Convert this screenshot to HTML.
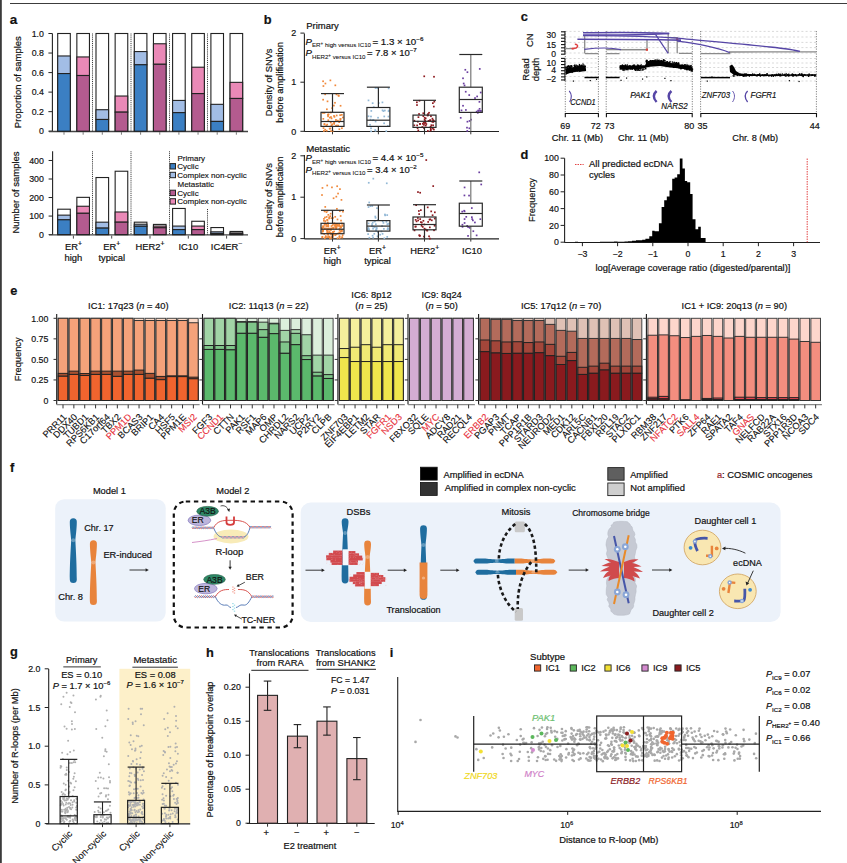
<!DOCTYPE html>
<html><head><meta charset="utf-8"><style>
html,body{margin:0;padding:0;background:#fff;width:847px;height:863px;overflow:hidden}
svg{display:block}
svg{fill:#111}
text{font-family:"Liberation Sans",sans-serif}
</style></head><body>
<svg width="847" height="863" viewBox="0 0 847 863">
<rect x="0" y="0" width="847" height="863" fill="#fff"/>
<rect x="0" y="0" width="1.8" height="863" fill="#3a3a3a"/>
<line x1="10" y1="3.5" x2="847" y2="3.5" stroke="#3c3c3c" stroke-width="1.2"/>
<text stroke="#111" stroke-width="0.2" x="9.8" y="24.1" font-size="13.5" font-weight="bold">a</text>
<line x1="52.4" y1="33.5" x2="52.4" y2="131.7" stroke="#222" stroke-width="1.1" />
<line x1="48.4" y1="131.2" x2="52.4" y2="131.2" stroke="#222" stroke-width="1" />
<text stroke="#111" stroke-width="0.179" x="43.9" y="134.3" font-size="8.8" text-anchor="end">0</text>
<line x1="48.4" y1="111.66" x2="52.4" y2="111.66" stroke="#222" stroke-width="1" />
<text stroke="#111" stroke-width="0.179" x="43.9" y="114.76" font-size="8.8" text-anchor="end">0.2</text>
<line x1="48.4" y1="92.12" x2="52.4" y2="92.12" stroke="#222" stroke-width="1" />
<text stroke="#111" stroke-width="0.179" x="43.9" y="95.22" font-size="8.8" text-anchor="end">0.4</text>
<line x1="48.4" y1="72.58" x2="52.4" y2="72.58" stroke="#222" stroke-width="1" />
<text stroke="#111" stroke-width="0.179" x="43.9" y="75.68" font-size="8.8" text-anchor="end">0.6</text>
<line x1="48.4" y1="53.04" x2="52.4" y2="53.04" stroke="#222" stroke-width="1" />
<text stroke="#111" stroke-width="0.179" x="43.9" y="56.14" font-size="8.8" text-anchor="end">0.8</text>
<line x1="48.4" y1="33.5" x2="52.4" y2="33.5" stroke="#222" stroke-width="1" />
<text stroke="#111" stroke-width="0.179" x="43.9" y="36.6" font-size="8.8" text-anchor="end">1.0</text>
<line x1="49" y1="131.5" x2="248" y2="131.5" stroke="#444" stroke-width="1.4" />
<text stroke="#111" stroke-width="0.2" x="21.3" y="82.2" font-size="9.46" text-anchor="middle" transform="rotate(-90 21.3 82.2)">Proportion of samples</text>
<rect x="57.7" y="33.5" width="12.6" height="97.7" fill="#fff" stroke="#222" stroke-width="1.1" />
<rect x="57.7" y="55.97" width="12.6" height="17.59" fill="#a2bde5" stroke="#222" stroke-width="1.1" />
<rect x="57.7" y="73.56" width="12.6" height="57.64" fill="#3b7fc3" stroke="#222" stroke-width="1.1" />
<line x1="64" y1="132.2" x2="64" y2="134.7" stroke="#555" stroke-width="0.8" />
<rect x="76.85" y="33.5" width="12.6" height="97.7" fill="#fff" stroke="#222" stroke-width="1.1" />
<rect x="76.85" y="56.95" width="12.6" height="18.56" fill="#ea89b7" stroke="#222" stroke-width="1.1" />
<rect x="76.85" y="75.51" width="12.6" height="55.69" fill="#b45b8f" stroke="#222" stroke-width="1.1" />
<line x1="83.15" y1="132.2" x2="83.15" y2="134.7" stroke="#555" stroke-width="0.8" />
<rect x="96" y="33.5" width="12.6" height="97.7" fill="#fff" stroke="#222" stroke-width="1.1" />
<rect x="96" y="109.71" width="12.6" height="9.77" fill="#a2bde5" stroke="#222" stroke-width="1.1" />
<rect x="96" y="119.48" width="12.6" height="11.72" fill="#3b7fc3" stroke="#222" stroke-width="1.1" />
<line x1="102.3" y1="132.2" x2="102.3" y2="134.7" stroke="#555" stroke-width="0.8" />
<rect x="115.15" y="33.5" width="12.6" height="97.7" fill="#fff" stroke="#222" stroke-width="1.1" />
<rect x="115.15" y="96.03" width="12.6" height="16.12" fill="#ea89b7" stroke="#222" stroke-width="1.1" />
<rect x="115.15" y="112.15" width="12.6" height="19.05" fill="#b45b8f" stroke="#222" stroke-width="1.1" />
<line x1="121.45" y1="132.2" x2="121.45" y2="134.7" stroke="#555" stroke-width="0.8" />
<rect x="134.3" y="33.5" width="12.6" height="97.7" fill="#fff" stroke="#222" stroke-width="1.1" />
<rect x="134.3" y="51.57" width="12.6" height="13.19" fill="#a2bde5" stroke="#222" stroke-width="1.1" />
<rect x="134.3" y="64.76" width="12.6" height="66.44" fill="#3b7fc3" stroke="#222" stroke-width="1.1" />
<line x1="140.6" y1="132.2" x2="140.6" y2="134.7" stroke="#555" stroke-width="0.8" />
<rect x="153.45" y="33.5" width="12.6" height="97.7" fill="#fff" stroke="#222" stroke-width="1.1" />
<rect x="153.45" y="43.76" width="12.6" height="20.52" fill="#ea89b7" stroke="#222" stroke-width="1.1" />
<rect x="153.45" y="64.28" width="12.6" height="66.92" fill="#b45b8f" stroke="#222" stroke-width="1.1" />
<line x1="159.75" y1="132.2" x2="159.75" y2="134.7" stroke="#555" stroke-width="0.8" />
<rect x="172.6" y="33.5" width="12.6" height="97.7" fill="#fff" stroke="#222" stroke-width="1.1" />
<rect x="172.6" y="100.42" width="12.6" height="12.21" fill="#a2bde5" stroke="#222" stroke-width="1.1" />
<rect x="172.6" y="112.64" width="12.6" height="18.56" fill="#3b7fc3" stroke="#222" stroke-width="1.1" />
<line x1="178.9" y1="132.2" x2="178.9" y2="134.7" stroke="#555" stroke-width="0.8" />
<rect x="191.75" y="33.5" width="12.6" height="97.7" fill="#fff" stroke="#222" stroke-width="1.1" />
<rect x="191.75" y="67.21" width="12.6" height="26.38" fill="#ea89b7" stroke="#222" stroke-width="1.1" />
<rect x="191.75" y="93.59" width="12.6" height="37.61" fill="#b45b8f" stroke="#222" stroke-width="1.1" />
<line x1="198.05" y1="132.2" x2="198.05" y2="134.7" stroke="#555" stroke-width="0.8" />
<rect x="210.9" y="33.5" width="12.6" height="97.7" fill="#fff" stroke="#222" stroke-width="1.1" />
<rect x="210.9" y="104.33" width="12.6" height="17.1" fill="#a2bde5" stroke="#222" stroke-width="1.1" />
<rect x="210.9" y="121.43" width="12.6" height="9.77" fill="#3b7fc3" stroke="#222" stroke-width="1.1" />
<line x1="217.2" y1="132.2" x2="217.2" y2="134.7" stroke="#555" stroke-width="0.8" />
<rect x="230.05" y="33.5" width="12.6" height="97.7" fill="#fff" stroke="#222" stroke-width="1.1" />
<rect x="230.05" y="82.35" width="12.6" height="16.12" fill="#ea89b7" stroke="#222" stroke-width="1.1" />
<rect x="230.05" y="98.47" width="12.6" height="32.73" fill="#b45b8f" stroke="#222" stroke-width="1.1" />
<line x1="236.35" y1="132.2" x2="236.35" y2="134.7" stroke="#555" stroke-width="0.8" />
<line x1="92.5" y1="33.5" x2="92.5" y2="131.2" stroke="#222" stroke-width="0.9" stroke-dasharray="1 0.9" />
<line x1="131" y1="33.5" x2="131" y2="131.2" stroke="#222" stroke-width="0.9" stroke-dasharray="1 0.9" />
<line x1="169.5" y1="33.5" x2="169.5" y2="131.2" stroke="#222" stroke-width="0.9" stroke-dasharray="1 0.9" />
<line x1="207.5" y1="33.5" x2="207.5" y2="131.2" stroke="#222" stroke-width="0.9" stroke-dasharray="1 0.9" />
<line x1="52.6" y1="151.3" x2="52.6" y2="235.1" stroke="#222" stroke-width="1.1" />
<line x1="48.6" y1="234.6" x2="52.6" y2="234.6" stroke="#222" stroke-width="1" />
<text stroke="#111" stroke-width="0.179" x="43.9" y="237.7" font-size="8.8" text-anchor="end">0</text>
<line x1="48.6" y1="216.07" x2="52.6" y2="216.07" stroke="#222" stroke-width="1" />
<text stroke="#111" stroke-width="0.179" x="43.9" y="219.17" font-size="8.8" text-anchor="end">100</text>
<line x1="48.6" y1="197.54" x2="52.6" y2="197.54" stroke="#222" stroke-width="1" />
<text stroke="#111" stroke-width="0.179" x="43.9" y="200.64" font-size="8.8" text-anchor="end">200</text>
<line x1="48.6" y1="179.01" x2="52.6" y2="179.01" stroke="#222" stroke-width="1" />
<text stroke="#111" stroke-width="0.179" x="43.9" y="182.11" font-size="8.8" text-anchor="end">300</text>
<line x1="48.6" y1="160.48" x2="52.6" y2="160.48" stroke="#222" stroke-width="1" />
<text stroke="#111" stroke-width="0.179" x="43.9" y="163.58" font-size="8.8" text-anchor="end">400</text>
<line x1="49" y1="234.9" x2="248" y2="234.9" stroke="#444" stroke-width="1.4" />
<text stroke="#111" stroke-width="0.2" x="18.8" y="192.5" font-size="9.46" text-anchor="middle" transform="rotate(-90 18.8 192.5)">Number of samples</text>
<rect x="57.7" y="209.21" width="12.6" height="25.39" fill="#fff" stroke="#222" stroke-width="1.1" />
<rect x="57.7" y="215.14" width="12.6" height="4.63" fill="#a2bde5" stroke="#222" stroke-width="1.1" />
<rect x="57.7" y="219.78" width="12.6" height="14.82" fill="#3b7fc3" stroke="#222" stroke-width="1.1" />
<rect x="76.85" y="197.35" width="12.6" height="37.25" fill="#fff" stroke="#222" stroke-width="1.1" />
<rect x="76.85" y="206.25" width="12.6" height="7.04" fill="#ea89b7" stroke="#222" stroke-width="1.1" />
<rect x="76.85" y="213.29" width="12.6" height="21.31" fill="#b45b8f" stroke="#222" stroke-width="1.1" />
<rect x="96" y="177.53" width="12.6" height="57.07" fill="#fff" stroke="#222" stroke-width="1.1" />
<rect x="96" y="222.18" width="12.6" height="5.93" fill="#a2bde5" stroke="#222" stroke-width="1.1" />
<rect x="96" y="228.11" width="12.6" height="6.49" fill="#3b7fc3" stroke="#222" stroke-width="1.1" />
<rect x="115.15" y="171.23" width="12.6" height="63.37" fill="#fff" stroke="#222" stroke-width="1.1" />
<rect x="115.15" y="211.99" width="12.6" height="10.19" fill="#ea89b7" stroke="#222" stroke-width="1.1" />
<rect x="115.15" y="222.18" width="12.6" height="12.42" fill="#b45b8f" stroke="#222" stroke-width="1.1" />
<rect x="134.3" y="222.18" width="12.6" height="12.42" fill="#fff" stroke="#222" stroke-width="1.1" />
<rect x="134.3" y="224.22" width="12.6" height="2.04" fill="#a2bde5" stroke="#222" stroke-width="1.1" />
<rect x="134.3" y="226.26" width="12.6" height="8.34" fill="#3b7fc3" stroke="#222" stroke-width="1.1" />
<rect x="153.45" y="224.41" width="12.6" height="10.19" fill="#fff" stroke="#222" stroke-width="1.1" />
<rect x="153.45" y="226.08" width="12.6" height="1.67" fill="#ea89b7" stroke="#222" stroke-width="1.1" />
<rect x="153.45" y="227.74" width="12.6" height="6.86" fill="#b45b8f" stroke="#222" stroke-width="1.1" />
<rect x="172.6" y="208.47" width="12.6" height="26.13" fill="#fff" stroke="#222" stroke-width="1.1" />
<rect x="172.6" y="226.08" width="12.6" height="3.52" fill="#a2bde5" stroke="#222" stroke-width="1.1" />
<rect x="172.6" y="229.6" width="12.6" height="5" fill="#3b7fc3" stroke="#222" stroke-width="1.1" />
<rect x="191.75" y="221.26" width="12.6" height="13.34" fill="#fff" stroke="#222" stroke-width="1.1" />
<rect x="191.75" y="226.08" width="12.6" height="3.52" fill="#ea89b7" stroke="#222" stroke-width="1.1" />
<rect x="191.75" y="229.6" width="12.6" height="5" fill="#b45b8f" stroke="#222" stroke-width="1.1" />
<rect x="210.9" y="227.56" width="12.6" height="7.04" fill="#fff" stroke="#222" stroke-width="1.1" />
<rect x="210.9" y="231.82" width="12.6" height="1.67" fill="#a2bde5" stroke="#222" stroke-width="1.1" />
<rect x="210.9" y="233.49" width="12.6" height="1.11" fill="#3b7fc3" stroke="#222" stroke-width="1.1" />
<rect x="230.05" y="231.45" width="12.6" height="3.15" fill="#fff" stroke="#222" stroke-width="1.1" />
<rect x="230.05" y="232.93" width="12.6" height="0.93" fill="#ea89b7" stroke="#222" stroke-width="1.1" />
<rect x="230.05" y="233.86" width="12.6" height="0.74" fill="#b45b8f" stroke="#222" stroke-width="1.1" />
<line x1="73.4" y1="235.6" x2="73.4" y2="238.6" stroke="#333" stroke-width="0.9" />
<line x1="111.7" y1="235.6" x2="111.7" y2="238.6" stroke="#333" stroke-width="0.9" />
<line x1="150" y1="235.6" x2="150" y2="238.6" stroke="#333" stroke-width="0.9" />
<line x1="188.3" y1="235.6" x2="188.3" y2="238.6" stroke="#333" stroke-width="0.9" />
<line x1="226.6" y1="235.6" x2="226.6" y2="238.6" stroke="#333" stroke-width="0.9" />
<line x1="92.5" y1="151.3" x2="92.5" y2="234.6" stroke="#222" stroke-width="0.9" stroke-dasharray="1 0.9" />
<line x1="131" y1="151.3" x2="131" y2="234.6" stroke="#222" stroke-width="0.9" stroke-dasharray="1 0.9" />
<line x1="169.5" y1="151.3" x2="169.5" y2="234.6" stroke="#222" stroke-width="0.9" stroke-dasharray="1 0.9" />
<line x1="207.5" y1="209" x2="207.5" y2="234.6" stroke="#222" stroke-width="0.9" stroke-dasharray="1 0.9" />
<text stroke="#111" stroke-width="0.2" x="73.4" y="250" font-size="9.4" text-anchor="middle">ER<tspan font-size="6.8" dy="-4">+</tspan></text>
<text stroke="#111" stroke-width="0.2" x="73.4" y="261" font-size="9.4" text-anchor="middle">high</text>
<text stroke="#111" stroke-width="0.2" x="111.7" y="250" font-size="9.4" text-anchor="middle">ER<tspan font-size="6.8" dy="-4">+</tspan></text>
<text stroke="#111" stroke-width="0.2" x="111.7" y="261" font-size="9.4" text-anchor="middle">typical</text>
<text stroke="#111" stroke-width="0.2" x="150" y="250" font-size="9.4" text-anchor="middle">HER2<tspan font-size="6.8" dy="-4">+</tspan></text>
<text stroke="#111" stroke-width="0.2" x="188.3" y="250" font-size="9.4" text-anchor="middle">IC10</text>
<text stroke="#111" stroke-width="0.2" x="226.6" y="250" font-size="9.4" text-anchor="middle">IC4ER<tspan font-size="6.8" dy="-4">−</tspan></text>
<text stroke="#111" stroke-width="0.148" x="177.5" y="160.6" font-size="8">Primary</text>
<rect x="170.1" y="163.6" width="5.4" height="5.4" fill="#3b7fc3" stroke="#222" stroke-width="1" />
<text stroke="#111" stroke-width="0.148" x="177.3" y="169" font-size="8">Cyclic</text>
<rect x="170.1" y="172.3" width="5.4" height="5.4" fill="#a2bde5" stroke="#222" stroke-width="1" />
<text stroke="#111" stroke-width="0.148" x="177.3" y="177.7" font-size="8">Complex non-cyclic</text>
<rect x="170.1" y="190.2" width="5.4" height="5.4" fill="#b45b8f" stroke="#222" stroke-width="1" />
<text stroke="#111" stroke-width="0.148" x="177.3" y="195.6" font-size="8">Cyclic</text>
<rect x="170.1" y="198.7" width="5.4" height="5.4" fill="#ea89b7" stroke="#222" stroke-width="1" />
<text stroke="#111" stroke-width="0.148" x="177.3" y="204.1" font-size="8">Complex non-cyclic</text>
<text stroke="#111" stroke-width="0.148" x="177.5" y="186.7" font-size="8">Metastatic</text>
<text stroke="#111" stroke-width="0.2" x="263.8" y="23.5" font-size="12.8" font-weight="bold">b</text>
<line x1="304.4" y1="33.4" x2="304.4" y2="131.8" stroke="#222" stroke-width="1.1" />
<line x1="300.4" y1="131.3" x2="304.4" y2="131.3" stroke="#222" stroke-width="1" />
<text stroke="#111" stroke-width="0.187" x="296.2" y="134.5" font-size="9" text-anchor="end">0</text>
<line x1="300.4" y1="82.2" x2="304.4" y2="82.2" stroke="#222" stroke-width="1" />
<text stroke="#111" stroke-width="0.187" x="296.2" y="85.4" font-size="9" text-anchor="end">1</text>
<line x1="300.4" y1="33.1" x2="304.4" y2="33.1" stroke="#222" stroke-width="1" />
<text stroke="#111" stroke-width="0.187" x="296.2" y="36.3" font-size="9" text-anchor="end">2</text>
<line x1="304.4" y1="131.5" x2="499" y2="131.5" stroke="#222" stroke-width="1.2" />
<line x1="332.5" y1="131.3" x2="332.5" y2="134.3" stroke="#333" stroke-width="1" />
<line x1="378.4" y1="131.3" x2="378.4" y2="134.3" stroke="#333" stroke-width="1" />
<line x1="424.5" y1="131.3" x2="424.5" y2="134.3" stroke="#333" stroke-width="1" />
<line x1="470.8" y1="131.3" x2="470.8" y2="134.3" stroke="#333" stroke-width="1" />
<text stroke="#111" stroke-width="0.2" x="306.2" y="29.1" font-size="9.5" textLength="32.6" lengthAdjust="spacingAndGlyphs">Primary</text>
<text stroke="#111" stroke-width="0.2" x="272.4" y="82.35" font-size="9.3" text-anchor="middle" transform="rotate(-90 272.4 82.35)">Density of SNVs</text>
<text stroke="#111" stroke-width="0.2" x="282.8" y="82.35" font-size="9.3" text-anchor="middle" transform="rotate(-90 282.8 82.35)">before amplification</text>
<rect x="324.32" y="128.86" width="1.7" height="1.7" fill="#f0883a" />
<rect x="322.67" y="127.25" width="1.7" height="1.7" fill="#f0883a" />
<rect x="328.83" y="127.82" width="1.7" height="1.7" fill="#f0883a" />
<rect x="331.81" y="130.17" width="1.7" height="1.7" fill="#f0883a" />
<rect x="330.26" y="130.27" width="1.7" height="1.7" fill="#f0883a" />
<rect x="323.05" y="130.11" width="1.7" height="1.7" fill="#f0883a" />
<rect x="338.51" y="128.37" width="1.7" height="1.7" fill="#f0883a" />
<rect x="325.84" y="129.84" width="1.7" height="1.7" fill="#f0883a" />
<rect x="341.05" y="127.37" width="1.7" height="1.7" fill="#f0883a" />
<rect x="329.48" y="127.62" width="1.7" height="1.7" fill="#f0883a" />
<rect x="322.13" y="112.12" width="1.7" height="1.7" fill="#f0883a" />
<rect x="327.23" y="113.74" width="1.7" height="1.7" fill="#f0883a" />
<rect x="323.62" y="123.56" width="1.7" height="1.7" fill="#f0883a" />
<rect x="338.29" y="121.3" width="1.7" height="1.7" fill="#f0883a" />
<rect x="333.36" y="123.06" width="1.7" height="1.7" fill="#f0883a" />
<rect x="328.97" y="116.76" width="1.7" height="1.7" fill="#f0883a" />
<rect x="322.47" y="118.01" width="1.7" height="1.7" fill="#f0883a" />
<rect x="325.48" y="124.72" width="1.7" height="1.7" fill="#f0883a" />
<rect x="330.13" y="116.19" width="1.7" height="1.7" fill="#f0883a" />
<rect x="333.45" y="121.22" width="1.7" height="1.7" fill="#f0883a" />
<rect x="327.45" y="119.31" width="1.7" height="1.7" fill="#f0883a" />
<rect x="335.83" y="114.62" width="1.7" height="1.7" fill="#f0883a" />
<rect x="333.21" y="122.18" width="1.7" height="1.7" fill="#f0883a" />
<rect x="339.53" y="118.32" width="1.7" height="1.7" fill="#f0883a" />
<rect x="327.2" y="115.51" width="1.7" height="1.7" fill="#f0883a" />
<rect x="323.63" y="112.06" width="1.7" height="1.7" fill="#f0883a" />
<rect x="337.05" y="119.79" width="1.7" height="1.7" fill="#f0883a" />
<rect x="331.42" y="123.45" width="1.7" height="1.7" fill="#f0883a" />
<rect x="335.18" y="125" width="1.7" height="1.7" fill="#f0883a" />
<rect x="333.18" y="115.03" width="1.7" height="1.7" fill="#f0883a" />
<rect x="327.74" y="113.5" width="1.7" height="1.7" fill="#f0883a" />
<rect x="333.63" y="115.98" width="1.7" height="1.7" fill="#f0883a" />
<rect x="330.73" y="117.57" width="1.7" height="1.7" fill="#f0883a" />
<rect x="340.99" y="113.99" width="1.7" height="1.7" fill="#f0883a" />
<rect x="335.1" y="119.02" width="1.7" height="1.7" fill="#f0883a" />
<rect x="335.88" y="124.71" width="1.7" height="1.7" fill="#f0883a" />
<rect x="342.01" y="116.64" width="1.7" height="1.7" fill="#f0883a" />
<rect x="327.13" y="114.24" width="1.7" height="1.7" fill="#f0883a" />
<rect x="335.19" y="120.24" width="1.7" height="1.7" fill="#f0883a" />
<rect x="330.85" y="125.23" width="1.7" height="1.7" fill="#f0883a" />
<rect x="323.61" y="123.23" width="1.7" height="1.7" fill="#f0883a" />
<rect x="337.28" y="124.73" width="1.7" height="1.7" fill="#f0883a" />
<rect x="326.35" y="123.76" width="1.7" height="1.7" fill="#f0883a" />
<rect x="339.45" y="120.17" width="1.7" height="1.7" fill="#f0883a" />
<rect x="330.58" y="124.43" width="1.7" height="1.7" fill="#f0883a" />
<rect x="339.7" y="117.99" width="1.7" height="1.7" fill="#f0883a" />
<rect x="339.29" y="114.28" width="1.7" height="1.7" fill="#f0883a" />
<rect x="329.87" y="121.71" width="1.7" height="1.7" fill="#f0883a" />
<rect x="339.72" y="104.92" width="1.7" height="1.7" fill="#f0883a" />
<rect x="324.32" y="93.45" width="1.7" height="1.7" fill="#f0883a" />
<rect x="326.02" y="108.42" width="1.7" height="1.7" fill="#f0883a" />
<rect x="331.33" y="107.32" width="1.7" height="1.7" fill="#f0883a" />
<rect x="326.67" y="100.51" width="1.7" height="1.7" fill="#f0883a" />
<rect x="329.95" y="111.71" width="1.7" height="1.7" fill="#f0883a" />
<rect x="333.04" y="104.72" width="1.7" height="1.7" fill="#f0883a" />
<rect x="335.65" y="93.54" width="1.7" height="1.7" fill="#f0883a" />
<rect x="334.12" y="101.92" width="1.7" height="1.7" fill="#f0883a" />
<rect x="322.28" y="98.84" width="1.7" height="1.7" fill="#f0883a" />
<rect x="337.53" y="94.57" width="1.7" height="1.7" fill="#f0883a" />
<rect x="337.91" y="95.05" width="1.7" height="1.7" fill="#f0883a" />
<rect x="329.53" y="79.52" width="1.7" height="1.7" fill="#f0883a" />
<rect x="334.47" y="84.48" width="1.7" height="1.7" fill="#f0883a" />
<rect x="322.56" y="85.19" width="1.7" height="1.7" fill="#f0883a" />
<rect x="324.56" y="82.67" width="1.7" height="1.7" fill="#f0883a" />
<rect x="322.25" y="80.42" width="1.7" height="1.7" fill="#f0883a" />
<rect x="370.23" y="130.45" width="1.7" height="1.7" fill="#92b8d6" />
<rect x="374.69" y="129.95" width="1.7" height="1.7" fill="#92b8d6" />
<rect x="385.41" y="130.32" width="1.7" height="1.7" fill="#92b8d6" />
<rect x="370.17" y="127.43" width="1.7" height="1.7" fill="#92b8d6" />
<rect x="374.35" y="129.21" width="1.7" height="1.7" fill="#92b8d6" />
<rect x="369.63" y="118.75" width="1.7" height="1.7" fill="#92b8d6" />
<rect x="387.91" y="109.7" width="1.7" height="1.7" fill="#92b8d6" />
<rect x="377.21" y="116.85" width="1.7" height="1.7" fill="#92b8d6" />
<rect x="369.2" y="123.94" width="1.7" height="1.7" fill="#92b8d6" />
<rect x="372.61" y="119.15" width="1.7" height="1.7" fill="#92b8d6" />
<rect x="370.44" y="110.08" width="1.7" height="1.7" fill="#92b8d6" />
<rect x="387.02" y="125.11" width="1.7" height="1.7" fill="#92b8d6" />
<rect x="370.13" y="115.68" width="1.7" height="1.7" fill="#92b8d6" />
<rect x="367.62" y="115.41" width="1.7" height="1.7" fill="#92b8d6" />
<rect x="387.6" y="115.69" width="1.7" height="1.7" fill="#92b8d6" />
<rect x="381.67" y="109.43" width="1.7" height="1.7" fill="#92b8d6" />
<rect x="374.75" y="120.67" width="1.7" height="1.7" fill="#92b8d6" />
<rect x="383.26" y="122.42" width="1.7" height="1.7" fill="#92b8d6" />
<rect x="383.41" y="115.6" width="1.7" height="1.7" fill="#92b8d6" />
<rect x="371.73" y="119.39" width="1.7" height="1.7" fill="#92b8d6" />
<rect x="387.73" y="110.4" width="1.7" height="1.7" fill="#92b8d6" />
<rect x="383.98" y="109.63" width="1.7" height="1.7" fill="#92b8d6" />
<rect x="382.59" y="110.27" width="1.7" height="1.7" fill="#92b8d6" />
<rect x="377.92" y="102.21" width="1.7" height="1.7" fill="#92b8d6" />
<rect x="367.66" y="99.55" width="1.7" height="1.7" fill="#92b8d6" />
<rect x="372.92" y="106.31" width="1.7" height="1.7" fill="#92b8d6" />
<rect x="381.59" y="101.54" width="1.7" height="1.7" fill="#92b8d6" />
<rect x="376.44" y="87.16" width="1.7" height="1.7" fill="#92b8d6" />
<rect x="387.8" y="87.56" width="1.7" height="1.7" fill="#92b8d6" />
<rect x="374.71" y="87.19" width="1.7" height="1.7" fill="#92b8d6" />
<rect x="371.81" y="102.34" width="1.7" height="1.7" fill="#92b8d6" />
<rect x="417.44" y="129.58" width="1.7" height="1.7" fill="#8e1a1f" />
<rect x="432.06" y="127.69" width="1.7" height="1.7" fill="#8e1a1f" />
<rect x="423.22" y="126.74" width="1.7" height="1.7" fill="#8e1a1f" />
<rect x="429.94" y="127.56" width="1.7" height="1.7" fill="#8e1a1f" />
<rect x="427.02" y="130.08" width="1.7" height="1.7" fill="#8e1a1f" />
<rect x="429.58" y="126.43" width="1.7" height="1.7" fill="#8e1a1f" />
<rect x="423.19" y="127.14" width="1.7" height="1.7" fill="#8e1a1f" />
<rect x="429.72" y="129.66" width="1.7" height="1.7" fill="#8e1a1f" />
<rect x="429.97" y="128.98" width="1.7" height="1.7" fill="#8e1a1f" />
<rect x="421.46" y="126.16" width="1.7" height="1.7" fill="#8e1a1f" />
<rect x="433.03" y="128.68" width="1.7" height="1.7" fill="#8e1a1f" />
<rect x="416.72" y="127.25" width="1.7" height="1.7" fill="#8e1a1f" />
<rect x="416.32" y="124.53" width="1.7" height="1.7" fill="#8e1a1f" />
<rect x="430.09" y="115.37" width="1.7" height="1.7" fill="#8e1a1f" />
<rect x="430.51" y="124.31" width="1.7" height="1.7" fill="#8e1a1f" />
<rect x="426.95" y="114.48" width="1.7" height="1.7" fill="#8e1a1f" />
<rect x="424.67" y="121.9" width="1.7" height="1.7" fill="#8e1a1f" />
<rect x="413.45" y="124.49" width="1.7" height="1.7" fill="#8e1a1f" />
<rect x="426.79" y="114.59" width="1.7" height="1.7" fill="#8e1a1f" />
<rect x="432.76" y="119.83" width="1.7" height="1.7" fill="#8e1a1f" />
<rect x="431.46" y="120.92" width="1.7" height="1.7" fill="#8e1a1f" />
<rect x="417.58" y="116.3" width="1.7" height="1.7" fill="#8e1a1f" />
<rect x="419.3" y="123.06" width="1.7" height="1.7" fill="#8e1a1f" />
<rect x="425.47" y="123.2" width="1.7" height="1.7" fill="#8e1a1f" />
<rect x="421.95" y="122.97" width="1.7" height="1.7" fill="#8e1a1f" />
<rect x="432.26" y="124.49" width="1.7" height="1.7" fill="#8e1a1f" />
<rect x="422.77" y="121.86" width="1.7" height="1.7" fill="#8e1a1f" />
<rect x="432.14" y="119.16" width="1.7" height="1.7" fill="#8e1a1f" />
<rect x="432.42" y="121.07" width="1.7" height="1.7" fill="#8e1a1f" />
<rect x="424.32" y="120.12" width="1.7" height="1.7" fill="#8e1a1f" />
<rect x="413.54" y="119.86" width="1.7" height="1.7" fill="#8e1a1f" />
<rect x="417" y="120.84" width="1.7" height="1.7" fill="#8e1a1f" />
<rect x="429.93" y="125.98" width="1.7" height="1.7" fill="#8e1a1f" />
<rect x="423.09" y="124" width="1.7" height="1.7" fill="#8e1a1f" />
<rect x="424.84" y="117.49" width="1.7" height="1.7" fill="#8e1a1f" />
<rect x="424.04" y="122.19" width="1.7" height="1.7" fill="#8e1a1f" />
<rect x="429.62" y="119.49" width="1.7" height="1.7" fill="#8e1a1f" />
<rect x="424.92" y="124.78" width="1.7" height="1.7" fill="#8e1a1f" />
<rect x="418.97" y="123.1" width="1.7" height="1.7" fill="#8e1a1f" />
<rect x="423.81" y="116.93" width="1.7" height="1.7" fill="#8e1a1f" />
<rect x="429.11" y="119.41" width="1.7" height="1.7" fill="#8e1a1f" />
<rect x="422.46" y="115.28" width="1.7" height="1.7" fill="#8e1a1f" />
<rect x="423.77" y="118.81" width="1.7" height="1.7" fill="#8e1a1f" />
<rect x="427.7" y="120" width="1.7" height="1.7" fill="#8e1a1f" />
<rect x="424.35" y="120.7" width="1.7" height="1.7" fill="#8e1a1f" />
<rect x="432.92" y="120.4" width="1.7" height="1.7" fill="#8e1a1f" />
<rect x="431.56" y="117.79" width="1.7" height="1.7" fill="#8e1a1f" />
<rect x="418.6" y="99.91" width="1.7" height="1.7" fill="#8e1a1f" />
<rect x="432.96" y="105.73" width="1.7" height="1.7" fill="#8e1a1f" />
<rect x="416.03" y="101.46" width="1.7" height="1.7" fill="#8e1a1f" />
<rect x="422.43" y="112.4" width="1.7" height="1.7" fill="#8e1a1f" />
<rect x="418.2" y="113.14" width="1.7" height="1.7" fill="#8e1a1f" />
<rect x="427.21" y="113.13" width="1.7" height="1.7" fill="#8e1a1f" />
<rect x="431.99" y="102.31" width="1.7" height="1.7" fill="#8e1a1f" />
<rect x="428.19" y="111.9" width="1.7" height="1.7" fill="#8e1a1f" />
<rect x="416.15" y="104.2" width="1.7" height="1.7" fill="#8e1a1f" />
<rect x="433.47" y="100.81" width="1.7" height="1.7" fill="#8e1a1f" />
<rect x="433.15" y="75.9" width="1.7" height="1.7" fill="#8e1a1f" />
<rect x="423.38" y="75.46" width="1.7" height="1.7" fill="#8e1a1f" />
<rect x="476.93" y="111.98" width="1.7" height="1.7" fill="#6b3fa0" />
<rect x="468.51" y="127.44" width="1.7" height="1.7" fill="#6b3fa0" />
<rect x="466.57" y="120.83" width="1.7" height="1.7" fill="#6b3fa0" />
<rect x="466.14" y="126.8" width="1.7" height="1.7" fill="#6b3fa0" />
<rect x="459.86" y="116.98" width="1.7" height="1.7" fill="#6b3fa0" />
<rect x="468.7" y="120.11" width="1.7" height="1.7" fill="#6b3fa0" />
<rect x="466.41" y="130.11" width="1.7" height="1.7" fill="#6b3fa0" />
<rect x="470.21" y="118.81" width="1.7" height="1.7" fill="#6b3fa0" />
<rect x="480.14" y="110.15" width="1.7" height="1.7" fill="#6b3fa0" />
<rect x="479.86" y="91.66" width="1.7" height="1.7" fill="#6b3fa0" />
<rect x="465.03" y="109.12" width="1.7" height="1.7" fill="#6b3fa0" />
<rect x="475.81" y="110.78" width="1.7" height="1.7" fill="#6b3fa0" />
<rect x="462.17" y="104.89" width="1.7" height="1.7" fill="#6b3fa0" />
<rect x="478.59" y="101.01" width="1.7" height="1.7" fill="#6b3fa0" />
<rect x="464.88" y="90.88" width="1.7" height="1.7" fill="#6b3fa0" />
<rect x="478.75" y="107.98" width="1.7" height="1.7" fill="#6b3fa0" />
<rect x="474.16" y="97.22" width="1.7" height="1.7" fill="#6b3fa0" />
<rect x="460.66" y="109.51" width="1.7" height="1.7" fill="#6b3fa0" />
<rect x="468.38" y="94.22" width="1.7" height="1.7" fill="#6b3fa0" />
<rect x="479.16" y="109.94" width="1.7" height="1.7" fill="#6b3fa0" />
<rect x="476.28" y="95.59" width="1.7" height="1.7" fill="#6b3fa0" />
<rect x="477.43" y="109.65" width="1.7" height="1.7" fill="#6b3fa0" />
<rect x="477.57" y="110.09" width="1.7" height="1.7" fill="#6b3fa0" />
<rect x="466.57" y="71.33" width="1.7" height="1.7" fill="#6b3fa0" />
<rect x="478.91" y="68.07" width="1.7" height="1.7" fill="#6b3fa0" />
<rect x="462.16" y="77.45" width="1.7" height="1.7" fill="#6b3fa0" />
<rect x="464.46" y="68.93" width="1.7" height="1.7" fill="#6b3fa0" />
<rect x="462.84" y="82.66" width="1.7" height="1.7" fill="#6b3fa0" />
<rect x="463.69" y="84.6" width="1.7" height="1.7" fill="#6b3fa0" />
<line x1="332.5" y1="93.6" x2="332.5" y2="112.3" stroke="#2a2a2a" stroke-width="1.2" />
<line x1="332.5" y1="126.4" x2="332.5" y2="131.3" stroke="#2a2a2a" stroke-width="1.2" />
<line x1="321" y1="93.6" x2="344" y2="93.6" stroke="#2a2a2a" stroke-width="1.2" />
<rect x="321" y="112.3" width="23" height="14.1" fill="none" stroke="#2a2a2a" stroke-width="1.2" />
<line x1="321" y1="121.5" x2="344" y2="121.5" stroke="#2a2a2a" stroke-width="1.2" />
<line x1="378.4" y1="87.2" x2="378.4" y2="107.5" stroke="#2a2a2a" stroke-width="1.2" />
<line x1="378.4" y1="126.4" x2="378.4" y2="131.3" stroke="#2a2a2a" stroke-width="1.2" />
<line x1="366.9" y1="87.2" x2="389.9" y2="87.2" stroke="#2a2a2a" stroke-width="1.2" />
<rect x="366.9" y="107.5" width="23" height="18.9" fill="none" stroke="#2a2a2a" stroke-width="1.2" />
<line x1="366.9" y1="120.2" x2="389.9" y2="120.2" stroke="#2a2a2a" stroke-width="1.2" />
<line x1="424.5" y1="100.3" x2="424.5" y2="115.1" stroke="#2a2a2a" stroke-width="1.2" />
<line x1="424.5" y1="127.4" x2="424.5" y2="131.3" stroke="#2a2a2a" stroke-width="1.2" />
<line x1="413" y1="100.3" x2="436" y2="100.3" stroke="#2a2a2a" stroke-width="1.2" />
<rect x="413" y="115.1" width="23" height="12.3" fill="none" stroke="#2a2a2a" stroke-width="1.2" />
<line x1="413" y1="121.3" x2="436" y2="121.3" stroke="#2a2a2a" stroke-width="1.2" />
<line x1="470.8" y1="54.5" x2="470.8" y2="87.2" stroke="#777" stroke-width="1.2" />
<line x1="470.8" y1="112.4" x2="470.8" y2="131.3" stroke="#777" stroke-width="1.2" />
<line x1="459.3" y1="54.5" x2="482.3" y2="54.5" stroke="#2a2a2a" stroke-width="1.2" />
<rect x="459.3" y="87.2" width="23" height="25.2" fill="none" stroke="#2a2a2a" stroke-width="1.2" />
<line x1="459.3" y1="99.5" x2="482.3" y2="99.5" stroke="#2a2a2a" stroke-width="1.2" />
<text stroke="#111" stroke-width="0.2" x="305.6" y="44.6" font-size="9.6" font-style="italic">P</text>
<text stroke="#111" stroke-width="0.083" x="312.0" y="47.4" font-size="6" textLength="59" lengthAdjust="spacingAndGlyphs">ER<tspan font-size="4.5" dy="-2.5">+</tspan><tspan dy="2.5"> high versus IC10</tspan></text>
<text stroke="#111" stroke-width="0.2" x="372.4" y="44.6" font-size="9.3" textLength="51" lengthAdjust="spacingAndGlyphs">= 1.3 × 10<tspan font-size="6" dy="-4">−6</tspan></text>
<text stroke="#111" stroke-width="0.2" x="305.6" y="56.3" font-size="9.6" font-style="italic">P</text>
<text stroke="#111" stroke-width="0.083" x="312.0" y="59.1" font-size="6" textLength="53.5" lengthAdjust="spacingAndGlyphs">HER2<tspan font-size="4.5" dy="-2.5">+</tspan><tspan dy="2.5"> versus IC10</tspan></text>
<text stroke="#111" stroke-width="0.2" x="367.0" y="56.3" font-size="9.3" textLength="49.7" lengthAdjust="spacingAndGlyphs">= 7.8 × 10<tspan font-size="6" dy="-4">−7</tspan></text>
<line x1="304.4" y1="155.1" x2="304.4" y2="239.1" stroke="#222" stroke-width="1.1" />
<line x1="300.4" y1="238.6" x2="304.4" y2="238.6" stroke="#222" stroke-width="1" />
<text stroke="#111" stroke-width="0.187" x="296.2" y="241.8" font-size="9" text-anchor="end">0</text>
<line x1="300.4" y1="197.2" x2="304.4" y2="197.2" stroke="#222" stroke-width="1" />
<text stroke="#111" stroke-width="0.187" x="296.2" y="200.4" font-size="9" text-anchor="end">1</text>
<line x1="300.4" y1="155.8" x2="304.4" y2="155.8" stroke="#222" stroke-width="1" />
<text stroke="#111" stroke-width="0.187" x="296.2" y="159" font-size="9" text-anchor="end">2</text>
<line x1="304.4" y1="238.8" x2="499" y2="238.8" stroke="#222" stroke-width="1.2" />
<line x1="332.5" y1="238.6" x2="332.5" y2="241.6" stroke="#333" stroke-width="1" />
<line x1="378.4" y1="238.6" x2="378.4" y2="241.6" stroke="#333" stroke-width="1" />
<line x1="424.5" y1="238.6" x2="424.5" y2="241.6" stroke="#333" stroke-width="1" />
<line x1="470.8" y1="238.6" x2="470.8" y2="241.6" stroke="#333" stroke-width="1" />
<text stroke="#111" stroke-width="0.2" x="306.2" y="151.7" font-size="9.5" textLength="44" lengthAdjust="spacingAndGlyphs">Metastatic</text>
<text stroke="#111" stroke-width="0.2" x="272.4" y="196.85" font-size="9.3" text-anchor="middle" transform="rotate(-90 272.4 196.85)">Density of SNVs</text>
<text stroke="#111" stroke-width="0.2" x="282.8" y="196.85" font-size="9.3" text-anchor="middle" transform="rotate(-90 282.8 196.85)">before amplification</text>
<rect x="327.56" y="236.2" width="1.7" height="1.7" fill="#f0883a" />
<rect x="327.24" y="233.98" width="1.7" height="1.7" fill="#f0883a" />
<rect x="324.89" y="235.27" width="1.7" height="1.7" fill="#f0883a" />
<rect x="321.53" y="236.03" width="1.7" height="1.7" fill="#f0883a" />
<rect x="321.47" y="236.51" width="1.7" height="1.7" fill="#f0883a" />
<rect x="332.72" y="234.11" width="1.7" height="1.7" fill="#f0883a" />
<rect x="331.12" y="236.81" width="1.7" height="1.7" fill="#f0883a" />
<rect x="323.38" y="233.11" width="1.7" height="1.7" fill="#f0883a" />
<rect x="330.23" y="233.68" width="1.7" height="1.7" fill="#f0883a" />
<rect x="338.68" y="235.29" width="1.7" height="1.7" fill="#f0883a" />
<rect x="331.79" y="235.8" width="1.7" height="1.7" fill="#f0883a" />
<rect x="341.78" y="234.33" width="1.7" height="1.7" fill="#f0883a" />
<rect x="338.63" y="236.05" width="1.7" height="1.7" fill="#f0883a" />
<rect x="334.51" y="234.24" width="1.7" height="1.7" fill="#f0883a" />
<rect x="328.45" y="235.74" width="1.7" height="1.7" fill="#f0883a" />
<rect x="323.88" y="237.48" width="1.7" height="1.7" fill="#f0883a" />
<rect x="336.71" y="237.4" width="1.7" height="1.7" fill="#f0883a" />
<rect x="324.58" y="236.48" width="1.7" height="1.7" fill="#f0883a" />
<rect x="338.82" y="237.33" width="1.7" height="1.7" fill="#f0883a" />
<rect x="335.23" y="233.43" width="1.7" height="1.7" fill="#f0883a" />
<rect x="326.24" y="236.35" width="1.7" height="1.7" fill="#f0883a" />
<rect x="330.8" y="236.29" width="1.7" height="1.7" fill="#f0883a" />
<rect x="330.51" y="236.97" width="1.7" height="1.7" fill="#f0883a" />
<rect x="341.35" y="236.44" width="1.7" height="1.7" fill="#f0883a" />
<rect x="332.64" y="232.92" width="1.7" height="1.7" fill="#f0883a" />
<rect x="341.43" y="236.54" width="1.7" height="1.7" fill="#f0883a" />
<rect x="328.64" y="236.21" width="1.7" height="1.7" fill="#f0883a" />
<rect x="329.16" y="237.74" width="1.7" height="1.7" fill="#f0883a" />
<rect x="331.71" y="235.39" width="1.7" height="1.7" fill="#f0883a" />
<rect x="331.75" y="236.75" width="1.7" height="1.7" fill="#f0883a" />
<rect x="326.7" y="232.73" width="1.7" height="1.7" fill="#f0883a" />
<rect x="329.54" y="231.85" width="1.7" height="1.7" fill="#f0883a" />
<rect x="321.62" y="232.35" width="1.7" height="1.7" fill="#f0883a" />
<rect x="326.04" y="229.63" width="1.7" height="1.7" fill="#f0883a" />
<rect x="332.26" y="226.72" width="1.7" height="1.7" fill="#f0883a" />
<rect x="334.96" y="225.01" width="1.7" height="1.7" fill="#f0883a" />
<rect x="339.61" y="225.37" width="1.7" height="1.7" fill="#f0883a" />
<rect x="328" y="228.75" width="1.7" height="1.7" fill="#f0883a" />
<rect x="324.29" y="222.59" width="1.7" height="1.7" fill="#f0883a" />
<rect x="334.66" y="225.29" width="1.7" height="1.7" fill="#f0883a" />
<rect x="338.69" y="232.33" width="1.7" height="1.7" fill="#f0883a" />
<rect x="334.32" y="223.55" width="1.7" height="1.7" fill="#f0883a" />
<rect x="338.21" y="225.19" width="1.7" height="1.7" fill="#f0883a" />
<rect x="332.15" y="231.34" width="1.7" height="1.7" fill="#f0883a" />
<rect x="338.68" y="227.56" width="1.7" height="1.7" fill="#f0883a" />
<rect x="338.5" y="224.45" width="1.7" height="1.7" fill="#f0883a" />
<rect x="339.9" y="226.74" width="1.7" height="1.7" fill="#f0883a" />
<rect x="335.71" y="225.71" width="1.7" height="1.7" fill="#f0883a" />
<rect x="321.8" y="230.4" width="1.7" height="1.7" fill="#f0883a" />
<rect x="328.72" y="231.4" width="1.7" height="1.7" fill="#f0883a" />
<rect x="338.7" y="231.7" width="1.7" height="1.7" fill="#f0883a" />
<rect x="334.33" y="227" width="1.7" height="1.7" fill="#f0883a" />
<rect x="335.44" y="226.3" width="1.7" height="1.7" fill="#f0883a" />
<rect x="321.22" y="227.72" width="1.7" height="1.7" fill="#f0883a" />
<rect x="336.86" y="224.53" width="1.7" height="1.7" fill="#f0883a" />
<rect x="332.39" y="227.58" width="1.7" height="1.7" fill="#f0883a" />
<rect x="322.54" y="225.96" width="1.7" height="1.7" fill="#f0883a" />
<rect x="326.45" y="225.16" width="1.7" height="1.7" fill="#f0883a" />
<rect x="326.73" y="232.01" width="1.7" height="1.7" fill="#f0883a" />
<rect x="325.46" y="225.23" width="1.7" height="1.7" fill="#f0883a" />
<rect x="341.64" y="225.12" width="1.7" height="1.7" fill="#f0883a" />
<rect x="329.18" y="227.67" width="1.7" height="1.7" fill="#f0883a" />
<rect x="335.51" y="227.82" width="1.7" height="1.7" fill="#f0883a" />
<rect x="334.11" y="224.84" width="1.7" height="1.7" fill="#f0883a" />
<rect x="322.78" y="226.13" width="1.7" height="1.7" fill="#f0883a" />
<rect x="326.48" y="231.26" width="1.7" height="1.7" fill="#f0883a" />
<rect x="327.54" y="225.09" width="1.7" height="1.7" fill="#f0883a" />
<rect x="321.41" y="226.91" width="1.7" height="1.7" fill="#f0883a" />
<rect x="326.79" y="232.15" width="1.7" height="1.7" fill="#f0883a" />
<rect x="335.69" y="225.83" width="1.7" height="1.7" fill="#f0883a" />
<rect x="327.26" y="225.79" width="1.7" height="1.7" fill="#f0883a" />
<rect x="330.91" y="227.44" width="1.7" height="1.7" fill="#f0883a" />
<rect x="323.64" y="227.96" width="1.7" height="1.7" fill="#f0883a" />
<rect x="325.33" y="223.53" width="1.7" height="1.7" fill="#f0883a" />
<rect x="340.81" y="222.66" width="1.7" height="1.7" fill="#f0883a" />
<rect x="330.79" y="232.6" width="1.7" height="1.7" fill="#f0883a" />
<rect x="341.48" y="224.3" width="1.7" height="1.7" fill="#f0883a" />
<rect x="326.79" y="228.13" width="1.7" height="1.7" fill="#f0883a" />
<rect x="341.01" y="230.61" width="1.7" height="1.7" fill="#f0883a" />
<rect x="333.36" y="230.6" width="1.7" height="1.7" fill="#f0883a" />
<rect x="332.16" y="231.31" width="1.7" height="1.7" fill="#f0883a" />
<rect x="323.93" y="222.92" width="1.7" height="1.7" fill="#f0883a" />
<rect x="331.83" y="224.29" width="1.7" height="1.7" fill="#f0883a" />
<rect x="335.92" y="223.6" width="1.7" height="1.7" fill="#f0883a" />
<rect x="340" y="230.39" width="1.7" height="1.7" fill="#f0883a" />
<rect x="321.67" y="227.75" width="1.7" height="1.7" fill="#f0883a" />
<rect x="331.48" y="232.74" width="1.7" height="1.7" fill="#f0883a" />
<rect x="327.49" y="228.12" width="1.7" height="1.7" fill="#f0883a" />
<rect x="328.37" y="231.33" width="1.7" height="1.7" fill="#f0883a" />
<rect x="338.79" y="229.51" width="1.7" height="1.7" fill="#f0883a" />
<rect x="336.92" y="232.76" width="1.7" height="1.7" fill="#f0883a" />
<rect x="323.67" y="224.1" width="1.7" height="1.7" fill="#f0883a" />
<rect x="336.12" y="223.19" width="1.7" height="1.7" fill="#f0883a" />
<rect x="327.24" y="223.45" width="1.7" height="1.7" fill="#f0883a" />
<rect x="329.4" y="228.93" width="1.7" height="1.7" fill="#f0883a" />
<rect x="333.52" y="222.44" width="1.7" height="1.7" fill="#f0883a" />
<rect x="330.14" y="229.05" width="1.7" height="1.7" fill="#f0883a" />
<rect x="322.16" y="229.93" width="1.7" height="1.7" fill="#f0883a" />
<rect x="338.68" y="231.73" width="1.7" height="1.7" fill="#f0883a" />
<rect x="340.8" y="229.83" width="1.7" height="1.7" fill="#f0883a" />
<rect x="326.73" y="230.2" width="1.7" height="1.7" fill="#f0883a" />
<rect x="325.14" y="227.49" width="1.7" height="1.7" fill="#f0883a" />
<rect x="341.23" y="228.92" width="1.7" height="1.7" fill="#f0883a" />
<rect x="338.2" y="223.63" width="1.7" height="1.7" fill="#f0883a" />
<rect x="340.33" y="226.25" width="1.7" height="1.7" fill="#f0883a" />
<rect x="332.68" y="223.05" width="1.7" height="1.7" fill="#f0883a" />
<rect x="322.19" y="225.33" width="1.7" height="1.7" fill="#f0883a" />
<rect x="330.62" y="225.2" width="1.7" height="1.7" fill="#f0883a" />
<rect x="334.68" y="224.99" width="1.7" height="1.7" fill="#f0883a" />
<rect x="322.18" y="229.82" width="1.7" height="1.7" fill="#f0883a" />
<rect x="323.82" y="210.54" width="1.7" height="1.7" fill="#f0883a" />
<rect x="328.37" y="216.37" width="1.7" height="1.7" fill="#f0883a" />
<rect x="336.67" y="218.61" width="1.7" height="1.7" fill="#f0883a" />
<rect x="326.61" y="209.9" width="1.7" height="1.7" fill="#f0883a" />
<rect x="327.47" y="214.01" width="1.7" height="1.7" fill="#f0883a" />
<rect x="329.43" y="215.28" width="1.7" height="1.7" fill="#f0883a" />
<rect x="324.54" y="220.28" width="1.7" height="1.7" fill="#f0883a" />
<rect x="340.18" y="219.76" width="1.7" height="1.7" fill="#f0883a" />
<rect x="325.77" y="216.05" width="1.7" height="1.7" fill="#f0883a" />
<rect x="342.08" y="210.8" width="1.7" height="1.7" fill="#f0883a" />
<rect x="324.08" y="216.66" width="1.7" height="1.7" fill="#f0883a" />
<rect x="323.06" y="219.96" width="1.7" height="1.7" fill="#f0883a" />
<rect x="323.06" y="218.04" width="1.7" height="1.7" fill="#f0883a" />
<rect x="326.58" y="219.36" width="1.7" height="1.7" fill="#f0883a" />
<rect x="339.78" y="215.12" width="1.7" height="1.7" fill="#f0883a" />
<rect x="329.82" y="212.81" width="1.7" height="1.7" fill="#f0883a" />
<rect x="332.16" y="217.12" width="1.7" height="1.7" fill="#f0883a" />
<rect x="328.25" y="217.6" width="1.7" height="1.7" fill="#f0883a" />
<rect x="326.98" y="221.64" width="1.7" height="1.7" fill="#f0883a" />
<rect x="323.79" y="210.01" width="1.7" height="1.7" fill="#f0883a" />
<rect x="334.37" y="215.97" width="1.7" height="1.7" fill="#f0883a" />
<rect x="325.69" y="211.36" width="1.7" height="1.7" fill="#f0883a" />
<rect x="326.37" y="218.95" width="1.7" height="1.7" fill="#f0883a" />
<rect x="330.51" y="217.3" width="1.7" height="1.7" fill="#f0883a" />
<rect x="338.97" y="210.19" width="1.7" height="1.7" fill="#f0883a" />
<rect x="321.61" y="187.09" width="1.7" height="1.7" fill="#f0883a" />
<rect x="336.05" y="207.97" width="1.7" height="1.7" fill="#f0883a" />
<rect x="331.09" y="186.52" width="1.7" height="1.7" fill="#f0883a" />
<rect x="321.15" y="194.18" width="1.7" height="1.7" fill="#f0883a" />
<rect x="340.61" y="199.04" width="1.7" height="1.7" fill="#f0883a" />
<rect x="339.11" y="188.26" width="1.7" height="1.7" fill="#f0883a" />
<rect x="326.37" y="184.62" width="1.7" height="1.7" fill="#f0883a" />
<rect x="324.39" y="206.06" width="1.7" height="1.7" fill="#f0883a" />
<rect x="335.47" y="195.79" width="1.7" height="1.7" fill="#f0883a" />
<rect x="336.31" y="185.38" width="1.7" height="1.7" fill="#f0883a" />
<rect x="337.21" y="192.69" width="1.7" height="1.7" fill="#f0883a" />
<rect x="332.73" y="197.41" width="1.7" height="1.7" fill="#f0883a" />
<rect x="383.48" y="237.46" width="1.7" height="1.7" fill="#92b8d6" />
<rect x="386.37" y="236.02" width="1.7" height="1.7" fill="#92b8d6" />
<rect x="373.43" y="232.94" width="1.7" height="1.7" fill="#92b8d6" />
<rect x="372.34" y="236.8" width="1.7" height="1.7" fill="#92b8d6" />
<rect x="381.72" y="233.01" width="1.7" height="1.7" fill="#92b8d6" />
<rect x="368.53" y="236.91" width="1.7" height="1.7" fill="#92b8d6" />
<rect x="379.29" y="233.84" width="1.7" height="1.7" fill="#92b8d6" />
<rect x="371.75" y="234.86" width="1.7" height="1.7" fill="#92b8d6" />
<rect x="367.27" y="233.27" width="1.7" height="1.7" fill="#92b8d6" />
<rect x="376.72" y="235.5" width="1.7" height="1.7" fill="#92b8d6" />
<rect x="380.59" y="230.6" width="1.7" height="1.7" fill="#92b8d6" />
<rect x="377.03" y="231.16" width="1.7" height="1.7" fill="#92b8d6" />
<rect x="372.24" y="227.87" width="1.7" height="1.7" fill="#92b8d6" />
<rect x="381.85" y="220.36" width="1.7" height="1.7" fill="#92b8d6" />
<rect x="367.51" y="227.12" width="1.7" height="1.7" fill="#92b8d6" />
<rect x="381.21" y="225.14" width="1.7" height="1.7" fill="#92b8d6" />
<rect x="372.45" y="225.95" width="1.7" height="1.7" fill="#92b8d6" />
<rect x="386.48" y="223.39" width="1.7" height="1.7" fill="#92b8d6" />
<rect x="367.77" y="227.95" width="1.7" height="1.7" fill="#92b8d6" />
<rect x="375.88" y="226.8" width="1.7" height="1.7" fill="#92b8d6" />
<rect x="371.21" y="223.23" width="1.7" height="1.7" fill="#92b8d6" />
<rect x="382.57" y="222.05" width="1.7" height="1.7" fill="#92b8d6" />
<rect x="371.36" y="225.07" width="1.7" height="1.7" fill="#92b8d6" />
<rect x="373.6" y="220.26" width="1.7" height="1.7" fill="#92b8d6" />
<rect x="371.9" y="221.81" width="1.7" height="1.7" fill="#92b8d6" />
<rect x="383.02" y="228.01" width="1.7" height="1.7" fill="#92b8d6" />
<rect x="387.04" y="227.25" width="1.7" height="1.7" fill="#92b8d6" />
<rect x="370.98" y="225.17" width="1.7" height="1.7" fill="#92b8d6" />
<rect x="375.81" y="227.99" width="1.7" height="1.7" fill="#92b8d6" />
<rect x="386.97" y="223.41" width="1.7" height="1.7" fill="#92b8d6" />
<rect x="375.31" y="228.78" width="1.7" height="1.7" fill="#92b8d6" />
<rect x="387.51" y="228.09" width="1.7" height="1.7" fill="#92b8d6" />
<rect x="368.14" y="228.83" width="1.7" height="1.7" fill="#92b8d6" />
<rect x="375.31" y="229.68" width="1.7" height="1.7" fill="#92b8d6" />
<rect x="385.61" y="221" width="1.7" height="1.7" fill="#92b8d6" />
<rect x="388" y="222.71" width="1.7" height="1.7" fill="#92b8d6" />
<rect x="373.96" y="220.66" width="1.7" height="1.7" fill="#92b8d6" />
<rect x="386.7" y="228.38" width="1.7" height="1.7" fill="#92b8d6" />
<rect x="367.72" y="222.57" width="1.7" height="1.7" fill="#92b8d6" />
<rect x="375" y="223.42" width="1.7" height="1.7" fill="#92b8d6" />
<rect x="374.02" y="226.43" width="1.7" height="1.7" fill="#92b8d6" />
<rect x="367.11" y="228.55" width="1.7" height="1.7" fill="#92b8d6" />
<rect x="374.43" y="215.66" width="1.7" height="1.7" fill="#92b8d6" />
<rect x="369.65" y="205.31" width="1.7" height="1.7" fill="#92b8d6" />
<rect x="371.41" y="205.18" width="1.7" height="1.7" fill="#92b8d6" />
<rect x="384.3" y="214.49" width="1.7" height="1.7" fill="#92b8d6" />
<rect x="376.13" y="207.36" width="1.7" height="1.7" fill="#92b8d6" />
<rect x="376.99" y="219.19" width="1.7" height="1.7" fill="#92b8d6" />
<rect x="386.36" y="214.24" width="1.7" height="1.7" fill="#92b8d6" />
<rect x="374.7" y="216.99" width="1.7" height="1.7" fill="#92b8d6" />
<rect x="367.69" y="206.21" width="1.7" height="1.7" fill="#92b8d6" />
<rect x="384.1" y="213.66" width="1.7" height="1.7" fill="#92b8d6" />
<rect x="367.9" y="181.93" width="1.7" height="1.7" fill="#92b8d6" />
<rect x="368.36" y="201.62" width="1.7" height="1.7" fill="#92b8d6" />
<rect x="372.45" y="177.8" width="1.7" height="1.7" fill="#92b8d6" />
<rect x="385.92" y="182.45" width="1.7" height="1.7" fill="#92b8d6" />
<rect x="418.87" y="234.8" width="1.7" height="1.7" fill="#8e1a1f" />
<rect x="426.11" y="229.42" width="1.7" height="1.7" fill="#8e1a1f" />
<rect x="428.2" y="235.47" width="1.7" height="1.7" fill="#8e1a1f" />
<rect x="418.94" y="235" width="1.7" height="1.7" fill="#8e1a1f" />
<rect x="429.02" y="237.72" width="1.7" height="1.7" fill="#8e1a1f" />
<rect x="426.46" y="229.78" width="1.7" height="1.7" fill="#8e1a1f" />
<rect x="413.66" y="229.55" width="1.7" height="1.7" fill="#8e1a1f" />
<rect x="423.13" y="235.72" width="1.7" height="1.7" fill="#8e1a1f" />
<rect x="433.18" y="229.43" width="1.7" height="1.7" fill="#8e1a1f" />
<rect x="418.42" y="234.39" width="1.7" height="1.7" fill="#8e1a1f" />
<rect x="423.51" y="223.54" width="1.7" height="1.7" fill="#8e1a1f" />
<rect x="416.99" y="217.14" width="1.7" height="1.7" fill="#8e1a1f" />
<rect x="428.66" y="218.76" width="1.7" height="1.7" fill="#8e1a1f" />
<rect x="429.38" y="218.5" width="1.7" height="1.7" fill="#8e1a1f" />
<rect x="420.03" y="221.26" width="1.7" height="1.7" fill="#8e1a1f" />
<rect x="420.75" y="224.95" width="1.7" height="1.7" fill="#8e1a1f" />
<rect x="414.81" y="219.02" width="1.7" height="1.7" fill="#8e1a1f" />
<rect x="428.96" y="226.52" width="1.7" height="1.7" fill="#8e1a1f" />
<rect x="414.51" y="225.88" width="1.7" height="1.7" fill="#8e1a1f" />
<rect x="424.75" y="228.62" width="1.7" height="1.7" fill="#8e1a1f" />
<rect x="433.74" y="224.88" width="1.7" height="1.7" fill="#8e1a1f" />
<rect x="433.89" y="217.72" width="1.7" height="1.7" fill="#8e1a1f" />
<rect x="414.92" y="225.66" width="1.7" height="1.7" fill="#8e1a1f" />
<rect x="423.62" y="227.82" width="1.7" height="1.7" fill="#8e1a1f" />
<rect x="422.54" y="219.95" width="1.7" height="1.7" fill="#8e1a1f" />
<rect x="421.9" y="226.05" width="1.7" height="1.7" fill="#8e1a1f" />
<rect x="427.31" y="221.09" width="1.7" height="1.7" fill="#8e1a1f" />
<rect x="430.94" y="219.46" width="1.7" height="1.7" fill="#8e1a1f" />
<rect x="415.69" y="220.53" width="1.7" height="1.7" fill="#8e1a1f" />
<rect x="419.32" y="218.26" width="1.7" height="1.7" fill="#8e1a1f" />
<rect x="420.98" y="221.78" width="1.7" height="1.7" fill="#8e1a1f" />
<rect x="417.33" y="219.58" width="1.7" height="1.7" fill="#8e1a1f" />
<rect x="418.3" y="213.25" width="1.7" height="1.7" fill="#8e1a1f" />
<rect x="431.72" y="214.38" width="1.7" height="1.7" fill="#8e1a1f" />
<rect x="420" y="209.28" width="1.7" height="1.7" fill="#8e1a1f" />
<rect x="433.99" y="211.47" width="1.7" height="1.7" fill="#8e1a1f" />
<rect x="418.01" y="210.13" width="1.7" height="1.7" fill="#8e1a1f" />
<rect x="426.87" y="206.52" width="1.7" height="1.7" fill="#8e1a1f" />
<rect x="415.3" y="204.32" width="1.7" height="1.7" fill="#8e1a1f" />
<rect x="430.35" y="210.52" width="1.7" height="1.7" fill="#8e1a1f" />
<rect x="432.35" y="185.25" width="1.7" height="1.7" fill="#8e1a1f" />
<rect x="419.32" y="191.88" width="1.7" height="1.7" fill="#8e1a1f" />
<rect x="417.13" y="191.22" width="1.7" height="1.7" fill="#8e1a1f" />
<rect x="425.4" y="159.2" width="1.7" height="1.7" fill="#8e1a1f" />
<rect x="467.27" y="226.2" width="1.7" height="1.7" fill="#6b3fa0" />
<rect x="468.88" y="226.99" width="1.7" height="1.7" fill="#6b3fa0" />
<rect x="475.78" y="234.52" width="1.7" height="1.7" fill="#6b3fa0" />
<rect x="461.67" y="226" width="1.7" height="1.7" fill="#6b3fa0" />
<rect x="472.47" y="230.35" width="1.7" height="1.7" fill="#6b3fa0" />
<rect x="467.19" y="235.05" width="1.7" height="1.7" fill="#6b3fa0" />
<rect x="463.73" y="222.11" width="1.7" height="1.7" fill="#6b3fa0" />
<rect x="472.04" y="219.53" width="1.7" height="1.7" fill="#6b3fa0" />
<rect x="463.72" y="210.49" width="1.7" height="1.7" fill="#6b3fa0" />
<rect x="466.32" y="225.07" width="1.7" height="1.7" fill="#6b3fa0" />
<rect x="463.34" y="209.88" width="1.7" height="1.7" fill="#6b3fa0" />
<rect x="463.72" y="218.22" width="1.7" height="1.7" fill="#6b3fa0" />
<rect x="470.96" y="207.22" width="1.7" height="1.7" fill="#6b3fa0" />
<rect x="461.58" y="223.89" width="1.7" height="1.7" fill="#6b3fa0" />
<rect x="471" y="216.33" width="1.7" height="1.7" fill="#6b3fa0" />
<rect x="461.36" y="210.78" width="1.7" height="1.7" fill="#6b3fa0" />
<rect x="474.05" y="221.6" width="1.7" height="1.7" fill="#6b3fa0" />
<rect x="465.4" y="216" width="1.7" height="1.7" fill="#6b3fa0" />
<rect x="479.47" y="218.33" width="1.7" height="1.7" fill="#6b3fa0" />
<rect x="471.35" y="218.22" width="1.7" height="1.7" fill="#6b3fa0" />
<rect x="468.2" y="194.72" width="1.7" height="1.7" fill="#6b3fa0" />
<rect x="480.38" y="183.6" width="1.7" height="1.7" fill="#6b3fa0" />
<rect x="463.59" y="194.58" width="1.7" height="1.7" fill="#6b3fa0" />
<rect x="463.73" y="186.59" width="1.7" height="1.7" fill="#6b3fa0" />
<rect x="478.38" y="171.49" width="1.7" height="1.7" fill="#6b3fa0" />
<line x1="332.5" y1="210.3" x2="332.5" y2="223.3" stroke="#2a2a2a" stroke-width="1.2" />
<line x1="332.5" y1="233.7" x2="332.5" y2="238.6" stroke="#2a2a2a" stroke-width="1.2" />
<line x1="321" y1="210.3" x2="344" y2="210.3" stroke="#2a2a2a" stroke-width="1.2" />
<rect x="321" y="223.3" width="23" height="10.4" fill="none" stroke="#2a2a2a" stroke-width="1.2" />
<line x1="321" y1="229.2" x2="344" y2="229.2" stroke="#2a2a2a" stroke-width="1.2" />
<line x1="378.4" y1="205" x2="378.4" y2="220.6" stroke="#2a2a2a" stroke-width="1.2" />
<line x1="378.4" y1="231.1" x2="378.4" y2="238.6" stroke="#2a2a2a" stroke-width="1.2" />
<line x1="366.9" y1="205" x2="389.9" y2="205" stroke="#2a2a2a" stroke-width="1.2" />
<rect x="366.9" y="220.6" width="23" height="10.5" fill="none" stroke="#2a2a2a" stroke-width="1.2" />
<line x1="366.9" y1="226.1" x2="389.9" y2="226.1" stroke="#2a2a2a" stroke-width="1.2" />
<line x1="424.5" y1="204.7" x2="424.5" y2="217" stroke="#2a2a2a" stroke-width="1.2" />
<line x1="424.5" y1="229.8" x2="424.5" y2="238.6" stroke="#2a2a2a" stroke-width="1.2" />
<line x1="413" y1="204.7" x2="436" y2="204.7" stroke="#2a2a2a" stroke-width="1.2" />
<rect x="413" y="217" width="23" height="12.8" fill="none" stroke="#2a2a2a" stroke-width="1.2" />
<line x1="413" y1="224.5" x2="436" y2="224.5" stroke="#2a2a2a" stroke-width="1.2" />
<line x1="470.8" y1="181" x2="470.8" y2="203.2" stroke="#777" stroke-width="1.2" />
<line x1="470.8" y1="226.2" x2="470.8" y2="238.6" stroke="#777" stroke-width="1.2" />
<line x1="459.3" y1="181" x2="482.3" y2="181" stroke="#2a2a2a" stroke-width="1.2" />
<rect x="459.3" y="203.2" width="23" height="23" fill="none" stroke="#2a2a2a" stroke-width="1.2" />
<line x1="459.3" y1="213.5" x2="482.3" y2="213.5" stroke="#2a2a2a" stroke-width="1.2" />
<text stroke="#111" stroke-width="0.2" x="305.6" y="161.2" font-size="9.6" font-style="italic">P</text>
<text stroke="#111" stroke-width="0.083" x="312.0" y="164" font-size="6" textLength="59" lengthAdjust="spacingAndGlyphs">ER<tspan font-size="4.5" dy="-2.5">+</tspan><tspan dy="2.5"> high versus IC10</tspan></text>
<text stroke="#111" stroke-width="0.2" x="372.4" y="161.2" font-size="9.3" textLength="51" lengthAdjust="spacingAndGlyphs">= 4.4 × 10<tspan font-size="6" dy="-4">−5</tspan></text>
<text stroke="#111" stroke-width="0.2" x="305.6" y="172.6" font-size="9.6" font-style="italic">P</text>
<text stroke="#111" stroke-width="0.083" x="312.0" y="175.4" font-size="6" textLength="53.5" lengthAdjust="spacingAndGlyphs">HER2<tspan font-size="4.5" dy="-2.5">+</tspan><tspan dy="2.5"> versus IC10</tspan></text>
<text stroke="#111" stroke-width="0.2" x="367.0" y="172.6" font-size="9.3" textLength="49.7" lengthAdjust="spacingAndGlyphs">= 3.4 × 10<tspan font-size="6" dy="-4">−2</tspan></text>
<text stroke="#111" stroke-width="0.2" x="332.3" y="253.7" font-size="9.4" text-anchor="middle">ER<tspan font-size="6.8" dy="-4">+</tspan></text>
<text stroke="#111" stroke-width="0.2" x="332.3" y="264.2" font-size="9.4" text-anchor="middle">high</text>
<text stroke="#111" stroke-width="0.2" x="377.5" y="253.7" font-size="9.4" text-anchor="middle">ER<tspan font-size="6.8" dy="-4">+</tspan></text>
<text stroke="#111" stroke-width="0.2" x="377.5" y="264.2" font-size="9.4" text-anchor="middle">typical</text>
<text stroke="#111" stroke-width="0.2" x="424.7" y="253.7" font-size="9.4" text-anchor="middle">HER2<tspan font-size="6.8" dy="-4">+</tspan></text>
<text stroke="#111" stroke-width="0.2" x="472" y="253.7" font-size="9.4" text-anchor="middle">IC10</text>
<text stroke="#111" stroke-width="0.2" x="520.8" y="21.4" font-size="12.8" font-weight="bold">c</text>
<line x1="565.3" y1="31.4" x2="598.4" y2="31.4" stroke="#cfcfcf" stroke-width="0.8" stroke-dasharray="2 2.2" />
<line x1="565.3" y1="37" x2="598.4" y2="37" stroke="#cfcfcf" stroke-width="0.8" stroke-dasharray="2 2.2" />
<line x1="565.3" y1="42.4" x2="598.4" y2="42.4" stroke="#cfcfcf" stroke-width="0.8" stroke-dasharray="2 2.2" />
<line x1="565.3" y1="47.6" x2="598.4" y2="47.6" stroke="#cfcfcf" stroke-width="0.8" stroke-dasharray="2 2.2" />
<line x1="565.3" y1="53" x2="598.4" y2="53" stroke="#cfcfcf" stroke-width="0.8" stroke-dasharray="2 2.2" />
<line x1="565.3" y1="58.5" x2="598.4" y2="58.5" stroke="#cfcfcf" stroke-width="0.8" stroke-dasharray="2 2.2" />
<line x1="565.3" y1="63" x2="598.4" y2="63" stroke="#cfcfcf" stroke-width="0.8" stroke-dasharray="2 2.2" />
<line x1="565.3" y1="67.5" x2="598.4" y2="67.5" stroke="#cfcfcf" stroke-width="0.8" stroke-dasharray="2 2.2" />
<line x1="565.3" y1="72" x2="598.4" y2="72" stroke="#cfcfcf" stroke-width="0.8" stroke-dasharray="2 2.2" />
<line x1="565.3" y1="76.5" x2="598.4" y2="76.5" stroke="#cfcfcf" stroke-width="0.8" stroke-dasharray="2 2.2" />
<line x1="565.3" y1="81" x2="598.4" y2="81" stroke="#cfcfcf" stroke-width="0.8" stroke-dasharray="2 2.2" />
<line x1="606.2" y1="31.4" x2="692.3" y2="31.4" stroke="#cfcfcf" stroke-width="0.8" stroke-dasharray="2 2.2" />
<line x1="606.2" y1="37" x2="692.3" y2="37" stroke="#cfcfcf" stroke-width="0.8" stroke-dasharray="2 2.2" />
<line x1="606.2" y1="42.4" x2="692.3" y2="42.4" stroke="#cfcfcf" stroke-width="0.8" stroke-dasharray="2 2.2" />
<line x1="606.2" y1="47.6" x2="692.3" y2="47.6" stroke="#cfcfcf" stroke-width="0.8" stroke-dasharray="2 2.2" />
<line x1="606.2" y1="53" x2="692.3" y2="53" stroke="#cfcfcf" stroke-width="0.8" stroke-dasharray="2 2.2" />
<line x1="606.2" y1="58.5" x2="692.3" y2="58.5" stroke="#cfcfcf" stroke-width="0.8" stroke-dasharray="2 2.2" />
<line x1="606.2" y1="63" x2="692.3" y2="63" stroke="#cfcfcf" stroke-width="0.8" stroke-dasharray="2 2.2" />
<line x1="606.2" y1="67.5" x2="692.3" y2="67.5" stroke="#cfcfcf" stroke-width="0.8" stroke-dasharray="2 2.2" />
<line x1="606.2" y1="72" x2="692.3" y2="72" stroke="#cfcfcf" stroke-width="0.8" stroke-dasharray="2 2.2" />
<line x1="606.2" y1="76.5" x2="692.3" y2="76.5" stroke="#cfcfcf" stroke-width="0.8" stroke-dasharray="2 2.2" />
<line x1="606.2" y1="81" x2="692.3" y2="81" stroke="#cfcfcf" stroke-width="0.8" stroke-dasharray="2 2.2" />
<line x1="700.6" y1="31.4" x2="816.4" y2="31.4" stroke="#cfcfcf" stroke-width="0.8" stroke-dasharray="2 2.2" />
<line x1="700.6" y1="37" x2="816.4" y2="37" stroke="#cfcfcf" stroke-width="0.8" stroke-dasharray="2 2.2" />
<line x1="700.6" y1="42.4" x2="816.4" y2="42.4" stroke="#cfcfcf" stroke-width="0.8" stroke-dasharray="2 2.2" />
<line x1="700.6" y1="47.6" x2="816.4" y2="47.6" stroke="#cfcfcf" stroke-width="0.8" stroke-dasharray="2 2.2" />
<line x1="700.6" y1="53" x2="816.4" y2="53" stroke="#cfcfcf" stroke-width="0.8" stroke-dasharray="2 2.2" />
<line x1="700.6" y1="58.5" x2="816.4" y2="58.5" stroke="#cfcfcf" stroke-width="0.8" stroke-dasharray="2 2.2" />
<line x1="700.6" y1="63" x2="816.4" y2="63" stroke="#cfcfcf" stroke-width="0.8" stroke-dasharray="2 2.2" />
<line x1="700.6" y1="67.5" x2="816.4" y2="67.5" stroke="#cfcfcf" stroke-width="0.8" stroke-dasharray="2 2.2" />
<line x1="700.6" y1="72" x2="816.4" y2="72" stroke="#cfcfcf" stroke-width="0.8" stroke-dasharray="2 2.2" />
<line x1="700.6" y1="76.5" x2="816.4" y2="76.5" stroke="#cfcfcf" stroke-width="0.8" stroke-dasharray="2 2.2" />
<line x1="700.6" y1="81" x2="816.4" y2="81" stroke="#cfcfcf" stroke-width="0.8" stroke-dasharray="2 2.2" />
<line x1="565.3" y1="31" x2="565.3" y2="113" stroke="#777" stroke-width="0.9" stroke-dasharray="1.2 1.3" />
<line x1="598.4" y1="31" x2="598.4" y2="113" stroke="#777" stroke-width="0.9" stroke-dasharray="1.2 1.3" />
<line x1="606.2" y1="31" x2="606.2" y2="113" stroke="#777" stroke-width="0.9" stroke-dasharray="1.2 1.3" />
<line x1="692.3" y1="31" x2="692.3" y2="113" stroke="#777" stroke-width="0.9" stroke-dasharray="1.2 1.3" />
<line x1="700.6" y1="31" x2="700.6" y2="113" stroke="#777" stroke-width="0.9" stroke-dasharray="1.2 1.3" />
<line x1="816.4" y1="31" x2="816.4" y2="113" stroke="#777" stroke-width="0.9" stroke-dasharray="1.2 1.3" />
<line x1="564.9" y1="31.2" x2="564.9" y2="54.3" stroke="#222" stroke-width="1.1" />
<line x1="561" y1="31.8" x2="564.9" y2="31.8" stroke="#111" stroke-width="1.1" />
<line x1="561" y1="35" x2="564.9" y2="35" stroke="#111" stroke-width="1.1" />
<line x1="561" y1="38.2" x2="564.9" y2="38.2" stroke="#111" stroke-width="1.1" />
<line x1="561" y1="41.4" x2="564.9" y2="41.4" stroke="#111" stroke-width="1.1" />
<line x1="561" y1="44.6" x2="564.9" y2="44.6" stroke="#111" stroke-width="1.1" />
<line x1="561" y1="47.8" x2="564.9" y2="47.8" stroke="#111" stroke-width="1.1" />
<line x1="561" y1="51" x2="564.9" y2="51" stroke="#111" stroke-width="1.1" />
<line x1="561" y1="54.2" x2="564.9" y2="54.2" stroke="#111" stroke-width="1.1" />
<line x1="564.9" y1="58.5" x2="564.9" y2="81" stroke="#222" stroke-width="1.1" />
<line x1="561" y1="58.4" x2="564.9" y2="58.4" stroke="#111" stroke-width="1.1" />
<line x1="561" y1="61.48" x2="564.9" y2="61.48" stroke="#111" stroke-width="1.1" />
<line x1="561" y1="64.56" x2="564.9" y2="64.56" stroke="#111" stroke-width="1.1" />
<line x1="561" y1="67.64" x2="564.9" y2="67.64" stroke="#111" stroke-width="1.1" />
<line x1="561" y1="70.72" x2="564.9" y2="70.72" stroke="#111" stroke-width="1.1" />
<line x1="561" y1="73.8" x2="564.9" y2="73.8" stroke="#111" stroke-width="1.1" />
<line x1="561" y1="76.88" x2="564.9" y2="76.88" stroke="#111" stroke-width="1.1" />
<line x1="561" y1="79.96" x2="564.9" y2="79.96" stroke="#111" stroke-width="1.1" />
<text stroke="#111" stroke-width="0.171" x="556" y="37.8" font-size="8.6" text-anchor="end">30</text>
<text stroke="#111" stroke-width="0.171" x="556" y="47.6" font-size="8.6" text-anchor="end">15</text>
<text stroke="#111" stroke-width="0.171" x="556" y="57.4" font-size="8.6" text-anchor="end">0</text>
<text stroke="#111" stroke-width="0.171" x="556" y="65.6" font-size="8.6" text-anchor="end">10</text>
<text stroke="#111" stroke-width="0.171" x="556" y="73.2" font-size="8.6" text-anchor="end">4</text>
<text stroke="#111" stroke-width="0.171" x="556" y="81.8" font-size="8.6" text-anchor="end">−2</text>
<text stroke="#111" stroke-width="0.2" x="533" y="40.2" font-size="9.3" text-anchor="middle" transform="rotate(-90 533 40.2)">CN</text>
<text stroke="#111" stroke-width="0.2" x="528.5" y="69.5" font-size="9.3" text-anchor="middle" transform="rotate(-90 528.5 69.5)">Read</text>
<text stroke="#111" stroke-width="0.2" x="539.2" y="69.5" font-size="9.3" text-anchor="middle" transform="rotate(-90 539.2 69.5)">depth</text>
<path d="M565,48.6 L574.5,48.6 M585,53.6 L598.3,53.6 M606.4,53.6 L619.5,53.6 M584.7,35 L584.7,53.6 M606,49.6 L647,49.6 L647,40 M647,34.4 L655.5,34.4 M668.2,34 L668.2,53.3 M670.6,37.7 L677.2,37.7 L677.2,53.3 M679,53.3 L692.3,53.3 M700.8,53.6 L729.7,53.6 L729.7,52 L816.4,51.8" fill="none" stroke="#8a8a8a" stroke-width="1.3" />
<path d="M619.5,49.6 L647,49.6" fill="none" stroke="#8a8a8a" stroke-width="1.3" />
<rect x="645.8" y="48.6" width="2.2" height="2.2" fill="#e0443a" />
<rect x="676.2" y="38.2" width="2.2" height="2.2" fill="#e0443a" />
<path d="M571.5,48.5 C 579,49 579,44 574.8,44.3" fill="none" stroke="#e04040" stroke-width="1.4" />
<rect x="572" y="47.8" width="1.6" height="1.6" fill="#e04040" />
<path d="M583,32.7 C 620,32.2 650,32.2 669.2,33.4" fill="none" stroke="#5646a6" stroke-width="1.5" />
<path d="M583,34.9 C 620,35.2 650,35 669.2,33.6" fill="none" stroke="#5646a6" stroke-width="1.5" />
<path d="M583,35.6 C 620,35.8 650,36 677.2,38.2 C 700,40.5 740,43.8 770,47 C 785,48.6 795,50 800,51.4" fill="none" stroke="#5646a6" stroke-width="1.3" />
<path d="M577.4,39.2 C 620,39.2 660,39.6 681,40.1" fill="none" stroke="#5646a6" stroke-width="1.6" />
<path d="M677.2,41.2 C 700,44 718,48 729.7,52.6" fill="none" stroke="#5646a6" stroke-width="1.2" />
<path d="M655.5,34.4 L668.2,53.3" fill="none" stroke="#5646a6" stroke-width="1.2" />
<path d="M584.3,49.4 C 598,47.6 612,47.6 621,49.6" fill="none" stroke="#5646a6" stroke-width="1.1" />
<path d="M565.8,71.5 L568,68.5 L572,67.5 L578,65.8 L585.4,65.5 L585.4,71.2 L578,71.5 L572,72.5 L568,73.5 L565.8,75 Z" fill="#000" />
<rect x="574.07" y="68.29" width="1.3" height="1.3" fill="#000" />
<rect x="583.31" y="66.24" width="1.3" height="1.3" fill="#000" />
<rect x="575.15" y="68.32" width="1.3" height="1.3" fill="#000" />
<rect x="568.82" y="68.74" width="1.3" height="1.3" fill="#000" />
<rect x="577.55" y="69.4" width="1.3" height="1.3" fill="#000" />
<rect x="567.04" y="67.55" width="1.3" height="1.3" fill="#000" />
<rect x="566.98" y="71.1" width="1.3" height="1.3" fill="#000" />
<rect x="578.79" y="63.95" width="1.3" height="1.3" fill="#000" />
<rect x="584.45" y="69.57" width="1.3" height="1.3" fill="#000" />
<rect x="578.02" y="68.09" width="1.3" height="1.3" fill="#000" />
<rect x="568.29" y="65.34" width="1.3" height="1.3" fill="#000" />
<rect x="575.56" y="64.56" width="1.3" height="1.3" fill="#000" />
<rect x="568.93" y="66.83" width="1.3" height="1.3" fill="#000" />
<rect x="565.79" y="68.86" width="1.3" height="1.3" fill="#000" />
<rect x="573.83" y="70.3" width="1.3" height="1.3" fill="#000" />
<rect x="575.37" y="68.66" width="1.3" height="1.3" fill="#000" />
<rect x="575" y="68.87" width="1.3" height="1.3" fill="#000" />
<rect x="574.16" y="66.3" width="1.3" height="1.3" fill="#000" />
<rect x="584.75" y="69.74" width="1.3" height="1.3" fill="#000" />
<rect x="581.67" y="68.18" width="1.3" height="1.3" fill="#000" />
<rect x="571.38" y="66.38" width="1.3" height="1.3" fill="#000" />
<rect x="570.87" y="65.34" width="1.3" height="1.3" fill="#000" />
<rect x="580.22" y="66.25" width="1.3" height="1.3" fill="#000" />
<rect x="581.79" y="65.92" width="1.3" height="1.3" fill="#000" />
<rect x="583.98" y="68.81" width="1.3" height="1.3" fill="#000" />
<rect x="565.21" y="67.17" width="1.3" height="1.3" fill="#000" />
<rect x="583.04" y="66.31" width="1.3" height="1.3" fill="#000" />
<rect x="584.42" y="65.6" width="1.3" height="1.3" fill="#000" />
<rect x="566.63" y="69.89" width="1.3" height="1.3" fill="#000" />
<rect x="580.46" y="65.3" width="1.3" height="1.3" fill="#000" />
<rect x="566.91" y="67.77" width="1.3" height="1.3" fill="#000" />
<rect x="584.1" y="68.17" width="1.3" height="1.3" fill="#000" />
<rect x="567.51" y="67.08" width="1.3" height="1.3" fill="#000" />
<rect x="567.18" y="65.82" width="1.3" height="1.3" fill="#000" />
<rect x="580.82" y="64.6" width="1.3" height="1.3" fill="#000" />
<rect x="576.16" y="67.19" width="1.3" height="1.3" fill="#000" />
<rect x="568.94" y="70.26" width="1.3" height="1.3" fill="#000" />
<rect x="567.77" y="69.82" width="1.3" height="1.3" fill="#000" />
<rect x="567.48" y="68.3" width="1.3" height="1.3" fill="#000" />
<rect x="569.37" y="66.96" width="1.3" height="1.3" fill="#000" />
<rect x="584.23" y="68.47" width="1.3" height="1.3" fill="#000" />
<rect x="571.16" y="71" width="1.3" height="1.3" fill="#000" />
<rect x="569.33" y="67.84" width="1.3" height="1.3" fill="#000" />
<rect x="581.95" y="67.68" width="1.3" height="1.3" fill="#000" />
<rect x="567.17" y="72.33" width="1.3" height="1.3" fill="#000" />
<rect x="569.38" y="66.88" width="1.3" height="1.3" fill="#000" />
<rect x="580.34" y="65.73" width="1.3" height="1.3" fill="#000" />
<rect x="571.01" y="65.34" width="1.3" height="1.3" fill="#000" />
<rect x="566.97" y="69.51" width="1.3" height="1.3" fill="#000" />
<rect x="569.96" y="69.19" width="1.3" height="1.3" fill="#000" />
<rect x="572.49" y="67.78" width="1.3" height="1.3" fill="#000" />
<rect x="584" y="66.27" width="1.3" height="1.3" fill="#000" />
<rect x="576.46" y="70.08" width="1.3" height="1.3" fill="#000" />
<rect x="568.78" y="66.24" width="1.3" height="1.3" fill="#000" />
<rect x="583.01" y="68.75" width="1.3" height="1.3" fill="#000" />
<rect x="570.09" y="66.3" width="1.3" height="1.3" fill="#000" />
<rect x="579.69" y="70.11" width="1.3" height="1.3" fill="#000" />
<rect x="569.05" y="71.77" width="1.3" height="1.3" fill="#000" />
<rect x="582.49" y="67.33" width="1.3" height="1.3" fill="#000" />
<rect x="573.46" y="65.19" width="1.3" height="1.3" fill="#000" />
<rect x="565.96" y="72.33" width="1.3" height="1.3" fill="#000" />
<rect x="569.87" y="69.93" width="1.3" height="1.3" fill="#000" />
<rect x="570.24" y="70.71" width="1.3" height="1.3" fill="#000" />
<rect x="576.89" y="66" width="1.3" height="1.3" fill="#000" />
<rect x="568.64" y="70.23" width="1.3" height="1.3" fill="#000" />
<rect x="566.55" y="67.1" width="1.3" height="1.3" fill="#000" />
<rect x="576.16" y="70.02" width="1.3" height="1.3" fill="#000" />
<rect x="577.24" y="65.86" width="1.3" height="1.3" fill="#000" />
<rect x="583.18" y="64.43" width="1.3" height="1.3" fill="#000" />
<rect x="565.52" y="67.54" width="1.3" height="1.3" fill="#000" />
<rect x="573.94" y="64.81" width="1.3" height="1.3" fill="#000" />
<rect x="568.65" y="67.76" width="1.3" height="1.3" fill="#000" />
<rect x="576.41" y="64.94" width="1.3" height="1.3" fill="#000" />
<rect x="572.3" y="70.87" width="1.3" height="1.3" fill="#000" />
<rect x="584.42" y="67.42" width="1.3" height="1.3" fill="#000" />
<rect x="578.75" y="67.76" width="1.3" height="1.3" fill="#000" />
<rect x="567.95" y="65.53" width="1.3" height="1.3" fill="#000" />
<rect x="565.55" y="72.02" width="1.3" height="1.3" fill="#000" />
<rect x="578.94" y="70.38" width="1.3" height="1.3" fill="#000" />
<rect x="565.62" y="70.09" width="1.3" height="1.3" fill="#000" />
<rect x="574.65" y="69.4" width="1.3" height="1.3" fill="#000" />
<rect x="571.45" y="71.76" width="1.3" height="1.3" fill="#000" />
<rect x="566.68" y="69.3" width="1.3" height="1.3" fill="#000" />
<rect x="579.65" y="69.83" width="1.3" height="1.3" fill="#000" />
<rect x="579.65" y="68.46" width="1.3" height="1.3" fill="#000" />
<rect x="580.75" y="69.77" width="1.3" height="1.3" fill="#000" />
<rect x="572.1" y="69.46" width="1.3" height="1.3" fill="#000" />
<rect x="582.86" y="69.15" width="1.3" height="1.3" fill="#000" />
<rect x="573.38" y="70.01" width="1.3" height="1.3" fill="#000" />
<rect x="582.12" y="67.17" width="1.3" height="1.3" fill="#000" />
<rect x="577.45" y="66.54" width="1.3" height="1.3" fill="#000" />
<rect x="576.62" y="68.25" width="1.3" height="1.3" fill="#000" />
<rect x="566.77" y="69.94" width="1.3" height="1.3" fill="#000" />
<rect x="584.67" y="68.94" width="1.3" height="1.3" fill="#000" />
<rect x="579.47" y="66.28" width="1.3" height="1.3" fill="#000" />
<rect x="579.61" y="67.61" width="1.3" height="1.3" fill="#000" />
<rect x="573.83" y="70.27" width="1.3" height="1.3" fill="#000" />
<rect x="566.84" y="70.71" width="1.3" height="1.3" fill="#000" />
<rect x="565.78" y="69.82" width="1.3" height="1.3" fill="#000" />
<rect x="574.63" y="65.9" width="1.3" height="1.3" fill="#000" />
<rect x="578.89" y="67.13" width="1.3" height="1.3" fill="#000" />
<rect x="577.24" y="70.34" width="1.3" height="1.3" fill="#000" />
<rect x="570.21" y="65.03" width="1.3" height="1.3" fill="#000" />
<rect x="571.1" y="69.56" width="1.3" height="1.3" fill="#000" />
<rect x="569.17" y="66.29" width="1.3" height="1.3" fill="#000" />
<rect x="582.95" y="67.66" width="1.3" height="1.3" fill="#000" />
<rect x="573.86" y="70.64" width="1.3" height="1.3" fill="#000" />
<rect x="571.61" y="69.4" width="1.3" height="1.3" fill="#000" />
<rect x="569.09" y="68.13" width="1.3" height="1.3" fill="#000" />
<rect x="581" y="69.73" width="1.3" height="1.3" fill="#000" />
<rect x="582.45" y="65.8" width="1.3" height="1.3" fill="#000" />
<rect x="576.63" y="66.2" width="1.3" height="1.3" fill="#000" />
<rect x="567.87" y="68.77" width="1.3" height="1.3" fill="#000" />
<rect x="581.61" y="69.18" width="1.3" height="1.3" fill="#000" />
<rect x="579.14" y="70.26" width="1.3" height="1.3" fill="#000" />
<rect x="570.63" y="66.07" width="1.3" height="1.3" fill="#000" />
<rect x="574.03" y="66.3" width="1.3" height="1.3" fill="#000" />
<rect x="569.4" y="67.97" width="1.3" height="1.3" fill="#000" />
<rect x="577.46" y="67.32" width="1.3" height="1.3" fill="#000" />
<rect x="571.38" y="70.65" width="1.3" height="1.3" fill="#000" />
<rect x="584.45" y="65.98" width="1.3" height="1.3" fill="#000" />
<rect x="566.66" y="65.7" width="1.3" height="1.3" fill="#000" />
<rect x="582.31" y="63.42" width="1.3" height="1.3" fill="#000" />
<rect x="579.09" y="67.61" width="1.3" height="1.3" fill="#000" />
<rect x="571.26" y="70.33" width="1.3" height="1.3" fill="#000" />
<rect x="565.57" y="66.59" width="1.3" height="1.3" fill="#000" />
<rect x="574.11" y="64.54" width="1.3" height="1.3" fill="#000" />
<rect x="581.46" y="64.92" width="1.3" height="1.3" fill="#000" />
<rect x="567.96" y="65.61" width="1.3" height="1.3" fill="#000" />
<rect x="577.53" y="66.98" width="1.3" height="1.3" fill="#000" />
<rect x="577.55" y="68.43" width="1.3" height="1.3" fill="#000" />
<rect x="581.02" y="70.04" width="1.3" height="1.3" fill="#000" />
<rect x="578.62" y="65.08" width="1.3" height="1.3" fill="#000" />
<rect x="574.51" y="65.55" width="1.3" height="1.3" fill="#000" />
<rect x="565.41" y="68.97" width="1.3" height="1.3" fill="#000" />
<rect x="579.2" y="64.85" width="1.3" height="1.3" fill="#000" />
<rect x="570.54" y="67.32" width="1.3" height="1.3" fill="#000" />
<rect x="578.87" y="67.29" width="1.3" height="1.3" fill="#000" />
<rect x="577.24" y="69.19" width="1.3" height="1.3" fill="#000" />
<rect x="572.91" y="70.09" width="1.3" height="1.3" fill="#000" />
<path d="M584.5,77.6 L598.8,77.6 M605.8,77.6 L619.6,77.6" fill="none" stroke="#000" stroke-width="1.5" />
<path d="M619.6,65.2 L632,65.6 L645,65.2 L647,61.5 L652,60 L662,60.5 L668,62.5 L680,64.5 L692.5,66.5 L692.5,70.5 L680,68.6 L668,67.2 L660,66 L650,66.8 L640,69 L619.6,69.8 Z" fill="#000" />
<rect x="685.06" y="64.16" width="1.3" height="1.3" fill="#000" />
<rect x="686.99" y="68.04" width="1.3" height="1.3" fill="#000" />
<rect x="628.47" y="66.64" width="1.3" height="1.3" fill="#000" />
<rect x="664.6" y="64.6" width="1.3" height="1.3" fill="#000" />
<rect x="646.47" y="62.28" width="1.3" height="1.3" fill="#000" />
<rect x="683.1" y="67.67" width="1.3" height="1.3" fill="#000" />
<rect x="687.84" y="66.79" width="1.3" height="1.3" fill="#000" />
<rect x="666.48" y="61.09" width="1.3" height="1.3" fill="#000" />
<rect x="671.63" y="65.5" width="1.3" height="1.3" fill="#000" />
<rect x="665.77" y="63.77" width="1.3" height="1.3" fill="#000" />
<rect x="634.55" y="69.1" width="1.3" height="1.3" fill="#000" />
<rect x="690.48" y="70.14" width="1.3" height="1.3" fill="#000" />
<rect x="658.14" y="63.5" width="1.3" height="1.3" fill="#000" />
<rect x="642.36" y="69.15" width="1.3" height="1.3" fill="#000" />
<rect x="681.39" y="64.86" width="1.3" height="1.3" fill="#000" />
<rect x="625.03" y="66.57" width="1.3" height="1.3" fill="#000" />
<rect x="659.12" y="63.38" width="1.3" height="1.3" fill="#000" />
<rect x="654.53" y="59.31" width="1.3" height="1.3" fill="#000" />
<rect x="677.99" y="62.62" width="1.3" height="1.3" fill="#000" />
<rect x="677.31" y="63.08" width="1.3" height="1.3" fill="#000" />
<rect x="643.42" y="68.48" width="1.3" height="1.3" fill="#000" />
<rect x="629.24" y="64.97" width="1.3" height="1.3" fill="#000" />
<rect x="656.65" y="63.13" width="1.3" height="1.3" fill="#000" />
<rect x="680.23" y="66.51" width="1.3" height="1.3" fill="#000" />
<rect x="687.94" y="66.97" width="1.3" height="1.3" fill="#000" />
<rect x="688.19" y="64.78" width="1.3" height="1.3" fill="#000" />
<rect x="635.14" y="67.05" width="1.3" height="1.3" fill="#000" />
<rect x="640.15" y="68.16" width="1.3" height="1.3" fill="#000" />
<rect x="665.57" y="62.66" width="1.3" height="1.3" fill="#000" />
<rect x="680.5" y="65.85" width="1.3" height="1.3" fill="#000" />
<rect x="641.72" y="66.25" width="1.3" height="1.3" fill="#000" />
<rect x="680.62" y="67.75" width="1.3" height="1.3" fill="#000" />
<rect x="634.18" y="68.83" width="1.3" height="1.3" fill="#000" />
<rect x="689.6" y="67.47" width="1.3" height="1.3" fill="#000" />
<rect x="660.77" y="60.26" width="1.3" height="1.3" fill="#000" />
<rect x="658.07" y="61.92" width="1.3" height="1.3" fill="#000" />
<rect x="663.12" y="59.45" width="1.3" height="1.3" fill="#000" />
<rect x="689.67" y="67.44" width="1.3" height="1.3" fill="#000" />
<rect x="648.2" y="63.56" width="1.3" height="1.3" fill="#000" />
<rect x="660.03" y="61.85" width="1.3" height="1.3" fill="#000" />
<rect x="669.37" y="60.91" width="1.3" height="1.3" fill="#000" />
<rect x="658.27" y="61.43" width="1.3" height="1.3" fill="#000" />
<rect x="688.76" y="69.5" width="1.3" height="1.3" fill="#000" />
<rect x="638.63" y="66.75" width="1.3" height="1.3" fill="#000" />
<rect x="628.26" y="66.54" width="1.3" height="1.3" fill="#000" />
<rect x="678.47" y="67.32" width="1.3" height="1.3" fill="#000" />
<rect x="653.74" y="60.89" width="1.3" height="1.3" fill="#000" />
<rect x="632.96" y="67.55" width="1.3" height="1.3" fill="#000" />
<rect x="686.45" y="64.67" width="1.3" height="1.3" fill="#000" />
<rect x="675.81" y="61.96" width="1.3" height="1.3" fill="#000" />
<rect x="633.15" y="65.4" width="1.3" height="1.3" fill="#000" />
<rect x="669.08" y="62.26" width="1.3" height="1.3" fill="#000" />
<rect x="644.9" y="67.56" width="1.3" height="1.3" fill="#000" />
<rect x="626.65" y="68.17" width="1.3" height="1.3" fill="#000" />
<rect x="627.95" y="66.96" width="1.3" height="1.3" fill="#000" />
<rect x="637.27" y="65.24" width="1.3" height="1.3" fill="#000" />
<rect x="657.66" y="61.55" width="1.3" height="1.3" fill="#000" />
<rect x="646.39" y="61.42" width="1.3" height="1.3" fill="#000" />
<rect x="657.59" y="60.03" width="1.3" height="1.3" fill="#000" />
<rect x="633.89" y="67.62" width="1.3" height="1.3" fill="#000" />
<rect x="665.54" y="62.69" width="1.3" height="1.3" fill="#000" />
<rect x="681.06" y="66.25" width="1.3" height="1.3" fill="#000" />
<rect x="681.46" y="64.24" width="1.3" height="1.3" fill="#000" />
<rect x="673" y="65.73" width="1.3" height="1.3" fill="#000" />
<rect x="684.81" y="65.37" width="1.3" height="1.3" fill="#000" />
<rect x="641.96" y="69.23" width="1.3" height="1.3" fill="#000" />
<rect x="634.9" y="69.64" width="1.3" height="1.3" fill="#000" />
<rect x="683.7" y="64.15" width="1.3" height="1.3" fill="#000" />
<rect x="636.45" y="68.15" width="1.3" height="1.3" fill="#000" />
<rect x="637.92" y="64.68" width="1.3" height="1.3" fill="#000" />
<rect x="679.67" y="64.92" width="1.3" height="1.3" fill="#000" />
<rect x="676.59" y="62.68" width="1.3" height="1.3" fill="#000" />
<rect x="648.36" y="62.92" width="1.3" height="1.3" fill="#000" />
<rect x="620.29" y="65.26" width="1.3" height="1.3" fill="#000" />
<rect x="668.75" y="65.43" width="1.3" height="1.3" fill="#000" />
<rect x="689.59" y="65.22" width="1.3" height="1.3" fill="#000" />
<rect x="655.86" y="63.32" width="1.3" height="1.3" fill="#000" />
<rect x="655.65" y="62.92" width="1.3" height="1.3" fill="#000" />
<rect x="632.78" y="64.54" width="1.3" height="1.3" fill="#000" />
<rect x="626.74" y="64.36" width="1.3" height="1.3" fill="#000" />
<rect x="659.22" y="61.98" width="1.3" height="1.3" fill="#000" />
<rect x="660.46" y="59.96" width="1.3" height="1.3" fill="#000" />
<rect x="632.45" y="65.27" width="1.3" height="1.3" fill="#000" />
<rect x="680.25" y="68.17" width="1.3" height="1.3" fill="#000" />
<rect x="686.57" y="64.51" width="1.3" height="1.3" fill="#000" />
<rect x="623.52" y="69.38" width="1.3" height="1.3" fill="#000" />
<rect x="652.68" y="63.36" width="1.3" height="1.3" fill="#000" />
<rect x="642.83" y="66.72" width="1.3" height="1.3" fill="#000" />
<rect x="656.56" y="61.52" width="1.3" height="1.3" fill="#000" />
<rect x="662.81" y="59.3" width="1.3" height="1.3" fill="#000" />
<rect x="670.11" y="65.33" width="1.3" height="1.3" fill="#000" />
<rect x="632.21" y="66.65" width="1.3" height="1.3" fill="#000" />
<rect x="672.9" y="63.48" width="1.3" height="1.3" fill="#000" />
<rect x="633.22" y="65.06" width="1.3" height="1.3" fill="#000" />
<rect x="656.37" y="59.23" width="1.3" height="1.3" fill="#000" />
<rect x="684.11" y="67.9" width="1.3" height="1.3" fill="#000" />
<rect x="670.37" y="65.48" width="1.3" height="1.3" fill="#000" />
<rect x="664.88" y="61.87" width="1.3" height="1.3" fill="#000" />
<rect x="662.71" y="61.99" width="1.3" height="1.3" fill="#000" />
<rect x="690.64" y="69.22" width="1.3" height="1.3" fill="#000" />
<rect x="637.83" y="69.16" width="1.3" height="1.3" fill="#000" />
<rect x="673.27" y="65.6" width="1.3" height="1.3" fill="#000" />
<rect x="678.39" y="64.58" width="1.3" height="1.3" fill="#000" />
<rect x="684.36" y="68.38" width="1.3" height="1.3" fill="#000" />
<rect x="669.65" y="64.82" width="1.3" height="1.3" fill="#000" />
<rect x="674.79" y="63.86" width="1.3" height="1.3" fill="#000" />
<rect x="671.68" y="61.39" width="1.3" height="1.3" fill="#000" />
<rect x="643.91" y="66.73" width="1.3" height="1.3" fill="#000" />
<rect x="619.77" y="66.11" width="1.3" height="1.3" fill="#000" />
<rect x="665.56" y="63.21" width="1.3" height="1.3" fill="#000" />
<rect x="635.92" y="69.35" width="1.3" height="1.3" fill="#000" />
<rect x="667.56" y="62.04" width="1.3" height="1.3" fill="#000" />
<rect x="667.1" y="63.22" width="1.3" height="1.3" fill="#000" />
<rect x="657.86" y="61.29" width="1.3" height="1.3" fill="#000" />
<rect x="691.89" y="68.58" width="1.3" height="1.3" fill="#000" />
<rect x="670.12" y="64.88" width="1.3" height="1.3" fill="#000" />
<rect x="690.45" y="64.89" width="1.3" height="1.3" fill="#000" />
<rect x="663.86" y="63.51" width="1.3" height="1.3" fill="#000" />
<rect x="637.71" y="66.36" width="1.3" height="1.3" fill="#000" />
<rect x="622.68" y="65.22" width="1.3" height="1.3" fill="#000" />
<rect x="646.39" y="59.69" width="1.3" height="1.3" fill="#000" />
<rect x="637.29" y="69.13" width="1.3" height="1.3" fill="#000" />
<rect x="659.1" y="61.94" width="1.3" height="1.3" fill="#000" />
<rect x="689.5" y="67.69" width="1.3" height="1.3" fill="#000" />
<rect x="691.54" y="68.49" width="1.3" height="1.3" fill="#000" />
<rect x="678.01" y="62.69" width="1.3" height="1.3" fill="#000" />
<rect x="662.56" y="63.36" width="1.3" height="1.3" fill="#000" />
<rect x="622.29" y="69.27" width="1.3" height="1.3" fill="#000" />
<rect x="630.66" y="66.74" width="1.3" height="1.3" fill="#000" />
<rect x="631.33" y="66.88" width="1.3" height="1.3" fill="#000" />
<rect x="663.55" y="59.7" width="1.3" height="1.3" fill="#000" />
<rect x="687.91" y="66.57" width="1.3" height="1.3" fill="#000" />
<rect x="657.4" y="62.44" width="1.3" height="1.3" fill="#000" />
<rect x="645.65" y="60.72" width="1.3" height="1.3" fill="#000" />
<rect x="666.76" y="63.11" width="1.3" height="1.3" fill="#000" />
<rect x="639.67" y="68.09" width="1.3" height="1.3" fill="#000" />
<rect x="640.58" y="64.23" width="1.3" height="1.3" fill="#000" />
<rect x="636.86" y="64.39" width="1.3" height="1.3" fill="#000" />
<rect x="630.42" y="68.3" width="1.3" height="1.3" fill="#000" />
<rect x="647.43" y="64.09" width="1.3" height="1.3" fill="#000" />
<rect x="673.56" y="61.66" width="1.3" height="1.3" fill="#000" />
<rect x="691.08" y="70.08" width="1.3" height="1.3" fill="#000" />
<rect x="624.36" y="69.13" width="1.3" height="1.3" fill="#000" />
<rect x="650.31" y="61.78" width="1.3" height="1.3" fill="#000" />
<rect x="689.94" y="66" width="1.3" height="1.3" fill="#000" />
<rect x="657.15" y="64.3" width="1.3" height="1.3" fill="#000" />
<rect x="671.69" y="63.58" width="1.3" height="1.3" fill="#000" />
<rect x="690.36" y="69.23" width="1.3" height="1.3" fill="#000" />
<rect x="663" y="59.9" width="1.3" height="1.3" fill="#000" />
<rect x="664.51" y="62.08" width="1.3" height="1.3" fill="#000" />
<rect x="633.85" y="64.44" width="1.3" height="1.3" fill="#000" />
<rect x="657.5" y="59.83" width="1.3" height="1.3" fill="#000" />
<rect x="651.28" y="62.82" width="1.3" height="1.3" fill="#000" />
<rect x="652.21" y="60.59" width="1.3" height="1.3" fill="#000" />
<rect x="661.45" y="61.46" width="1.3" height="1.3" fill="#000" />
<rect x="675.71" y="64.73" width="1.3" height="1.3" fill="#000" />
<rect x="691.73" y="70.26" width="1.3" height="1.3" fill="#000" />
<rect x="672.53" y="62.49" width="1.3" height="1.3" fill="#000" />
<rect x="627.3" y="69.06" width="1.3" height="1.3" fill="#000" />
<rect x="676.18" y="65.34" width="1.3" height="1.3" fill="#000" />
<rect x="645.18" y="65.64" width="1.3" height="1.3" fill="#000" />
<rect x="668.94" y="63.56" width="1.3" height="1.3" fill="#000" />
<rect x="662.13" y="62.63" width="1.3" height="1.3" fill="#000" />
<rect x="673.92" y="62.5" width="1.3" height="1.3" fill="#000" />
<rect x="637.15" y="69.54" width="1.3" height="1.3" fill="#000" />
<rect x="685.76" y="68.65" width="1.3" height="1.3" fill="#000" />
<rect x="621.88" y="64.48" width="1.3" height="1.3" fill="#000" />
<rect x="638.75" y="66.49" width="1.3" height="1.3" fill="#000" />
<rect x="664.44" y="60.12" width="1.3" height="1.3" fill="#000" />
<rect x="658.49" y="59.55" width="1.3" height="1.3" fill="#000" />
<rect x="625.3" y="67.87" width="1.3" height="1.3" fill="#000" />
<rect x="659.14" y="62.62" width="1.3" height="1.3" fill="#000" />
<rect x="646.21" y="61.78" width="1.3" height="1.3" fill="#000" />
<rect x="634.36" y="66.04" width="1.3" height="1.3" fill="#000" />
<rect x="673.3" y="65.94" width="1.3" height="1.3" fill="#000" />
<rect x="624.42" y="64.81" width="1.3" height="1.3" fill="#000" />
<rect x="677.99" y="65.7" width="1.3" height="1.3" fill="#000" />
<rect x="675.04" y="62.85" width="1.3" height="1.3" fill="#000" />
<rect x="649.94" y="60.57" width="1.3" height="1.3" fill="#000" />
<rect x="678.04" y="64.31" width="1.3" height="1.3" fill="#000" />
<rect x="666.65" y="65.44" width="1.3" height="1.3" fill="#000" />
<rect x="642.72" y="67.17" width="1.3" height="1.3" fill="#000" />
<rect x="673.39" y="66.41" width="1.3" height="1.3" fill="#000" />
<rect x="650.18" y="61.18" width="1.3" height="1.3" fill="#000" />
<rect x="626.07" y="68.96" width="1.3" height="1.3" fill="#000" />
<rect x="624.72" y="64.61" width="1.3" height="1.3" fill="#000" />
<rect x="660.13" y="61.82" width="1.3" height="1.3" fill="#000" />
<rect x="668.96" y="62.11" width="1.3" height="1.3" fill="#000" />
<rect x="675.53" y="62.2" width="1.3" height="1.3" fill="#000" />
<rect x="634.55" y="67.79" width="1.3" height="1.3" fill="#000" />
<rect x="624.96" y="65.82" width="1.3" height="1.3" fill="#000" />
<rect x="671.85" y="64.86" width="1.3" height="1.3" fill="#000" />
<rect x="639.62" y="64.94" width="1.3" height="1.3" fill="#000" />
<rect x="645.08" y="68.14" width="1.3" height="1.3" fill="#000" />
<rect x="645.71" y="59.8" width="1.3" height="1.3" fill="#000" />
<rect x="670.71" y="63.94" width="1.3" height="1.3" fill="#000" />
<rect x="685.96" y="69.03" width="1.3" height="1.3" fill="#000" />
<rect x="685.59" y="66.2" width="1.3" height="1.3" fill="#000" />
<rect x="677.54" y="63.85" width="1.3" height="1.3" fill="#000" />
<rect x="642.15" y="66.35" width="1.3" height="1.3" fill="#000" />
<rect x="687.14" y="69.02" width="1.3" height="1.3" fill="#000" />
<rect x="637.1" y="66.14" width="1.3" height="1.3" fill="#000" />
<rect x="645.65" y="61.15" width="1.3" height="1.3" fill="#000" />
<rect x="647.84" y="61.28" width="1.3" height="1.3" fill="#000" />
<rect x="633.21" y="67.25" width="1.3" height="1.3" fill="#000" />
<rect x="677.11" y="65.06" width="1.3" height="1.3" fill="#000" />
<rect x="679.97" y="65.76" width="1.3" height="1.3" fill="#000" />
<rect x="631.87" y="68.32" width="1.3" height="1.3" fill="#000" />
<rect x="683.22" y="64.86" width="1.3" height="1.3" fill="#000" />
<rect x="620.62" y="66.99" width="1.3" height="1.3" fill="#000" />
<rect x="658.67" y="62.27" width="1.3" height="1.3" fill="#000" />
<rect x="689.45" y="68.14" width="1.3" height="1.3" fill="#000" />
<rect x="677.63" y="62.55" width="1.3" height="1.3" fill="#000" />
<rect x="658.86" y="63.48" width="1.3" height="1.3" fill="#000" />
<rect x="625.13" y="64.6" width="1.3" height="1.3" fill="#000" />
<rect x="672.73" y="66.16" width="1.3" height="1.3" fill="#000" />
<rect x="625.17" y="67.64" width="1.3" height="1.3" fill="#000" />
<rect x="629.49" y="68.25" width="1.3" height="1.3" fill="#000" />
<rect x="666.31" y="61.28" width="1.3" height="1.3" fill="#000" />
<rect x="635.07" y="68.36" width="1.3" height="1.3" fill="#000" />
<rect x="657.02" y="63.36" width="1.3" height="1.3" fill="#000" />
<rect x="647.75" y="61.01" width="1.3" height="1.3" fill="#000" />
<rect x="689.59" y="68.29" width="1.3" height="1.3" fill="#000" />
<rect x="654.99" y="62.11" width="1.3" height="1.3" fill="#000" />
<rect x="671.56" y="64.88" width="1.3" height="1.3" fill="#000" />
<rect x="685.7" y="66.07" width="1.3" height="1.3" fill="#000" />
<rect x="679.23" y="66.18" width="1.3" height="1.3" fill="#000" />
<rect x="681.22" y="67.35" width="1.3" height="1.3" fill="#000" />
<rect x="679.79" y="67.51" width="1.3" height="1.3" fill="#000" />
<rect x="688.82" y="67.96" width="1.3" height="1.3" fill="#000" />
<rect x="657.19" y="63.06" width="1.3" height="1.3" fill="#000" />
<rect x="677.48" y="64.49" width="1.3" height="1.3" fill="#000" />
<rect x="649.65" y="59.95" width="1.3" height="1.3" fill="#000" />
<rect x="673.04" y="66.73" width="1.3" height="1.3" fill="#000" />
<rect x="646.38" y="60.07" width="1.3" height="1.3" fill="#000" />
<rect x="633.9" y="66.49" width="1.3" height="1.3" fill="#000" />
<rect x="640.29" y="69.48" width="1.3" height="1.3" fill="#000" />
<rect x="623.32" y="65.85" width="1.3" height="1.3" fill="#000" />
<rect x="627.37" y="67.71" width="1.3" height="1.3" fill="#000" />
<rect x="675.57" y="62.77" width="1.3" height="1.3" fill="#000" />
<rect x="623.54" y="66.67" width="1.3" height="1.3" fill="#000" />
<rect x="661.58" y="64.15" width="1.3" height="1.3" fill="#000" />
<rect x="621.65" y="64.75" width="1.3" height="1.3" fill="#000" />
<rect x="632.45" y="65.35" width="1.3" height="1.3" fill="#000" />
<rect x="636.16" y="68.09" width="1.3" height="1.3" fill="#000" />
<rect x="662.36" y="60.38" width="1.3" height="1.3" fill="#000" />
<rect x="632.49" y="65.7" width="1.3" height="1.3" fill="#000" />
<rect x="631.58" y="68.32" width="1.3" height="1.3" fill="#000" />
<rect x="641.73" y="67.17" width="1.3" height="1.3" fill="#000" />
<rect x="678.57" y="65.02" width="1.3" height="1.3" fill="#000" />
<rect x="637.99" y="69.03" width="1.3" height="1.3" fill="#000" />
<rect x="685.65" y="65.68" width="1.3" height="1.3" fill="#000" />
<rect x="658.9" y="64.41" width="1.3" height="1.3" fill="#000" />
<rect x="654.18" y="60.37" width="1.3" height="1.3" fill="#000" />
<rect x="622.62" y="69.36" width="1.3" height="1.3" fill="#000" />
<rect x="677.42" y="64.27" width="1.3" height="1.3" fill="#000" />
<rect x="657.46" y="61.99" width="1.3" height="1.3" fill="#000" />
<rect x="639.01" y="69.6" width="1.3" height="1.3" fill="#000" />
<rect x="666.94" y="61.36" width="1.3" height="1.3" fill="#000" />
<rect x="619.79" y="66.75" width="1.3" height="1.3" fill="#000" />
<path d="M700.8,77.6 L730,77.6" fill="none" stroke="#000" stroke-width="1.5" />
<path d="M729.5,66 L732,64.5 L734,67 L736,71 L740,73.6 L760,74.4 L816.4,74.2 L816.4,75.8 L760,76 L740,76 L734,75 L730,72 Z" fill="#000" />
<rect x="763.24" y="75.11" width="1.3" height="1.3" fill="#000" />
<rect x="791.6" y="74.65" width="1.3" height="1.3" fill="#000" />
<rect x="745.46" y="73.58" width="1.3" height="1.3" fill="#000" />
<rect x="759.11" y="73.82" width="1.3" height="1.3" fill="#000" />
<rect x="804.55" y="74.44" width="1.3" height="1.3" fill="#000" />
<rect x="785.27" y="75.58" width="1.3" height="1.3" fill="#000" />
<rect x="754.52" y="74.48" width="1.3" height="1.3" fill="#000" />
<rect x="744.9" y="75.05" width="1.3" height="1.3" fill="#000" />
<rect x="732.51" y="75.17" width="1.3" height="1.3" fill="#000" />
<rect x="802.63" y="75.17" width="1.3" height="1.3" fill="#000" />
<rect x="739.24" y="73.85" width="1.3" height="1.3" fill="#000" />
<rect x="791.87" y="73.43" width="1.3" height="1.3" fill="#000" />
<rect x="772.25" y="74.32" width="1.3" height="1.3" fill="#000" />
<rect x="811.71" y="74.61" width="1.3" height="1.3" fill="#000" />
<rect x="803.56" y="73.93" width="1.3" height="1.3" fill="#000" />
<rect x="797.91" y="74.2" width="1.3" height="1.3" fill="#000" />
<rect x="808.49" y="73.42" width="1.3" height="1.3" fill="#000" />
<rect x="800.99" y="73.7" width="1.3" height="1.3" fill="#000" />
<rect x="777.5" y="74.46" width="1.3" height="1.3" fill="#000" />
<rect x="745.48" y="75.2" width="1.3" height="1.3" fill="#000" />
<rect x="758.25" y="73.95" width="1.3" height="1.3" fill="#000" />
<rect x="738.71" y="73.93" width="1.3" height="1.3" fill="#000" />
<rect x="771.18" y="74.92" width="1.3" height="1.3" fill="#000" />
<rect x="762.26" y="74.85" width="1.3" height="1.3" fill="#000" />
<rect x="741.18" y="74.15" width="1.3" height="1.3" fill="#000" />
<rect x="770.73" y="75.52" width="1.3" height="1.3" fill="#000" />
<rect x="801.27" y="74.77" width="1.3" height="1.3" fill="#000" />
<rect x="733.42" y="74.11" width="1.3" height="1.3" fill="#000" />
<rect x="791.33" y="73.77" width="1.3" height="1.3" fill="#000" />
<rect x="779.22" y="74.3" width="1.3" height="1.3" fill="#000" />
<rect x="733.27" y="75.58" width="1.3" height="1.3" fill="#000" />
<rect x="798.75" y="73.7" width="1.3" height="1.3" fill="#000" />
<rect x="783.53" y="73.9" width="1.3" height="1.3" fill="#000" />
<rect x="763.61" y="74.5" width="1.3" height="1.3" fill="#000" />
<rect x="757.15" y="74.01" width="1.3" height="1.3" fill="#000" />
<rect x="764.95" y="74.8" width="1.3" height="1.3" fill="#000" />
<rect x="753.69" y="73.68" width="1.3" height="1.3" fill="#000" />
<rect x="793.11" y="73.99" width="1.3" height="1.3" fill="#000" />
<rect x="810.84" y="74.55" width="1.3" height="1.3" fill="#000" />
<rect x="792.47" y="74" width="1.3" height="1.3" fill="#000" />
<rect x="801.03" y="73.42" width="1.3" height="1.3" fill="#000" />
<rect x="744.09" y="73.43" width="1.3" height="1.3" fill="#000" />
<rect x="788.65" y="74.9" width="1.3" height="1.3" fill="#000" />
<rect x="747.33" y="74.17" width="1.3" height="1.3" fill="#000" />
<rect x="801.86" y="74.62" width="1.3" height="1.3" fill="#000" />
<rect x="739.88" y="73.74" width="1.3" height="1.3" fill="#000" />
<rect x="745.44" y="73.5" width="1.3" height="1.3" fill="#000" />
<rect x="766.17" y="73.37" width="1.3" height="1.3" fill="#000" />
<rect x="808.81" y="74.22" width="1.3" height="1.3" fill="#000" />
<rect x="774.86" y="74.75" width="1.3" height="1.3" fill="#000" />
<rect x="796.05" y="75.17" width="1.3" height="1.3" fill="#000" />
<rect x="764.43" y="74" width="1.3" height="1.3" fill="#000" />
<rect x="766.61" y="73.24" width="1.3" height="1.3" fill="#000" />
<rect x="765.66" y="74.88" width="1.3" height="1.3" fill="#000" />
<rect x="813.9" y="75.1" width="1.3" height="1.3" fill="#000" />
<rect x="787.2" y="74.66" width="1.3" height="1.3" fill="#000" />
<rect x="733.94" y="73.99" width="1.3" height="1.3" fill="#000" />
<rect x="760.81" y="74.76" width="1.3" height="1.3" fill="#000" />
<rect x="741.22" y="74.11" width="1.3" height="1.3" fill="#000" />
<rect x="774.68" y="75.09" width="1.3" height="1.3" fill="#000" />
<rect x="800.89" y="74.67" width="1.3" height="1.3" fill="#000" />
<rect x="745.54" y="75.04" width="1.3" height="1.3" fill="#000" />
<rect x="807.35" y="74.52" width="1.3" height="1.3" fill="#000" />
<rect x="761.66" y="74.4" width="1.3" height="1.3" fill="#000" />
<rect x="744.17" y="74.91" width="1.3" height="1.3" fill="#000" />
<rect x="814.3" y="74.44" width="1.3" height="1.3" fill="#000" />
<rect x="791.78" y="75.21" width="1.3" height="1.3" fill="#000" />
<rect x="748.77" y="75.47" width="1.3" height="1.3" fill="#000" />
<rect x="784.45" y="73.67" width="1.3" height="1.3" fill="#000" />
<rect x="739.31" y="73.79" width="1.3" height="1.3" fill="#000" />
<rect x="780.25" y="74.87" width="1.3" height="1.3" fill="#000" />
<rect x="759.72" y="75.43" width="1.3" height="1.3" fill="#000" />
<rect x="762.38" y="74.31" width="1.3" height="1.3" fill="#000" />
<rect x="742.69" y="75.54" width="1.3" height="1.3" fill="#000" />
<rect x="743.66" y="75.37" width="1.3" height="1.3" fill="#000" />
<rect x="777.5" y="74.55" width="1.3" height="1.3" fill="#000" />
<rect x="778.91" y="73.83" width="1.3" height="1.3" fill="#000" />
<rect x="807.87" y="75.58" width="1.3" height="1.3" fill="#000" />
<rect x="800.25" y="74.64" width="1.3" height="1.3" fill="#000" />
<rect x="742.58" y="75.18" width="1.3" height="1.3" fill="#000" />
<rect x="756.35" y="75.35" width="1.3" height="1.3" fill="#000" />
<rect x="752.39" y="74.58" width="1.3" height="1.3" fill="#000" />
<rect x="801.35" y="73.65" width="1.3" height="1.3" fill="#000" />
<rect x="777.87" y="73.38" width="1.3" height="1.3" fill="#000" />
<rect x="735.06" y="73.63" width="1.3" height="1.3" fill="#000" />
<rect x="814.32" y="75.45" width="1.3" height="1.3" fill="#000" />
<rect x="787.04" y="73.94" width="1.3" height="1.3" fill="#000" />
<rect x="788.11" y="74.97" width="1.3" height="1.3" fill="#000" />
<rect x="764.08" y="74.62" width="1.3" height="1.3" fill="#000" />
<rect x="799.12" y="73.24" width="1.3" height="1.3" fill="#000" />
<rect x="748.96" y="74.32" width="1.3" height="1.3" fill="#000" />
<rect x="744.27" y="74.13" width="1.3" height="1.3" fill="#000" />
<rect x="779.67" y="73.62" width="1.3" height="1.3" fill="#000" />
<rect x="775.54" y="73.83" width="1.3" height="1.3" fill="#000" />
<rect x="779.55" y="74" width="1.3" height="1.3" fill="#000" />
<rect x="785.66" y="73.29" width="1.3" height="1.3" fill="#000" />
<rect x="788.09" y="73.55" width="1.3" height="1.3" fill="#000" />
<rect x="812.02" y="74.64" width="1.3" height="1.3" fill="#000" />
<rect x="771.4" y="74.19" width="1.3" height="1.3" fill="#000" />
<rect x="784.18" y="74.85" width="1.3" height="1.3" fill="#000" />
<rect x="795.32" y="75" width="1.3" height="1.3" fill="#000" />
<rect x="772.72" y="75.59" width="1.3" height="1.3" fill="#000" />
<rect x="801.97" y="75.25" width="1.3" height="1.3" fill="#000" />
<rect x="766.35" y="74.24" width="1.3" height="1.3" fill="#000" />
<rect x="779.38" y="75.37" width="1.3" height="1.3" fill="#000" />
<rect x="776.06" y="74.46" width="1.3" height="1.3" fill="#000" />
<rect x="768.27" y="75.37" width="1.3" height="1.3" fill="#000" />
<rect x="759.02" y="73.33" width="1.3" height="1.3" fill="#000" />
<rect x="792.62" y="75.36" width="1.3" height="1.3" fill="#000" />
<rect x="793.16" y="74.63" width="1.3" height="1.3" fill="#000" />
<rect x="794.81" y="73.93" width="1.3" height="1.3" fill="#000" />
<rect x="781.66" y="73.37" width="1.3" height="1.3" fill="#000" />
<rect x="742.73" y="74.27" width="1.3" height="1.3" fill="#000" />
<rect x="774.12" y="74.15" width="1.3" height="1.3" fill="#000" />
<rect x="736.71" y="74.87" width="1.3" height="1.3" fill="#000" />
<rect x="776.08" y="73.77" width="1.3" height="1.3" fill="#000" />
<rect x="757.82" y="74.15" width="1.3" height="1.3" fill="#000" />
<rect x="751.98" y="73.36" width="1.3" height="1.3" fill="#000" />
<rect x="808.04" y="75.52" width="1.3" height="1.3" fill="#000" />
<rect x="787.65" y="75.28" width="1.3" height="1.3" fill="#000" />
<rect x="670.35" y="80.03" width="1.2" height="1.2" fill="#000" />
<rect x="620.44" y="79.73" width="1.2" height="1.2" fill="#000" />
<rect x="706.7" y="80.52" width="1.2" height="1.2" fill="#000" />
<rect x="589.64" y="79.96" width="1.2" height="1.2" fill="#000" />
<rect x="595.95" y="78.69" width="1.2" height="1.2" fill="#000" />
<rect x="802.74" y="76" width="1.2" height="1.2" fill="#000" />
<rect x="625.98" y="77.5" width="1.2" height="1.2" fill="#000" />
<rect x="646.19" y="76.31" width="1.2" height="1.2" fill="#000" />
<rect x="788.78" y="80.08" width="1.2" height="1.2" fill="#000" />
<rect x="664.31" y="77.78" width="1.2" height="1.2" fill="#000" />
<rect x="711.38" y="76.23" width="1.2" height="1.2" fill="#000" />
<rect x="572.78" y="80.49" width="1.2" height="1.2" fill="#000" />
<rect x="641.96" y="78.49" width="1.2" height="1.2" fill="#000" />
<rect x="798.48" y="80.89" width="1.2" height="1.2" fill="#000" />
<text stroke="#111" stroke-width="0.171" x="570.2" y="104.8" font-size="8.6" font-style="italic" textLength="25.5" lengthAdjust="spacingAndGlyphs">CCND1</text>
<path d="M569.2,90.8 C 571.8,94 572,98 569.6,102" fill="none" stroke="#5646a6" stroke-width="1.1" />
<text stroke="#111" stroke-width="0.171" x="630.2" y="97.8" font-size="8.6" font-style="italic" textLength="20.4" lengthAdjust="spacingAndGlyphs">PAK1</text>
<path d="M656.6,91 C 653.2,94 652.7,98 656.6,102" fill="none" stroke="#5646a6" stroke-width="2.5" />
<path d="M671.4,91 C 668,94 667.5,98 671.4,102" fill="none" stroke="#5646a6" stroke-width="2.5" />
<text stroke="#111" stroke-width="0.171" x="661.2" y="108.8" font-size="8.6" font-style="italic" textLength="26.6" lengthAdjust="spacingAndGlyphs">NARS2</text>
<text stroke="#111" stroke-width="0.171" x="701.8" y="97.8" font-size="8.6" font-style="italic" textLength="28.2" lengthAdjust="spacingAndGlyphs">ZNF703</text>
<path d="M732.5,91 C 735,94 735.3,98 732.5,102" fill="none" stroke="#5646a6" stroke-width="0.9" />
<path d="M747.6,91 C 744.6,94 744.4,98 747.6,102" fill="none" stroke="#5646a6" stroke-width="1.3" />
<text stroke="#111" stroke-width="0.171" x="750.6" y="97.8" font-size="8.6" font-style="italic" textLength="25.8" lengthAdjust="spacingAndGlyphs">FGFR1</text>
<path d="M565.3,117.2 L565.3,113.5 L598.4,113.5 L598.4,117.2" fill="none" stroke="#111" stroke-width="1.1" />
<path d="M606.4,117.2 L606.4,113.5 L692.2,113.5 L692.2,117.2" fill="none" stroke="#111" stroke-width="1.1" />
<path d="M700.8,117.2 L700.8,113.5 L816.5,113.5 L816.5,117.2" fill="none" stroke="#111" stroke-width="1.1" />
<text stroke="#111" stroke-width="0.187" x="565.3" y="128.8" font-size="9" text-anchor="middle">69</text>
<text stroke="#111" stroke-width="0.187" x="595.7" y="128.8" font-size="9" text-anchor="middle">72</text>
<text stroke="#111" stroke-width="0.187" x="609.4" y="128.8" font-size="9" text-anchor="middle">73</text>
<text stroke="#111" stroke-width="0.187" x="689.2" y="128.8" font-size="9" text-anchor="middle">80</text>
<text stroke="#111" stroke-width="0.187" x="702.5" y="128.8" font-size="9" text-anchor="middle">35</text>
<text stroke="#111" stroke-width="0.187" x="814.7" y="128.8" font-size="9" text-anchor="middle">44</text>
<text stroke="#111" stroke-width="0.2" x="577.4" y="141" font-size="9.3" text-anchor="middle" textLength="51.2" lengthAdjust="spacingAndGlyphs">Chr. 11 (Mb)</text>
<text stroke="#111" stroke-width="0.2" x="643.3" y="141" font-size="9.3" text-anchor="middle" textLength="50.6" lengthAdjust="spacingAndGlyphs">Chr. 11 (Mb)</text>
<text stroke="#111" stroke-width="0.2" x="755.2" y="141" font-size="9.3" text-anchor="middle" textLength="45.7" lengthAdjust="spacingAndGlyphs">Chr. 8 (Mb)</text>
<text stroke="#111" stroke-width="0.2" x="520.6" y="158.8" font-size="12.8" font-weight="bold">d</text>
<line x1="564.6" y1="158.2" x2="564.6" y2="242.8" stroke="#222" stroke-width="1.1" />
<line x1="560.6" y1="242.2" x2="564.6" y2="242.2" stroke="#222" stroke-width="1" />
<text stroke="#111" stroke-width="0.179" x="558.9" y="245.4" font-size="8.8" text-anchor="end">0</text>
<line x1="560.6" y1="225.4" x2="564.6" y2="225.4" stroke="#222" stroke-width="1" />
<text stroke="#111" stroke-width="0.179" x="558.9" y="228.6" font-size="8.8" text-anchor="end">20</text>
<line x1="560.6" y1="208.6" x2="564.6" y2="208.6" stroke="#222" stroke-width="1" />
<text stroke="#111" stroke-width="0.179" x="558.9" y="211.8" font-size="8.8" text-anchor="end">40</text>
<line x1="560.6" y1="191.8" x2="564.6" y2="191.8" stroke="#222" stroke-width="1" />
<text stroke="#111" stroke-width="0.179" x="558.9" y="195" font-size="8.8" text-anchor="end">60</text>
<line x1="560.6" y1="175" x2="564.6" y2="175" stroke="#222" stroke-width="1" />
<text stroke="#111" stroke-width="0.179" x="558.9" y="178.2" font-size="8.8" text-anchor="end">80</text>
<line x1="560.6" y1="158.2" x2="564.6" y2="158.2" stroke="#222" stroke-width="1" />
<text stroke="#111" stroke-width="0.179" x="558.9" y="161.4" font-size="8.8" text-anchor="end">100</text>
<line x1="564.6" y1="242.5" x2="820" y2="242.5" stroke="#222" stroke-width="1.2" />
<line x1="582.4" y1="242.2" x2="582.4" y2="246.2" stroke="#222" stroke-width="1" />
<text stroke="#111" stroke-width="0.179" x="582.4" y="256.6" font-size="8.8" text-anchor="middle">−3</text>
<line x1="617.6" y1="242.2" x2="617.6" y2="246.2" stroke="#222" stroke-width="1" />
<text stroke="#111" stroke-width="0.179" x="617.6" y="256.6" font-size="8.8" text-anchor="middle">−2</text>
<line x1="652.8" y1="242.2" x2="652.8" y2="246.2" stroke="#222" stroke-width="1" />
<text stroke="#111" stroke-width="0.179" x="652.8" y="256.6" font-size="8.8" text-anchor="middle">−1</text>
<line x1="688" y1="242.2" x2="688" y2="246.2" stroke="#222" stroke-width="1" />
<text stroke="#111" stroke-width="0.179" x="688" y="256.6" font-size="8.8" text-anchor="middle">0</text>
<line x1="723.2" y1="242.2" x2="723.2" y2="246.2" stroke="#222" stroke-width="1" />
<text stroke="#111" stroke-width="0.179" x="723.2" y="256.6" font-size="8.8" text-anchor="middle">1</text>
<line x1="758.4" y1="242.2" x2="758.4" y2="246.2" stroke="#222" stroke-width="1" />
<text stroke="#111" stroke-width="0.179" x="758.4" y="256.6" font-size="8.8" text-anchor="middle">2</text>
<line x1="793.6" y1="242.2" x2="793.6" y2="246.2" stroke="#222" stroke-width="1" />
<text stroke="#111" stroke-width="0.179" x="793.6" y="256.6" font-size="8.8" text-anchor="middle">3</text>
<text stroke="#111" stroke-width="0.2" x="595.4" y="271.4" font-size="9.3" textLength="195" lengthAdjust="spacingAndGlyphs">log[Average coverage ratio (digested/parental)]</text>
<text stroke="#111" stroke-width="0.2" x="535" y="200" font-size="9.3" text-anchor="middle" transform="rotate(-90 535 200)">Frequency</text>
<line x1="575" y1="164.5" x2="583.7" y2="164.5" stroke="#e03030" stroke-width="0.9" stroke-dasharray="1.5 1" />
<text stroke="#111" stroke-width="0.2" x="589" y="167.3" font-size="9.3" textLength="84.4" lengthAdjust="spacingAndGlyphs">All predicted ecDNA</text>
<text stroke="#111" stroke-width="0.2" x="589" y="178" font-size="9.3">cycles</text>
<path d="M575,242.2 H578 V241.7 H575 Z M578,242.2 H600 V241.95 H578 Z M600,242.2 H610 V241.86 H600 Z M610,242.2 H614 V241.7 H610 Z M614,242.2 H617.5 V241.53 H614 Z M617.5,242.2 H621 V241.7 H617.5 Z M621,242.2 H624.5 V241.7 H621 Z M624.5,242.2 H628 V241.44 H624.5 Z M628,242.2 H632 V241.19 H628 Z M632,242.2 H636 V240.86 H632 Z M636,242.2 H640.6 V240.35 H636 Z M640.6,242.2 H642.2 V240.35 H640.6 Z M642.2,242.2 H645.4 V239.85 H642.2 Z M645.4,242.2 H649.3 V238.84 H645.4 Z M649.3,242.2 H652.2 V236.32 H649.3 Z M652.2,242.2 H654.6 V230.86 H652.2 Z M654.6,242.2 H658.9 V231.28 H654.6 Z M658.9,242.2 H661.6 V223.3 H658.9 Z M661.6,242.2 H664.2 V206.92 H661.6 Z M664.2,242.2 H666.8 V200.2 H664.2 Z M666.8,242.2 H669.5 V196.42 H666.8 Z M669.5,242.2 H672.2 V190.54 H669.5 Z M672.2,242.2 H674.6 V178.78 H672.2 Z M674.6,242.2 H677.2 V177.52 H674.6 Z M677.2,242.2 H679.8 V174.33 H677.2 Z M679.8,242.2 H682.5 V158.45 H679.8 Z M682.5,242.2 H684.9 V168.45 H682.5 Z M684.9,242.2 H687.2 V181.05 H684.9 Z M687.2,242.2 H690.2 V182.14 H687.2 Z M690.2,242.2 H692.6 V194.07 H690.2 Z M692.6,242.2 H695.5 V219.18 H692.6 Z M695.5,242.2 H698.2 V229.26 H695.5 Z M698.2,242.2 H700.8 V226.83 H698.2 Z M700.8,242.2 H705.6 V238.08 H700.8 Z" fill="#000" />
<line x1="807.2" y1="158.5" x2="807.2" y2="242.2" stroke="#e03030" stroke-width="0.9" stroke-dasharray="1.5 1" />
<text stroke="#111" stroke-width="0.2" x="10.2" y="295" font-size="12.8" font-weight="bold">e</text>
<line x1="56.7" y1="314" x2="56.7" y2="404.6" stroke="#1a1a1a" stroke-width="1.1" />
<line x1="56.7" y1="404.6" x2="199.64" y2="404.6" stroke="#888" stroke-width="1.4" />
<line x1="53.5" y1="400.5" x2="56.7" y2="400.5" stroke="#333" stroke-width="1" />
<line x1="53.5" y1="379.95" x2="56.7" y2="379.95" stroke="#333" stroke-width="1" />
<line x1="53.5" y1="359.4" x2="56.7" y2="359.4" stroke="#333" stroke-width="1" />
<line x1="53.5" y1="338.85" x2="56.7" y2="338.85" stroke="#333" stroke-width="1" />
<line x1="53.5" y1="318.3" x2="56.7" y2="318.3" stroke="#333" stroke-width="1" />
<text stroke="#111" stroke-width="0.179" x="48.4" y="403.7" font-size="8.8" text-anchor="end">0</text>
<text stroke="#111" stroke-width="0.179" x="48.4" y="383.15" font-size="8.8" text-anchor="end">0.25</text>
<text stroke="#111" stroke-width="0.179" x="48.4" y="362.6" font-size="8.8" text-anchor="end">0.50</text>
<text stroke="#111" stroke-width="0.179" x="48.4" y="342.05" font-size="8.8" text-anchor="end">0.75</text>
<text stroke="#111" stroke-width="0.179" x="48.4" y="321.5" font-size="8.8" text-anchor="end">1.00</text>
<rect x="58.2" y="318.3" width="9.6" height="82.2" fill="#fbd9c6" stroke="#444" stroke-width="1" />
<rect x="58.2" y="318.3" width="9.6" height="82.2" fill="#f5a27a" stroke="#333" stroke-width="1" />
<rect x="58.2" y="373.37" width="9.6" height="2.88" fill="#a9502f" stroke="#222" stroke-width="1" />
<rect x="58.2" y="376.25" width="9.6" height="24.25" fill="#f0642e" stroke="#222" stroke-width="1" />
<line x1="63" y1="404.6" x2="63" y2="408.4" stroke="#333" stroke-width="1" />
<text x="67.1" y="417.6" font-size="9.3" text-anchor="end" transform="rotate(-45 67.1 417.6)" stroke="#111" stroke-width="0.12">PRR11</text>
<rect x="69.06" y="318.3" width="9.6" height="82.2" fill="#fbd9c6" stroke="#444" stroke-width="1" />
<rect x="69.06" y="318.3" width="9.6" height="82.2" fill="#f5a27a" stroke="#333" stroke-width="1" />
<rect x="69.06" y="371.15" width="9.6" height="3.29" fill="#a9502f" stroke="#222" stroke-width="1" />
<rect x="69.06" y="374.44" width="9.6" height="26.06" fill="#f0642e" stroke="#222" stroke-width="1" />
<line x1="73.86" y1="404.6" x2="73.86" y2="408.4" stroke="#333" stroke-width="1" />
<text x="77.96" y="417.6" font-size="9.3" text-anchor="end" transform="rotate(-45 77.96 417.6)" stroke="#111" stroke-width="0.12">DDX40</text>
<rect x="79.93" y="318.3" width="9.6" height="82.2" fill="#fbd9c6" stroke="#444" stroke-width="1" />
<rect x="79.93" y="318.3" width="9.6" height="82.2" fill="#f5a27a" stroke="#333" stroke-width="1" />
<rect x="79.93" y="373.54" width="9.6" height="1.97" fill="#a9502f" stroke="#222" stroke-width="1" />
<rect x="79.93" y="375.51" width="9.6" height="24.99" fill="#f0642e" stroke="#222" stroke-width="1" />
<line x1="84.73" y1="404.6" x2="84.73" y2="408.4" stroke="#333" stroke-width="1" />
<text x="88.83" y="417.6" font-size="9.3" text-anchor="end" transform="rotate(-45 88.83 417.6)" stroke="#111" stroke-width="0.12">TUBD1</text>
<rect x="90.8" y="318.3" width="9.6" height="82.2" fill="#fbd9c6" stroke="#444" stroke-width="1" />
<rect x="90.8" y="318.3" width="9.6" height="82.2" fill="#f5a27a" stroke="#333" stroke-width="1" />
<rect x="90.8" y="371.15" width="9.6" height="3.29" fill="#a9502f" stroke="#222" stroke-width="1" />
<rect x="90.8" y="374.44" width="9.6" height="26.06" fill="#f0642e" stroke="#222" stroke-width="1" />
<line x1="95.59" y1="404.6" x2="95.59" y2="408.4" stroke="#333" stroke-width="1" />
<text x="99.69" y="417.6" font-size="9.3" text-anchor="end" transform="rotate(-45 99.69 417.6)" stroke="#111" stroke-width="0.12">RPS6KB1</text>
<rect x="101.66" y="318.3" width="9.6" height="82.2" fill="#fbd9c6" stroke="#444" stroke-width="1" />
<rect x="101.66" y="318.3" width="9.6" height="82.2" fill="#f5a27a" stroke="#333" stroke-width="1" />
<rect x="101.66" y="371.15" width="9.6" height="3.29" fill="#a9502f" stroke="#222" stroke-width="1" />
<rect x="101.66" y="374.44" width="9.6" height="26.06" fill="#f0642e" stroke="#222" stroke-width="1" />
<line x1="106.46" y1="404.6" x2="106.46" y2="408.4" stroke="#333" stroke-width="1" />
<text x="110.56" y="417.6" font-size="9.3" text-anchor="end" transform="rotate(-45 110.56 417.6)" stroke="#111" stroke-width="0.12">C17orf64</text>
<rect x="112.53" y="318.3" width="9.6" height="82.2" fill="#fbd9c6" stroke="#444" stroke-width="1" />
<rect x="112.53" y="318.3" width="9.6" height="82.2" fill="#f5a27a" stroke="#333" stroke-width="1" />
<rect x="112.53" y="371.15" width="9.6" height="5.26" fill="#a9502f" stroke="#222" stroke-width="1" />
<rect x="112.53" y="376.42" width="9.6" height="24.08" fill="#f0642e" stroke="#222" stroke-width="1" />
<line x1="117.33" y1="404.6" x2="117.33" y2="408.4" stroke="#333" stroke-width="1" />
<text x="121.42" y="417.6" font-size="9.3" text-anchor="end" transform="rotate(-45 121.42 417.6)" stroke="#111" stroke-width="0.12">TBX2</text>
<rect x="123.39" y="318.3" width="9.6" height="82.2" fill="#fbd9c6" stroke="#444" stroke-width="1" />
<rect x="123.39" y="318.3" width="9.6" height="82.2" fill="#f5a27a" stroke="#333" stroke-width="1" />
<rect x="123.39" y="371.15" width="9.6" height="3.29" fill="#a9502f" stroke="#222" stroke-width="1" />
<rect x="123.39" y="374.44" width="9.6" height="26.06" fill="#f0642e" stroke="#222" stroke-width="1" />
<line x1="128.19" y1="404.6" x2="128.19" y2="408.4" stroke="#333" stroke-width="1" />
<text x="132.29" y="417.6" font-size="9.3" text-anchor="end" fill="#e8323c" transform="rotate(-45 132.29 417.6)" stroke="#e8323c" stroke-width="0.12">PPM1D</text>
<rect x="134.25" y="318.3" width="9.6" height="82.2" fill="#fbd9c6" stroke="#444" stroke-width="1" />
<rect x="134.25" y="320.52" width="9.6" height="79.98" fill="#f5a27a" stroke="#333" stroke-width="1" />
<rect x="134.25" y="370.09" width="9.6" height="4.36" fill="#a9502f" stroke="#222" stroke-width="1" />
<rect x="134.25" y="374.44" width="9.6" height="26.06" fill="#f0642e" stroke="#222" stroke-width="1" />
<line x1="139.06" y1="404.6" x2="139.06" y2="408.4" stroke="#333" stroke-width="1" />
<text x="143.16" y="417.6" font-size="9.3" text-anchor="end" transform="rotate(-45 143.16 417.6)" stroke="#111" stroke-width="0.12">BCAS3</text>
<rect x="145.12" y="318.3" width="9.6" height="82.2" fill="#fbd9c6" stroke="#444" stroke-width="1" />
<rect x="145.12" y="320.52" width="9.6" height="79.98" fill="#f5a27a" stroke="#333" stroke-width="1" />
<rect x="145.12" y="373.37" width="9.6" height="4.93" fill="#a9502f" stroke="#222" stroke-width="1" />
<rect x="145.12" y="378.31" width="9.6" height="22.19" fill="#f0642e" stroke="#222" stroke-width="1" />
<line x1="149.92" y1="404.6" x2="149.92" y2="408.4" stroke="#333" stroke-width="1" />
<text x="154.02" y="417.6" font-size="9.3" text-anchor="end" transform="rotate(-45 154.02 417.6)" stroke="#111" stroke-width="0.12">BRIP1</text>
<rect x="155.99" y="318.3" width="9.6" height="82.2" fill="#fbd9c6" stroke="#444" stroke-width="1" />
<rect x="155.99" y="320.52" width="9.6" height="79.98" fill="#f5a27a" stroke="#333" stroke-width="1" />
<rect x="155.99" y="376.42" width="9.6" height="3.29" fill="#a9502f" stroke="#222" stroke-width="1" />
<rect x="155.99" y="379.7" width="9.6" height="20.8" fill="#f0642e" stroke="#222" stroke-width="1" />
<line x1="160.79" y1="404.6" x2="160.79" y2="408.4" stroke="#333" stroke-width="1" />
<text x="164.89" y="417.6" font-size="9.3" text-anchor="end" transform="rotate(-45 164.89 417.6)" stroke="#111" stroke-width="0.12">CA4</text>
<rect x="166.85" y="318.3" width="9.6" height="82.2" fill="#fbd9c6" stroke="#444" stroke-width="1" />
<rect x="166.85" y="320.52" width="9.6" height="79.98" fill="#f5a27a" stroke="#333" stroke-width="1" />
<rect x="166.85" y="375.84" width="9.6" height="0.82" fill="#a9502f" stroke="#222" stroke-width="1" />
<rect x="166.85" y="376.66" width="9.6" height="23.84" fill="#f0642e" stroke="#222" stroke-width="1" />
<line x1="171.65" y1="404.6" x2="171.65" y2="408.4" stroke="#333" stroke-width="1" />
<text x="175.75" y="417.6" font-size="9.3" text-anchor="end" transform="rotate(-45 175.75 417.6)" stroke="#111" stroke-width="0.12">HSF5</text>
<rect x="177.72" y="318.3" width="9.6" height="82.2" fill="#fbd9c6" stroke="#444" stroke-width="1" />
<rect x="177.72" y="320.52" width="9.6" height="79.98" fill="#f5a27a" stroke="#333" stroke-width="1" />
<rect x="177.72" y="375.84" width="9.6" height="0.82" fill="#a9502f" stroke="#222" stroke-width="1" />
<rect x="177.72" y="376.66" width="9.6" height="23.84" fill="#f0642e" stroke="#222" stroke-width="1" />
<line x1="182.52" y1="404.6" x2="182.52" y2="408.4" stroke="#333" stroke-width="1" />
<text x="186.62" y="417.6" font-size="9.3" text-anchor="end" transform="rotate(-45 186.62 417.6)" stroke="#111" stroke-width="0.12">PPM1E</text>
<rect x="188.58" y="318.3" width="9.6" height="82.2" fill="#fbd9c6" stroke="#444" stroke-width="1" />
<rect x="188.58" y="322.74" width="9.6" height="77.76" fill="#f5a27a" stroke="#333" stroke-width="1" />
<rect x="188.58" y="377.16" width="9.6" height="1.64" fill="#a9502f" stroke="#222" stroke-width="1" />
<rect x="188.58" y="378.8" width="9.6" height="21.7" fill="#f0642e" stroke="#222" stroke-width="1" />
<line x1="193.38" y1="404.6" x2="193.38" y2="408.4" stroke="#333" stroke-width="1" />
<text x="197.48" y="417.6" font-size="9.3" text-anchor="end" fill="#e8323c" transform="rotate(-45 197.48 417.6)" stroke="#e8323c" stroke-width="0.12">MSI2</text>
<text stroke="#111" stroke-width="0.2" x="128.32" y="309" font-size="9.3" text-anchor="middle">IC1: 17q23 (<tspan font-style="italic">n</tspan> = 40)</text>
<line x1="202.5" y1="314" x2="202.5" y2="404.6" stroke="#1a1a1a" stroke-width="1.1" />
<line x1="202.5" y1="404.6" x2="334.58" y2="404.6" stroke="#888" stroke-width="1.4" />
<line x1="199.3" y1="400.5" x2="202.5" y2="400.5" stroke="#333" stroke-width="1" />
<line x1="199.3" y1="379.95" x2="202.5" y2="379.95" stroke="#333" stroke-width="1" />
<line x1="199.3" y1="359.4" x2="202.5" y2="359.4" stroke="#333" stroke-width="1" />
<line x1="199.3" y1="338.85" x2="202.5" y2="338.85" stroke="#333" stroke-width="1" />
<line x1="199.3" y1="318.3" x2="202.5" y2="318.3" stroke="#333" stroke-width="1" />
<rect x="204" y="318.3" width="9.6" height="82.2" fill="#dcefdc" stroke="#444" stroke-width="1" />
<rect x="204" y="318.3" width="9.6" height="82.2" fill="#a1d4a6" stroke="#333" stroke-width="1" />
<rect x="204" y="345.51" width="9.6" height="3.95" fill="#7fc68a" stroke="#222" stroke-width="1" />
<rect x="204" y="349.45" width="9.6" height="51.05" fill="#5bb96c" stroke="#222" stroke-width="1" />
<line x1="208.8" y1="404.6" x2="208.8" y2="408.4" stroke="#333" stroke-width="1" />
<text x="212.9" y="417.6" font-size="9.3" text-anchor="end" transform="rotate(-45 212.9 417.6)" stroke="#111" stroke-width="0.12">FGF3</text>
<rect x="214.87" y="318.3" width="9.6" height="82.2" fill="#dcefdc" stroke="#444" stroke-width="1" />
<rect x="214.87" y="318.3" width="9.6" height="82.2" fill="#a1d4a6" stroke="#333" stroke-width="1" />
<rect x="214.87" y="345.51" width="9.6" height="3.95" fill="#7fc68a" stroke="#222" stroke-width="1" />
<rect x="214.87" y="349.45" width="9.6" height="51.05" fill="#5bb96c" stroke="#222" stroke-width="1" />
<line x1="219.67" y1="404.6" x2="219.67" y2="408.4" stroke="#333" stroke-width="1" />
<text x="223.77" y="417.6" font-size="9.3" text-anchor="end" fill="#e8323c" transform="rotate(-45 223.77 417.6)" stroke="#e8323c" stroke-width="0.12">CCND1</text>
<rect x="225.73" y="318.3" width="9.6" height="82.2" fill="#dcefdc" stroke="#444" stroke-width="1" />
<rect x="225.73" y="318.3" width="9.6" height="82.2" fill="#a1d4a6" stroke="#333" stroke-width="1" />
<rect x="225.73" y="345.51" width="9.6" height="4.36" fill="#7fc68a" stroke="#222" stroke-width="1" />
<rect x="225.73" y="349.86" width="9.6" height="50.64" fill="#5bb96c" stroke="#222" stroke-width="1" />
<line x1="230.53" y1="404.6" x2="230.53" y2="408.4" stroke="#333" stroke-width="1" />
<text x="234.63" y="417.6" font-size="9.3" text-anchor="end" transform="rotate(-45 234.63 417.6)" stroke="#111" stroke-width="0.12">CTTN</text>
<rect x="236.59" y="318.3" width="9.6" height="82.2" fill="#dcefdc" stroke="#444" stroke-width="1" />
<rect x="236.59" y="321.59" width="9.6" height="78.91" fill="#a1d4a6" stroke="#333" stroke-width="1" />
<rect x="236.59" y="322.16" width="9.6" height="11.18" fill="#7fc68a" stroke="#222" stroke-width="1" />
<rect x="236.59" y="333.34" width="9.6" height="67.16" fill="#5bb96c" stroke="#222" stroke-width="1" />
<line x1="241.4" y1="404.6" x2="241.4" y2="408.4" stroke="#333" stroke-width="1" />
<text x="245.5" y="417.6" font-size="9.3" text-anchor="end" transform="rotate(-45 245.5 417.6)" stroke="#111" stroke-width="0.12">PAK1</text>
<rect x="247.46" y="318.3" width="9.6" height="82.2" fill="#dcefdc" stroke="#444" stroke-width="1" />
<rect x="247.46" y="321.59" width="9.6" height="78.91" fill="#a1d4a6" stroke="#333" stroke-width="1" />
<rect x="247.46" y="322.16" width="9.6" height="11.18" fill="#7fc68a" stroke="#222" stroke-width="1" />
<rect x="247.46" y="333.34" width="9.6" height="67.16" fill="#5bb96c" stroke="#222" stroke-width="1" />
<line x1="252.26" y1="404.6" x2="252.26" y2="408.4" stroke="#333" stroke-width="1" />
<text x="256.36" y="417.6" font-size="9.3" text-anchor="end" transform="rotate(-45 256.36 417.6)" stroke="#111" stroke-width="0.12">RSF1</text>
<rect x="258.32" y="318.3" width="9.6" height="82.2" fill="#dcefdc" stroke="#444" stroke-width="1" />
<rect x="258.32" y="322.16" width="9.6" height="78.34" fill="#a1d4a6" stroke="#333" stroke-width="1" />
<rect x="258.32" y="329.64" width="9.6" height="7.73" fill="#7fc68a" stroke="#222" stroke-width="1" />
<rect x="258.32" y="337.37" width="9.6" height="63.13" fill="#5bb96c" stroke="#222" stroke-width="1" />
<line x1="263.12" y1="404.6" x2="263.12" y2="408.4" stroke="#333" stroke-width="1" />
<text x="267.23" y="417.6" font-size="9.3" text-anchor="end" transform="rotate(-45 267.23 417.6)" stroke="#111" stroke-width="0.12">MAP6</text>
<rect x="269.19" y="318.3" width="9.6" height="82.2" fill="#dcefdc" stroke="#444" stroke-width="1" />
<rect x="269.19" y="323.23" width="9.6" height="77.27" fill="#a1d4a6" stroke="#333" stroke-width="1" />
<rect x="269.19" y="323.81" width="9.6" height="9.86" fill="#7fc68a" stroke="#222" stroke-width="1" />
<rect x="269.19" y="333.67" width="9.6" height="66.83" fill="#5bb96c" stroke="#222" stroke-width="1" />
<line x1="273.99" y1="404.6" x2="273.99" y2="408.4" stroke="#333" stroke-width="1" />
<text x="278.09" y="417.6" font-size="9.3" text-anchor="end" transform="rotate(-45 278.09 417.6)" stroke="#111" stroke-width="0.12">OMP</text>
<rect x="280.06" y="318.3" width="9.6" height="82.2" fill="#dcefdc" stroke="#444" stroke-width="1" />
<rect x="280.06" y="330.38" width="9.6" height="70.12" fill="#a1d4a6" stroke="#333" stroke-width="1" />
<rect x="280.06" y="341.97" width="9.6" height="11.34" fill="#7fc68a" stroke="#222" stroke-width="1" />
<rect x="280.06" y="353.32" width="9.6" height="47.18" fill="#5bb96c" stroke="#222" stroke-width="1" />
<line x1="284.86" y1="404.6" x2="284.86" y2="408.4" stroke="#333" stroke-width="1" />
<text x="288.96" y="417.6" font-size="9.3" text-anchor="end" transform="rotate(-45 288.96 417.6)" stroke="#111" stroke-width="0.12">CHRDL2</text>
<rect x="290.92" y="318.3" width="9.6" height="82.2" fill="#dcefdc" stroke="#444" stroke-width="1" />
<rect x="290.92" y="329.64" width="9.6" height="70.86" fill="#a1d4a6" stroke="#333" stroke-width="1" />
<rect x="290.92" y="333.34" width="9.6" height="11.34" fill="#7fc68a" stroke="#222" stroke-width="1" />
<rect x="290.92" y="344.69" width="9.6" height="55.81" fill="#5bb96c" stroke="#222" stroke-width="1" />
<line x1="295.72" y1="404.6" x2="295.72" y2="408.4" stroke="#333" stroke-width="1" />
<text x="299.82" y="417.6" font-size="9.3" text-anchor="end" transform="rotate(-45 299.82 417.6)" stroke="#111" stroke-width="0.12">NARS2</text>
<rect x="301.78" y="318.3" width="9.6" height="82.2" fill="#dcefdc" stroke="#444" stroke-width="1" />
<rect x="301.78" y="334.74" width="9.6" height="65.76" fill="#a1d4a6" stroke="#333" stroke-width="1" />
<rect x="301.78" y="355.7" width="9.6" height="3.86" fill="#7fc68a" stroke="#222" stroke-width="1" />
<rect x="301.78" y="359.56" width="9.6" height="40.94" fill="#5bb96c" stroke="#222" stroke-width="1" />
<line x1="306.58" y1="404.6" x2="306.58" y2="408.4" stroke="#333" stroke-width="1" />
<text x="310.69" y="417.6" font-size="9.3" text-anchor="end" transform="rotate(-45 310.69 417.6)" stroke="#111" stroke-width="0.12">UCP2</text>
<rect x="312.65" y="318.3" width="9.6" height="82.2" fill="#dcefdc" stroke="#444" stroke-width="1" />
<rect x="312.65" y="355.13" width="9.6" height="45.37" fill="#a1d4a6" stroke="#333" stroke-width="1" />
<rect x="312.65" y="372.22" width="9.6" height="3.86" fill="#7fc68a" stroke="#222" stroke-width="1" />
<rect x="312.65" y="376.09" width="9.6" height="24.41" fill="#5bb96c" stroke="#222" stroke-width="1" />
<line x1="317.45" y1="404.6" x2="317.45" y2="408.4" stroke="#333" stroke-width="1" />
<text x="321.55" y="417.6" font-size="9.3" text-anchor="end" transform="rotate(-45 321.55 417.6)" stroke="#111" stroke-width="0.12">P2RY2</text>
<rect x="323.51" y="318.3" width="9.6" height="82.2" fill="#dcefdc" stroke="#444" stroke-width="1" />
<rect x="323.51" y="355.13" width="9.6" height="45.37" fill="#a1d4a6" stroke="#333" stroke-width="1" />
<rect x="323.51" y="374.61" width="9.6" height="3.86" fill="#7fc68a" stroke="#222" stroke-width="1" />
<rect x="323.51" y="378.47" width="9.6" height="22.03" fill="#5bb96c" stroke="#222" stroke-width="1" />
<line x1="328.31" y1="404.6" x2="328.31" y2="408.4" stroke="#333" stroke-width="1" />
<text x="332.42" y="417.6" font-size="9.3" text-anchor="end" transform="rotate(-45 332.42 417.6)" stroke="#111" stroke-width="0.12">CLPB</text>
<text stroke="#111" stroke-width="0.2" x="268.69" y="309" font-size="9.3" text-anchor="middle">IC2: 11q13 (<tspan font-style="italic">n</tspan> = 22)</text>
<line x1="337.9" y1="314" x2="337.9" y2="404.6" stroke="#1a1a1a" stroke-width="1.1" />
<line x1="337.9" y1="404.6" x2="404.79" y2="404.6" stroke="#888" stroke-width="1.4" />
<line x1="334.7" y1="400.5" x2="337.9" y2="400.5" stroke="#333" stroke-width="1" />
<line x1="334.7" y1="379.95" x2="337.9" y2="379.95" stroke="#333" stroke-width="1" />
<line x1="334.7" y1="359.4" x2="337.9" y2="359.4" stroke="#333" stroke-width="1" />
<line x1="334.7" y1="338.85" x2="337.9" y2="338.85" stroke="#333" stroke-width="1" />
<line x1="334.7" y1="318.3" x2="337.9" y2="318.3" stroke="#333" stroke-width="1" />
<rect x="339.4" y="318.3" width="9.6" height="82.2" fill="#f5ef9c" stroke="#444" stroke-width="1" />
<rect x="339.4" y="318.3" width="9.6" height="82.2" fill="#f5ef9c" stroke="#333" stroke-width="1" />
<rect x="339.4" y="348.55" width="9.6" height="9.04" fill="#f1e974" stroke="#222" stroke-width="1" />
<rect x="339.4" y="357.59" width="9.6" height="42.91" fill="#efe64c" stroke="#222" stroke-width="1" />
<line x1="344.2" y1="404.6" x2="344.2" y2="408.4" stroke="#333" stroke-width="1" />
<text x="348.3" y="417.6" font-size="9.3" text-anchor="end" transform="rotate(-45 348.3 417.6)" stroke="#111" stroke-width="0.12">ZNF703</text>
<rect x="350.26" y="318.3" width="9.6" height="82.2" fill="#f5ef9c" stroke="#444" stroke-width="1" />
<rect x="350.26" y="318.3" width="9.6" height="82.2" fill="#f5ef9c" stroke="#333" stroke-width="1" />
<rect x="350.26" y="347.23" width="9.6" height="14.3" fill="#f1e974" stroke="#222" stroke-width="1" />
<rect x="350.26" y="361.54" width="9.6" height="38.96" fill="#efe64c" stroke="#222" stroke-width="1" />
<line x1="355.06" y1="404.6" x2="355.06" y2="408.4" stroke="#333" stroke-width="1" />
<text x="359.17" y="417.6" font-size="9.3" text-anchor="end" transform="rotate(-45 359.17 417.6)" stroke="#111" stroke-width="0.12">EIF4EBP1</text>
<rect x="361.13" y="318.3" width="9.6" height="82.2" fill="#f5ef9c" stroke="#444" stroke-width="1" />
<rect x="361.13" y="318.3" width="9.6" height="82.2" fill="#f5ef9c" stroke="#333" stroke-width="1" />
<rect x="361.13" y="344.69" width="9.6" height="16.85" fill="#f1e974" stroke="#222" stroke-width="1" />
<rect x="361.13" y="361.54" width="9.6" height="38.96" fill="#efe64c" stroke="#222" stroke-width="1" />
<line x1="365.93" y1="404.6" x2="365.93" y2="408.4" stroke="#333" stroke-width="1" />
<text x="370.03" y="417.6" font-size="9.3" text-anchor="end" transform="rotate(-45 370.03 417.6)" stroke="#111" stroke-width="0.12">LETM2</text>
<rect x="372" y="318.3" width="9.6" height="82.2" fill="#f5ef9c" stroke="#444" stroke-width="1" />
<rect x="372" y="318.3" width="9.6" height="82.2" fill="#f5ef9c" stroke="#333" stroke-width="1" />
<rect x="372" y="347.23" width="9.6" height="14.3" fill="#f1e974" stroke="#222" stroke-width="1" />
<rect x="372" y="361.54" width="9.6" height="38.96" fill="#efe64c" stroke="#222" stroke-width="1" />
<line x1="376.8" y1="404.6" x2="376.8" y2="408.4" stroke="#333" stroke-width="1" />
<text x="380.9" y="417.6" font-size="9.3" text-anchor="end" transform="rotate(-45 380.9 417.6)" stroke="#111" stroke-width="0.12">STAR</text>
<rect x="382.86" y="318.3" width="9.6" height="82.2" fill="#f5ef9c" stroke="#444" stroke-width="1" />
<rect x="382.86" y="318.3" width="9.6" height="82.2" fill="#f5ef9c" stroke="#333" stroke-width="1" />
<rect x="382.86" y="344.69" width="9.6" height="16.85" fill="#f1e974" stroke="#222" stroke-width="1" />
<rect x="382.86" y="361.54" width="9.6" height="38.96" fill="#efe64c" stroke="#222" stroke-width="1" />
<line x1="387.66" y1="404.6" x2="387.66" y2="408.4" stroke="#333" stroke-width="1" />
<text x="391.76" y="417.6" font-size="9.3" text-anchor="end" fill="#e8323c" transform="rotate(-45 391.76 417.6)" stroke="#e8323c" stroke-width="0.12">FGFR1</text>
<rect x="393.72" y="318.3" width="9.6" height="82.2" fill="#f5ef9c" stroke="#444" stroke-width="1" />
<rect x="393.72" y="318.3" width="9.6" height="82.2" fill="#f5ef9c" stroke="#333" stroke-width="1" />
<rect x="393.72" y="344.69" width="9.6" height="16.85" fill="#f1e974" stroke="#222" stroke-width="1" />
<rect x="393.72" y="361.54" width="9.6" height="38.96" fill="#efe64c" stroke="#222" stroke-width="1" />
<line x1="398.52" y1="404.6" x2="398.52" y2="408.4" stroke="#333" stroke-width="1" />
<text x="402.62" y="417.6" font-size="9.3" text-anchor="end" fill="#e8323c" transform="rotate(-45 402.62 417.6)" stroke="#e8323c" stroke-width="0.12">NSD3</text>
<text stroke="#111" stroke-width="0.2" x="371.5" y="298" font-size="9.3" text-anchor="middle">IC6: 8p12</text>
<text stroke="#111" stroke-width="0.2" x="371.5" y="309" font-size="9.3" text-anchor="middle">(<tspan font-style="italic">n</tspan> = 25)</text>
<line x1="408" y1="314" x2="408" y2="404.6" stroke="#1a1a1a" stroke-width="1.1" />
<line x1="408" y1="404.6" x2="474.89" y2="404.6" stroke="#888" stroke-width="1.4" />
<line x1="404.8" y1="400.5" x2="408" y2="400.5" stroke="#333" stroke-width="1" />
<line x1="404.8" y1="379.95" x2="408" y2="379.95" stroke="#333" stroke-width="1" />
<line x1="404.8" y1="359.4" x2="408" y2="359.4" stroke="#333" stroke-width="1" />
<line x1="404.8" y1="338.85" x2="408" y2="338.85" stroke="#333" stroke-width="1" />
<line x1="404.8" y1="318.3" x2="408" y2="318.3" stroke="#333" stroke-width="1" />
<rect x="409.5" y="318.3" width="9.6" height="82.2" fill="#d4add3" stroke="#444" stroke-width="1" />
<rect x="409.5" y="318.3" width="9.6" height="82.2" fill="#d4add3" stroke="#333" stroke-width="1" />
<line x1="414.3" y1="404.6" x2="414.3" y2="408.4" stroke="#333" stroke-width="1" />
<text x="418.4" y="417.6" font-size="9.3" text-anchor="end" transform="rotate(-45 418.4 417.6)" stroke="#111" stroke-width="0.12">FBXO32</text>
<rect x="420.37" y="318.3" width="9.6" height="82.2" fill="#d4add3" stroke="#444" stroke-width="1" />
<rect x="420.37" y="318.3" width="9.6" height="82.2" fill="#d4add3" stroke="#333" stroke-width="1" />
<line x1="425.17" y1="404.6" x2="425.17" y2="408.4" stroke="#333" stroke-width="1" />
<text x="429.27" y="417.6" font-size="9.3" text-anchor="end" transform="rotate(-45 429.27 417.6)" stroke="#111" stroke-width="0.12">SQLE</text>
<rect x="431.23" y="318.3" width="9.6" height="82.2" fill="#d4add3" stroke="#444" stroke-width="1" />
<rect x="431.23" y="318.3" width="9.6" height="82.2" fill="#d4add3" stroke="#333" stroke-width="1" />
<line x1="436.03" y1="404.6" x2="436.03" y2="408.4" stroke="#333" stroke-width="1" />
<text x="440.13" y="417.6" font-size="9.3" text-anchor="end" fill="#e8323c" transform="rotate(-45 440.13 417.6)" stroke="#e8323c" stroke-width="0.12">MYC</text>
<rect x="442.1" y="318.3" width="9.6" height="82.2" fill="#d4add3" stroke="#444" stroke-width="1" />
<rect x="442.1" y="318.3" width="9.6" height="82.2" fill="#d4add3" stroke="#333" stroke-width="1" />
<line x1="446.9" y1="404.6" x2="446.9" y2="408.4" stroke="#333" stroke-width="1" />
<text x="451" y="417.6" font-size="9.3" text-anchor="end" transform="rotate(-45 451 417.6)" stroke="#111" stroke-width="0.12">ADCY8</text>
<rect x="452.96" y="318.3" width="9.6" height="82.2" fill="#d4add3" stroke="#444" stroke-width="1" />
<rect x="452.96" y="318.3" width="9.6" height="82.2" fill="#d4add3" stroke="#333" stroke-width="1" />
<line x1="457.76" y1="404.6" x2="457.76" y2="408.4" stroke="#333" stroke-width="1" />
<text x="461.86" y="417.6" font-size="9.3" text-anchor="end" transform="rotate(-45 461.86 417.6)" stroke="#111" stroke-width="0.12">RAD21</text>
<rect x="463.82" y="318.3" width="9.6" height="82.2" fill="#d4add3" stroke="#444" stroke-width="1" />
<rect x="463.82" y="318.3" width="9.6" height="82.2" fill="#d4add3" stroke="#333" stroke-width="1" />
<line x1="468.62" y1="404.6" x2="468.62" y2="408.4" stroke="#333" stroke-width="1" />
<text x="472.73" y="417.6" font-size="9.3" text-anchor="end" transform="rotate(-45 472.73 417.6)" stroke="#111" stroke-width="0.12">RECQL4</text>
<text stroke="#111" stroke-width="0.2" x="441.6" y="298" font-size="9.3" text-anchor="middle">IC9: 8q24</text>
<text stroke="#111" stroke-width="0.2" x="441.6" y="309" font-size="9.3" text-anchor="middle">(<tspan font-style="italic">n</tspan> = 50)</text>
<line x1="478.6" y1="314" x2="478.6" y2="404.6" stroke="#1a1a1a" stroke-width="1.1" />
<line x1="478.6" y1="404.6" x2="643.28" y2="404.6" stroke="#888" stroke-width="1.4" />
<line x1="475.4" y1="400.5" x2="478.6" y2="400.5" stroke="#333" stroke-width="1" />
<line x1="475.4" y1="379.95" x2="478.6" y2="379.95" stroke="#333" stroke-width="1" />
<line x1="475.4" y1="359.4" x2="478.6" y2="359.4" stroke="#333" stroke-width="1" />
<line x1="475.4" y1="338.85" x2="478.6" y2="338.85" stroke="#333" stroke-width="1" />
<line x1="475.4" y1="318.3" x2="478.6" y2="318.3" stroke="#333" stroke-width="1" />
<rect x="480.1" y="318.3" width="9.6" height="82.2" fill="#dfc1b5" stroke="#444" stroke-width="1" />
<rect x="480.1" y="318.3" width="9.6" height="82.2" fill="#b36b5b" stroke="#333" stroke-width="1" />
<rect x="480.1" y="340" width="9.6" height="11.67" fill="#a3463a" stroke="#222" stroke-width="1" />
<rect x="480.1" y="351.67" width="9.6" height="48.83" fill="#8a1a1e" stroke="#222" stroke-width="1" />
<line x1="484.9" y1="404.6" x2="484.9" y2="408.4" stroke="#333" stroke-width="1" />
<text x="489" y="417.6" font-size="9.3" text-anchor="end" fill="#e8323c" transform="rotate(-45 489 417.6)" stroke="#e8323c" stroke-width="0.12">ERBB2</text>
<rect x="490.97" y="318.3" width="9.6" height="82.2" fill="#dfc1b5" stroke="#444" stroke-width="1" />
<rect x="490.97" y="319.37" width="9.6" height="81.13" fill="#b36b5b" stroke="#333" stroke-width="1" />
<rect x="490.97" y="340.82" width="9.6" height="12.17" fill="#a3463a" stroke="#222" stroke-width="1" />
<rect x="490.97" y="352.99" width="9.6" height="47.51" fill="#8a1a1e" stroke="#222" stroke-width="1" />
<line x1="495.77" y1="404.6" x2="495.77" y2="408.4" stroke="#333" stroke-width="1" />
<text x="499.87" y="417.6" font-size="9.3" text-anchor="end" transform="rotate(-45 499.87 417.6)" stroke="#111" stroke-width="0.12">PGAP3</text>
<rect x="501.83" y="318.3" width="9.6" height="82.2" fill="#dfc1b5" stroke="#444" stroke-width="1" />
<rect x="501.83" y="319.37" width="9.6" height="81.13" fill="#b36b5b" stroke="#333" stroke-width="1" />
<rect x="501.83" y="341.97" width="9.6" height="11.51" fill="#a3463a" stroke="#222" stroke-width="1" />
<rect x="501.83" y="353.48" width="9.6" height="47.02" fill="#8a1a1e" stroke="#222" stroke-width="1" />
<line x1="506.63" y1="404.6" x2="506.63" y2="408.4" stroke="#333" stroke-width="1" />
<text x="510.73" y="417.6" font-size="9.3" text-anchor="end" transform="rotate(-45 510.73 417.6)" stroke="#111" stroke-width="0.12">PNMT</text>
<rect x="512.7" y="318.3" width="9.6" height="82.2" fill="#dfc1b5" stroke="#444" stroke-width="1" />
<rect x="512.7" y="320.52" width="9.6" height="79.98" fill="#b36b5b" stroke="#333" stroke-width="1" />
<rect x="512.7" y="341.73" width="9.6" height="11.59" fill="#a3463a" stroke="#222" stroke-width="1" />
<rect x="512.7" y="353.32" width="9.6" height="47.18" fill="#8a1a1e" stroke="#222" stroke-width="1" />
<line x1="517.5" y1="404.6" x2="517.5" y2="408.4" stroke="#333" stroke-width="1" />
<text x="521.6" y="417.6" font-size="9.3" text-anchor="end" transform="rotate(-45 521.6 417.6)" stroke="#111" stroke-width="0.12">TCAP</text>
<rect x="523.56" y="318.3" width="9.6" height="82.2" fill="#dfc1b5" stroke="#444" stroke-width="1" />
<rect x="523.56" y="320.52" width="9.6" height="79.98" fill="#b36b5b" stroke="#333" stroke-width="1" />
<rect x="523.56" y="342.55" width="9.6" height="10.77" fill="#a3463a" stroke="#222" stroke-width="1" />
<rect x="523.56" y="353.32" width="9.6" height="47.18" fill="#8a1a1e" stroke="#222" stroke-width="1" />
<line x1="528.36" y1="404.6" x2="528.36" y2="408.4" stroke="#333" stroke-width="1" />
<text x="532.46" y="417.6" font-size="9.3" text-anchor="end" transform="rotate(-45 532.46 417.6)" stroke="#111" stroke-width="0.12">PPP1R1B</text>
<rect x="534.43" y="318.3" width="9.6" height="82.2" fill="#dfc1b5" stroke="#444" stroke-width="1" />
<rect x="534.43" y="320.52" width="9.6" height="79.98" fill="#b36b5b" stroke="#333" stroke-width="1" />
<rect x="534.43" y="341.97" width="9.6" height="10.77" fill="#a3463a" stroke="#222" stroke-width="1" />
<rect x="534.43" y="352.74" width="9.6" height="47.76" fill="#8a1a1e" stroke="#222" stroke-width="1" />
<line x1="539.23" y1="404.6" x2="539.23" y2="408.4" stroke="#333" stroke-width="1" />
<text x="543.33" y="417.6" font-size="9.3" text-anchor="end" transform="rotate(-45 543.33 417.6)" stroke="#111" stroke-width="0.12">STARD3</text>
<rect x="545.29" y="318.3" width="9.6" height="82.2" fill="#dfc1b5" stroke="#444" stroke-width="1" />
<rect x="545.29" y="324.38" width="9.6" height="76.12" fill="#b36b5b" stroke="#333" stroke-width="1" />
<rect x="545.29" y="344.36" width="9.6" height="11.34" fill="#a3463a" stroke="#222" stroke-width="1" />
<rect x="545.29" y="355.7" width="9.6" height="44.8" fill="#8a1a1e" stroke="#222" stroke-width="1" />
<line x1="550.09" y1="404.6" x2="550.09" y2="408.4" stroke="#333" stroke-width="1" />
<text x="554.19" y="417.6" font-size="9.3" text-anchor="end" transform="rotate(-45 554.19 417.6)" stroke="#111" stroke-width="0.12">NEUROD2</text>
<rect x="556.15" y="318.3" width="9.6" height="82.2" fill="#dfc1b5" stroke="#444" stroke-width="1" />
<rect x="556.15" y="330.38" width="9.6" height="70.12" fill="#b36b5b" stroke="#333" stroke-width="1" />
<rect x="556.15" y="356.28" width="9.6" height="8.22" fill="#a3463a" stroke="#222" stroke-width="1" />
<rect x="556.15" y="364.5" width="9.6" height="36" fill="#8a1a1e" stroke="#222" stroke-width="1" />
<line x1="560.95" y1="404.6" x2="560.95" y2="408.4" stroke="#333" stroke-width="1" />
<text x="565.05" y="417.6" font-size="9.3" text-anchor="end" transform="rotate(-45 565.05 417.6)" stroke="#111" stroke-width="0.12">MED1</text>
<rect x="567.02" y="318.3" width="9.6" height="82.2" fill="#dfc1b5" stroke="#444" stroke-width="1" />
<rect x="567.02" y="331.21" width="9.6" height="69.29" fill="#b36b5b" stroke="#333" stroke-width="1" />
<rect x="567.02" y="352.41" width="9.6" height="8.22" fill="#a3463a" stroke="#222" stroke-width="1" />
<rect x="567.02" y="360.63" width="9.6" height="39.87" fill="#8a1a1e" stroke="#222" stroke-width="1" />
<line x1="571.82" y1="404.6" x2="571.82" y2="408.4" stroke="#333" stroke-width="1" />
<text x="575.92" y="417.6" font-size="9.3" text-anchor="end" transform="rotate(-45 575.92 417.6)" stroke="#111" stroke-width="0.12">CDK12</text>
<rect x="577.88" y="318.3" width="9.6" height="82.2" fill="#dfc1b5" stroke="#444" stroke-width="1" />
<rect x="577.88" y="338.44" width="9.6" height="62.06" fill="#b36b5b" stroke="#333" stroke-width="1" />
<rect x="577.88" y="367.29" width="9.6" height="7.15" fill="#a3463a" stroke="#222" stroke-width="1" />
<rect x="577.88" y="374.44" width="9.6" height="26.06" fill="#8a1a1e" stroke="#222" stroke-width="1" />
<line x1="582.68" y1="404.6" x2="582.68" y2="408.4" stroke="#333" stroke-width="1" />
<text x="586.78" y="417.6" font-size="9.3" text-anchor="end" transform="rotate(-45 586.78 417.6)" stroke="#111" stroke-width="0.12">ARL5C</text>
<rect x="588.75" y="318.3" width="9.6" height="82.2" fill="#dfc1b5" stroke="#444" stroke-width="1" />
<rect x="588.75" y="338.44" width="9.6" height="62.06" fill="#b36b5b" stroke="#333" stroke-width="1" />
<rect x="588.75" y="366.14" width="9.6" height="7.15" fill="#a3463a" stroke="#222" stroke-width="1" />
<rect x="588.75" y="373.29" width="9.6" height="27.21" fill="#8a1a1e" stroke="#222" stroke-width="1" />
<line x1="593.55" y1="404.6" x2="593.55" y2="408.4" stroke="#333" stroke-width="1" />
<text x="597.65" y="417.6" font-size="9.3" text-anchor="end" transform="rotate(-45 597.65 417.6)" stroke="#111" stroke-width="0.12">CACNB1</text>
<rect x="599.62" y="318.3" width="9.6" height="82.2" fill="#dfc1b5" stroke="#444" stroke-width="1" />
<rect x="599.62" y="338.44" width="9.6" height="62.06" fill="#b36b5b" stroke="#333" stroke-width="1" />
<rect x="599.62" y="363.18" width="9.6" height="6.82" fill="#a3463a" stroke="#222" stroke-width="1" />
<rect x="599.62" y="370" width="9.6" height="30.5" fill="#8a1a1e" stroke="#222" stroke-width="1" />
<line x1="604.41" y1="404.6" x2="604.41" y2="408.4" stroke="#333" stroke-width="1" />
<text x="608.51" y="417.6" font-size="9.3" text-anchor="end" transform="rotate(-45 608.51 417.6)" stroke="#111" stroke-width="0.12">FBXL20</text>
<rect x="610.48" y="318.3" width="9.6" height="82.2" fill="#dfc1b5" stroke="#444" stroke-width="1" />
<rect x="610.48" y="338.44" width="9.6" height="62.06" fill="#b36b5b" stroke="#333" stroke-width="1" />
<rect x="610.48" y="366.14" width="9.6" height="7.15" fill="#a3463a" stroke="#222" stroke-width="1" />
<rect x="610.48" y="373.29" width="9.6" height="27.21" fill="#8a1a1e" stroke="#222" stroke-width="1" />
<line x1="615.28" y1="404.6" x2="615.28" y2="408.4" stroke="#333" stroke-width="1" />
<text x="619.38" y="417.6" font-size="9.3" text-anchor="end" transform="rotate(-45 619.38 417.6)" stroke="#111" stroke-width="0.12">RPL19</text>
<rect x="621.35" y="318.3" width="9.6" height="82.2" fill="#dfc1b5" stroke="#444" stroke-width="1" />
<rect x="621.35" y="338.44" width="9.6" height="62.06" fill="#b36b5b" stroke="#333" stroke-width="1" />
<rect x="621.35" y="366.14" width="9.6" height="7.15" fill="#a3463a" stroke="#222" stroke-width="1" />
<rect x="621.35" y="373.29" width="9.6" height="27.21" fill="#8a1a1e" stroke="#222" stroke-width="1" />
<line x1="626.14" y1="404.6" x2="626.14" y2="408.4" stroke="#333" stroke-width="1" />
<text x="630.25" y="417.6" font-size="9.3" text-anchor="end" transform="rotate(-45 630.25 417.6)" stroke="#111" stroke-width="0.12">STAC2</text>
<rect x="632.21" y="318.3" width="9.6" height="82.2" fill="#dfc1b5" stroke="#444" stroke-width="1" />
<rect x="632.21" y="339.51" width="9.6" height="60.99" fill="#b36b5b" stroke="#333" stroke-width="1" />
<rect x="632.21" y="366.14" width="9.6" height="7.15" fill="#a3463a" stroke="#222" stroke-width="1" />
<rect x="632.21" y="373.29" width="9.6" height="27.21" fill="#8a1a1e" stroke="#222" stroke-width="1" />
<line x1="637.01" y1="404.6" x2="637.01" y2="408.4" stroke="#333" stroke-width="1" />
<text x="641.11" y="417.6" font-size="9.3" text-anchor="end" transform="rotate(-45 641.11 417.6)" stroke="#111" stroke-width="0.12">PLXDC1</text>
<text stroke="#111" stroke-width="0.2" x="561.09" y="309" font-size="9.3" text-anchor="middle">IC5: 17q12 (<tspan font-style="italic">n</tspan> = 70)</text>
<line x1="646.4" y1="314" x2="646.4" y2="404.6" stroke="#1a1a1a" stroke-width="1.1" />
<line x1="646.4" y1="404.6" x2="821.94" y2="404.6" stroke="#888" stroke-width="1.4" />
<line x1="643.2" y1="400.5" x2="646.4" y2="400.5" stroke="#333" stroke-width="1" />
<line x1="643.2" y1="379.95" x2="646.4" y2="379.95" stroke="#333" stroke-width="1" />
<line x1="643.2" y1="359.4" x2="646.4" y2="359.4" stroke="#333" stroke-width="1" />
<line x1="643.2" y1="338.85" x2="646.4" y2="338.85" stroke="#333" stroke-width="1" />
<line x1="643.2" y1="318.3" x2="646.4" y2="318.3" stroke="#333" stroke-width="1" />
<rect x="647.9" y="318.3" width="9.6" height="82.2" fill="#fdd6cc" stroke="#444" stroke-width="1" />
<rect x="647.9" y="335.23" width="9.6" height="65.27" fill="#f38e7f" stroke="#333" stroke-width="1" />
<rect x="647.9" y="397.21" width="9.6" height="1.64" fill="#e8434e" stroke="#222" stroke-width="1" />
<rect x="647.9" y="398.86" width="9.6" height="1.64" fill="#6a1f22" stroke="#222" stroke-width="1" />
<line x1="652.7" y1="404.6" x2="652.7" y2="408.4" stroke="#333" stroke-width="1" />
<text x="656.8" y="417.6" font-size="9.3" text-anchor="end" transform="rotate(-45 656.8 417.6)" stroke="#111" stroke-width="0.12">RBM38</text>
<rect x="658.76" y="318.3" width="9.6" height="82.2" fill="#fdd6cc" stroke="#444" stroke-width="1" />
<rect x="658.76" y="334.9" width="9.6" height="65.6" fill="#f38e7f" stroke="#333" stroke-width="1" />
<rect x="658.76" y="396.39" width="9.6" height="2.47" fill="#e8434e" stroke="#222" stroke-width="1" />
<rect x="658.76" y="398.86" width="9.6" height="1.64" fill="#6a1f22" stroke="#222" stroke-width="1" />
<line x1="663.56" y1="404.6" x2="663.56" y2="408.4" stroke="#333" stroke-width="1" />
<text x="667.66" y="417.6" font-size="9.3" text-anchor="end" transform="rotate(-45 667.66 417.6)" stroke="#111" stroke-width="0.12">ZNF217</text>
<rect x="669.63" y="318.3" width="9.6" height="82.2" fill="#fdd6cc" stroke="#444" stroke-width="1" />
<rect x="669.63" y="335.73" width="9.6" height="64.77" fill="#f38e7f" stroke="#333" stroke-width="1" />
<line x1="674.43" y1="404.6" x2="674.43" y2="408.4" stroke="#333" stroke-width="1" />
<text x="678.53" y="417.6" font-size="9.3" text-anchor="end" fill="#e8323c" transform="rotate(-45 678.53 417.6)" stroke="#e8323c" stroke-width="0.12">NFATC2</text>
<rect x="680.5" y="318.3" width="9.6" height="82.2" fill="#fdd6cc" stroke="#444" stroke-width="1" />
<rect x="680.5" y="337.53" width="9.6" height="62.97" fill="#f38e7f" stroke="#333" stroke-width="1" />
<rect x="680.5" y="399.84" width="9.6" height="0.25" fill="#e8434e" stroke="#222" stroke-width="1" />
<rect x="680.5" y="400.09" width="9.6" height="0.41" fill="#6a1f22" stroke="#222" stroke-width="1" />
<line x1="685.29" y1="404.6" x2="685.29" y2="408.4" stroke="#333" stroke-width="1" />
<text x="689.39" y="417.6" font-size="9.3" text-anchor="end" transform="rotate(-45 689.39 417.6)" stroke="#111" stroke-width="0.12">PTK6</text>
<rect x="691.36" y="318.3" width="9.6" height="82.2" fill="#fdd6cc" stroke="#444" stroke-width="1" />
<rect x="691.36" y="336.38" width="9.6" height="64.12" fill="#f38e7f" stroke="#333" stroke-width="1" />
<line x1="696.16" y1="404.6" x2="696.16" y2="408.4" stroke="#333" stroke-width="1" />
<text x="700.26" y="417.6" font-size="9.3" text-anchor="end" fill="#e8323c" transform="rotate(-45 700.26 417.6)" stroke="#e8323c" stroke-width="0.12">SALL4</text>
<rect x="702.23" y="318.3" width="9.6" height="82.2" fill="#fdd6cc" stroke="#444" stroke-width="1" />
<rect x="702.23" y="335.48" width="9.6" height="65.02" fill="#f38e7f" stroke="#333" stroke-width="1" />
<rect x="702.23" y="398.44" width="9.6" height="1.23" fill="#e8434e" stroke="#222" stroke-width="1" />
<rect x="702.23" y="399.68" width="9.6" height="0.82" fill="#6a1f22" stroke="#222" stroke-width="1" />
<line x1="707.02" y1="404.6" x2="707.02" y2="408.4" stroke="#333" stroke-width="1" />
<text x="711.12" y="417.6" font-size="9.3" text-anchor="end" transform="rotate(-45 711.12 417.6)" stroke="#111" stroke-width="0.12">ZFP64</text>
<rect x="713.09" y="318.3" width="9.6" height="82.2" fill="#fdd6cc" stroke="#444" stroke-width="1" />
<rect x="713.09" y="336.38" width="9.6" height="64.12" fill="#f38e7f" stroke="#333" stroke-width="1" />
<rect x="713.09" y="398.03" width="9.6" height="1.64" fill="#e8434e" stroke="#222" stroke-width="1" />
<rect x="713.09" y="399.68" width="9.6" height="0.82" fill="#6a1f22" stroke="#222" stroke-width="1" />
<line x1="717.89" y1="404.6" x2="717.89" y2="408.4" stroke="#333" stroke-width="1" />
<text x="721.99" y="417.6" font-size="9.3" text-anchor="end" transform="rotate(-45 721.99 417.6)" stroke="#111" stroke-width="0.12">RAE1</text>
<rect x="723.95" y="318.3" width="9.6" height="82.2" fill="#fdd6cc" stroke="#444" stroke-width="1" />
<rect x="723.95" y="338.03" width="9.6" height="62.47" fill="#f38e7f" stroke="#333" stroke-width="1" />
<line x1="728.75" y1="404.6" x2="728.75" y2="408.4" stroke="#333" stroke-width="1" />
<text x="732.85" y="417.6" font-size="9.3" text-anchor="end" transform="rotate(-45 732.85 417.6)" stroke="#111" stroke-width="0.12">SPATA2</text>
<rect x="734.82" y="318.3" width="9.6" height="82.2" fill="#fdd6cc" stroke="#444" stroke-width="1" />
<rect x="734.82" y="336.38" width="9.6" height="64.12" fill="#f38e7f" stroke="#333" stroke-width="1" />
<rect x="734.82" y="397.21" width="9.6" height="2.47" fill="#e8434e" stroke="#222" stroke-width="1" />
<rect x="734.82" y="399.68" width="9.6" height="0.82" fill="#6a1f22" stroke="#222" stroke-width="1" />
<line x1="739.62" y1="404.6" x2="739.62" y2="408.4" stroke="#333" stroke-width="1" />
<text x="743.72" y="417.6" font-size="9.3" text-anchor="end" transform="rotate(-45 743.72 417.6)" stroke="#111" stroke-width="0.12">TAF4</text>
<rect x="745.68" y="318.3" width="9.6" height="82.2" fill="#fdd6cc" stroke="#444" stroke-width="1" />
<rect x="745.68" y="337.29" width="9.6" height="63.21" fill="#f38e7f" stroke="#333" stroke-width="1" />
<rect x="745.68" y="397.21" width="9.6" height="2.47" fill="#e8434e" stroke="#222" stroke-width="1" />
<rect x="745.68" y="399.68" width="9.6" height="0.82" fill="#6a1f22" stroke="#222" stroke-width="1" />
<line x1="750.48" y1="404.6" x2="750.48" y2="408.4" stroke="#333" stroke-width="1" />
<text x="754.58" y="417.6" font-size="9.3" text-anchor="end" fill="#e8323c" transform="rotate(-45 754.58 417.6)" stroke="#e8323c" stroke-width="0.12">GNAS</text>
<rect x="756.55" y="318.3" width="9.6" height="82.2" fill="#fdd6cc" stroke="#444" stroke-width="1" />
<rect x="756.55" y="337.29" width="9.6" height="63.21" fill="#f38e7f" stroke="#333" stroke-width="1" />
<rect x="756.55" y="397.62" width="9.6" height="2.05" fill="#e8434e" stroke="#222" stroke-width="1" />
<rect x="756.55" y="399.68" width="9.6" height="0.82" fill="#6a1f22" stroke="#222" stroke-width="1" />
<line x1="761.35" y1="404.6" x2="761.35" y2="408.4" stroke="#333" stroke-width="1" />
<text x="765.45" y="417.6" font-size="9.3" text-anchor="end" transform="rotate(-45 765.45 417.6)" stroke="#111" stroke-width="0.12">NELFCD</text>
<rect x="767.41" y="318.3" width="9.6" height="82.2" fill="#fdd6cc" stroke="#444" stroke-width="1" />
<rect x="767.41" y="337.29" width="9.6" height="63.21" fill="#f38e7f" stroke="#333" stroke-width="1" />
<rect x="767.41" y="397.62" width="9.6" height="2.05" fill="#e8434e" stroke="#222" stroke-width="1" />
<rect x="767.41" y="399.68" width="9.6" height="0.82" fill="#6a1f22" stroke="#222" stroke-width="1" />
<line x1="772.21" y1="404.6" x2="772.21" y2="408.4" stroke="#333" stroke-width="1" />
<text x="776.31" y="417.6" font-size="9.3" text-anchor="end" transform="rotate(-45 776.31 417.6)" stroke="#111" stroke-width="0.12">RAB22A</text>
<rect x="778.28" y="318.3" width="9.6" height="82.2" fill="#fdd6cc" stroke="#444" stroke-width="1" />
<rect x="778.28" y="337.29" width="9.6" height="63.21" fill="#f38e7f" stroke="#333" stroke-width="1" />
<rect x="778.28" y="397.62" width="9.6" height="2.05" fill="#e8434e" stroke="#222" stroke-width="1" />
<rect x="778.28" y="399.68" width="9.6" height="0.82" fill="#6a1f22" stroke="#222" stroke-width="1" />
<line x1="783.08" y1="404.6" x2="783.08" y2="408.4" stroke="#333" stroke-width="1" />
<text x="787.18" y="417.6" font-size="9.3" text-anchor="end" transform="rotate(-45 787.18 417.6)" stroke="#111" stroke-width="0.12">STX16</text>
<rect x="789.14" y="318.3" width="9.6" height="82.2" fill="#fdd6cc" stroke="#444" stroke-width="1" />
<rect x="789.14" y="339.1" width="9.6" height="61.4" fill="#f38e7f" stroke="#333" stroke-width="1" />
<rect x="789.14" y="397.62" width="9.6" height="2.05" fill="#e8434e" stroke="#222" stroke-width="1" />
<rect x="789.14" y="399.68" width="9.6" height="0.82" fill="#6a1f22" stroke="#222" stroke-width="1" />
<line x1="793.94" y1="404.6" x2="793.94" y2="408.4" stroke="#333" stroke-width="1" />
<text x="798.04" y="417.6" font-size="9.3" text-anchor="end" transform="rotate(-45 798.04 417.6)" stroke="#111" stroke-width="0.12">PPP1R3D</text>
<rect x="800.01" y="318.3" width="9.6" height="82.2" fill="#fdd6cc" stroke="#444" stroke-width="1" />
<rect x="800.01" y="341.48" width="9.6" height="59.02" fill="#f38e7f" stroke="#333" stroke-width="1" />
<line x1="804.81" y1="404.6" x2="804.81" y2="408.4" stroke="#333" stroke-width="1" />
<text x="808.91" y="417.6" font-size="9.3" text-anchor="end" transform="rotate(-45 808.91 417.6)" stroke="#111" stroke-width="0.12">NCOA3</text>
<rect x="810.88" y="318.3" width="9.6" height="82.2" fill="#fdd6cc" stroke="#444" stroke-width="1" />
<rect x="810.88" y="342.3" width="9.6" height="58.2" fill="#f38e7f" stroke="#333" stroke-width="1" />
<line x1="815.67" y1="404.6" x2="815.67" y2="408.4" stroke="#333" stroke-width="1" />
<text x="819.77" y="417.6" font-size="9.3" text-anchor="end" transform="rotate(-45 819.77 417.6)" stroke="#111" stroke-width="0.12">SDC4</text>
<text stroke="#111" stroke-width="0.2" x="734.32" y="309" font-size="9.3" text-anchor="middle">IC1 + IC9: 20q13 (<tspan font-style="italic">n</tspan> = 90)</text>
<text stroke="#111" stroke-width="0.2" x="21.2" y="359.3" font-size="9.3" text-anchor="middle" transform="rotate(-90 21.2 359.3)">Frequency</text>
<text stroke="#111" stroke-width="0.2" x="10" y="472.2" font-size="12.8" font-weight="bold">f</text>
<rect x="420.4" y="467.2" width="16.8" height="12.9" fill="#000" stroke="#111" stroke-width="0.8" />
<rect x="420.4" y="482.5" width="16.8" height="12.9" fill="#333" stroke="#111" stroke-width="0.8" />
<text stroke="#111" stroke-width="0.2" x="443.5" y="478" font-size="9.3" textLength="80.3" lengthAdjust="spacingAndGlyphs">Amplified in ecDNA</text>
<text stroke="#111" stroke-width="0.2" x="444.7" y="491.4" font-size="9.3" textLength="131.1" lengthAdjust="spacingAndGlyphs">Amplified in complex non-cyclic</text>
<rect x="607.8" y="467.6" width="16.3" height="12.6" fill="#5f5f5f" stroke="#222" stroke-width="0.9" />
<rect x="607.8" y="483" width="16.3" height="12.6" fill="#cfcfcf" stroke="#222" stroke-width="0.9" />
<text stroke="#111" stroke-width="0.2" x="630.2" y="478" font-size="9.3" textLength="37.8" lengthAdjust="spacingAndGlyphs">Amplified</text>
<text stroke="#111" stroke-width="0.2" x="630.2" y="491.4" font-size="9.3" textLength="54.8" lengthAdjust="spacingAndGlyphs">Not amplified</text>
<text stroke="#111" stroke-width="0.2" x="716.9" y="477.8" font-size="9.3" textLength="95.6" lengthAdjust="spacingAndGlyphs"><tspan fill="#e8323c">a</tspan>: COSMIC oncogenes</text>
<rect x="55.2" y="499.2" width="110.5" height="122.4" fill="#ecf2fa" rx="9"/>
<text stroke="#111" stroke-width="0.2" x="109.4" y="493.7" font-size="9.3" text-anchor="middle" textLength="33" lengthAdjust="spacingAndGlyphs">Model 1</text>
<path d="M69.8,521.7 A3.5,3.5 0 0 1 76.8,521.7 C76.8,529.25 75.4,538.3 75.4,540.3 C75.4,542.3 76.8,561.6 76.8,579.4 A3.5,3.5 0 0 1 69.8,579.4 C69.8,561.6 71.2,542.3 71.2,540.3 C71.2,538.3 69.8,529.25 69.8,521.7 Z" fill="#1f6d9f" />
<ellipse cx="73.3" cy="540.3" rx="1.93" ry="2" fill="#ffffff" fill-opacity="0.3"/>
<path d="M89.9,543.8 A3.5,3.5 0 0 1 96.9,543.8 C96.9,551.35 95.5,560.4 95.5,562.4 C95.5,564.4 96.9,583.7 96.9,601.5 A3.5,3.5 0 0 1 89.9,601.5 C89.9,583.7 91.3,564.4 91.3,562.4 C91.3,560.4 89.9,551.35 89.9,543.8 Z" fill="#e8843c" />
<ellipse cx="93.4" cy="562.4" rx="1.93" ry="2" fill="#ffffff" fill-opacity="0.3"/>
<text stroke="#111" stroke-width="0.2" x="84.3" y="531.3" font-size="9.3" textLength="29.2" lengthAdjust="spacingAndGlyphs">Chr. 17</text>
<text stroke="#111" stroke-width="0.2" x="103.4" y="557.8" font-size="9.3" textLength="48.6" lengthAdjust="spacingAndGlyphs">ER-induced</text>
<text stroke="#111" stroke-width="0.2" x="58.2" y="600" font-size="9.3" textLength="24.8" lengthAdjust="spacingAndGlyphs">Chr. 8</text>
<line x1="129.5" y1="570" x2="146.88" y2="570" stroke="#222" stroke-width="0.9" />
<path d="M148.8,570 L145.6,568.24 L145.6,571.76 Z" fill="#222" />
<rect x="173.8" y="501.5" width="118.8" height="126" fill="none" stroke="#111" stroke-width="2.2" rx="12" stroke-dasharray="4.4 3.7"/>
<text stroke="#111" stroke-width="0.2" x="232.8" y="493.9" font-size="9.3" text-anchor="middle" textLength="33" lengthAdjust="spacingAndGlyphs">Model 2</text>
<ellipse cx="231" cy="536.4" rx="17.4" ry="7" fill="#f8ebb8"/>
<path d="M192,527.8 L193.03,529 L194.06,527.69 L195.09,526.61 L196.11,528.01 L197.14,528.97 L198.17,527.48 L199.2,526.66 L200.23,528.22 L201.26,528.9 L202.29,527.28 L203.31,526.74 L204.34,528.42 L205.37,528.8 L206.4,527.09 L207.43,526.86 L208.46,528.59 L209.49,528.67 L210.51,526.93 L211.54,527.01 L212.57,528.74 L213.6,528.51" fill="none" stroke="#d9534f" stroke-width="0.7" />
<path d="M192,527.8 L193.03,526.6 L194.06,527.91 L195.09,528.99 L196.11,527.59 L197.14,526.63 L198.17,528.12 L199.2,528.94 L200.23,527.38 L201.26,526.7 L202.29,528.32 L203.31,528.86 L204.34,527.18 L205.37,526.8 L206.4,528.51 L207.43,528.74 L208.46,527.01 L209.49,526.93 L210.51,528.67 L211.54,528.59 L212.57,526.86 L213.6,527.09" fill="none" stroke="#4a6fb0" stroke-width="0.7" />
<path d="M250,527.2 L251,528.4 L252,527.2 L253,526 L254,527.2 L255,528.4 L256,527.2 L257,526 L258,527.2 L259,528.4 L260,527.2 L261,526 L262,527.2 L263,528.4 L264,527.2 L265,526 L266,527.2 L267,528.4 L268,527.2 L269,526 L270,527.2 L271,528.4" fill="none" stroke="#d9534f" stroke-width="0.7" />
<path d="M250,527.2 L251,526 L252,527.2 L253,528.4 L254,527.2 L255,526 L256,527.2 L257,528.4 L258,527.2 L259,526 L260,527.2 L261,528.4 L262,527.2 L263,526 L264,527.2 L265,528.4 L266,527.2 L267,526 L268,527.2 L269,528.4 L270,527.2 L271,526" fill="none" stroke="#4a6fb0" stroke-width="0.7" />
<path d="M213.6,527.8 C 217,521 222,520.3 231,520.3 C 240,520.3 246,521 250,527.2" fill="none" stroke="#d9534f" stroke-width="1" />
<path d="M213.6,527.8 C 216,534 219,537 222,537" fill="none" stroke="#4a6fb0" stroke-width="0.9" />
<path d="M222,537.3 L223,538.5 L224,537.3 L225,536.1 L226,537.3 L227,538.5 L228,537.3 L229,536.1 L230,537.3 L231,538.5 L232,537.3 L233,536.1 L234,537.3 L235,538.5 L236,537.3 L237,536.1 L238,537.3 L239,538.5 L240,537.3 L241,536.1 L242,537.3 L243,538.5 L244,537.3" fill="none" stroke="#4a6fb0" stroke-width="0.7" />
<path d="M222,537.3 L223,536.1 L224,537.3 L225,538.5 L226,537.3 L227,536.1 L228,537.3 L229,538.5 L230,537.3 L231,536.1 L232,537.3 L233,538.5 L234,537.3 L235,536.1 L236,537.3 L237,538.5 L238,537.3 L239,536.1 L240,537.3 L241,538.5 L242,537.3 L243,536.1 L244,537.3" fill="none" stroke="#c86ab0" stroke-width="0.7" />
<path d="M244,537 C 247,536 249,532 250,527.2" fill="none" stroke="#4a6fb0" stroke-width="0.9" />
<path d="M192,542.5 C 200,541.5 208,540.5 217,538.5" fill="none" stroke="#d693c9" stroke-width="1" />
<path d="M226.5,516.6 L226.5,522.5 C 226.5,525.6 234,525.6 234,522.5 L234,516.6" fill="none" stroke="#d43c3c" stroke-width="1.8" />
<ellipse cx="199.4" cy="520.3" rx="11.3" ry="5.2" fill="#bdb5dc" stroke="#8a80c0" stroke-width="0.8"/>
<ellipse cx="207.6" cy="511.3" rx="10.8" ry="4.9" fill="#2e8766" stroke="#1f5a40" stroke-width="0.6"/>
<text stroke="#111" stroke-width="0.171" x="207.6" y="514.4" font-size="8.6" text-anchor="middle" fill="#111">A3B</text>
<text stroke="#111" stroke-width="0.171" x="197.8" y="523.4" font-size="8.6" text-anchor="middle" fill="#111">ER</text>
<path d="M220.6,506 C 224,505 227,506.5 228.5,510" fill="none" stroke="#222" stroke-width="0.8" />
<path d="M227,509.5 L229.3,512 L230,508.6 Z" fill="#222" />
<text stroke="#111" stroke-width="0.2" x="229.3" y="554.7" font-size="9.3" text-anchor="middle" textLength="27.8" lengthAdjust="spacingAndGlyphs">R-loop</text>
<line x1="230.1" y1="560.3" x2="230.1" y2="568" stroke="#222" stroke-width="0.9" />
<path d="M230.1,569.8 L231.75,566.8 L228.45,566.8 Z" fill="#222" />
<path d="M194.5,596.7 L195.54,597.9 L196.59,596.53 L197.63,595.53 L198.68,597.03 L199.72,597.83 L200.77,596.21 L201.81,595.64 L202.86,597.34 L203.91,597.67 L204.95,595.92 L206,595.84 L207.04,597.6 L208.09,597.43 L209.13,595.7 L210.18,596.11 L211.22,597.79 L212.27,597.13 L213.31,595.55 L214.36,596.43 L215.4,597.89" fill="none" stroke="#d9534f" stroke-width="0.7" />
<path d="M194.5,596.7 L195.54,595.5 L196.59,596.87 L197.63,597.87 L198.68,596.37 L199.72,595.57 L200.77,597.19 L201.81,597.76 L202.86,596.06 L203.91,595.73 L204.95,597.48 L206,597.56 L207.04,595.8 L208.09,595.97 L209.13,597.7 L210.18,597.29 L211.22,595.61 L212.27,596.27 L213.31,597.85 L214.36,596.97 L215.4,595.51" fill="none" stroke="#4a6fb0" stroke-width="0.7" />
<path d="M251.9,596.7 L252.93,597.9 L253.97,596.57 L255,595.51 L256.03,596.95 L257.07,597.86 L258.1,596.33 L259.13,595.58 L260.17,597.19 L261.2,597.77 L262.23,596.1 L263.27,595.69 L264.3,597.41 L265.33,597.63 L266.37,595.9 L267.4,595.85 L268.43,597.59 L269.47,597.46 L270.5,595.73 L271.53,596.05 L272.57,597.74 L273.6,597.24" fill="none" stroke="#d9534f" stroke-width="0.7" />
<path d="M251.9,596.7 L252.93,595.5 L253.97,596.83 L255,597.89 L256.03,596.45 L257.07,595.54 L258.1,597.07 L259.13,597.82 L260.17,596.21 L261.2,595.63 L262.23,597.3 L263.27,597.71 L264.3,595.99 L265.33,595.77 L266.37,597.5 L267.4,597.55 L268.43,595.81 L269.47,595.94 L270.5,597.67 L271.53,597.35 L272.57,595.66 L273.6,596.16" fill="none" stroke="#4a6fb0" stroke-width="0.7" />
<path d="M215.4,596.7 C 219,590 224,589.5 229,589.5 M238,589.5 C 244,589.5 248,590 251.9,596.7" fill="none" stroke="#d9534f" stroke-width="1" />
<path d="M215.4,596.7 C 218,603 222,606 226,605 C 228,604.5 229,607.5 231,607.5 M236,607.5 C 238,607.5 240,604 243,605 C 247,606 249,602 251.9,596.7" fill="none" stroke="#4a6fb0" stroke-width="0.9" />
<rect x="232.2" y="586.6" width="1.4" height="0.9" fill="#f08a7a" />
<rect x="232.2" y="603.2" width="1.4" height="0.9" fill="#7fd0e0" />
<rect x="233.8" y="587.8" width="1.4" height="0.9" fill="#f08a7a" />
<rect x="233.8" y="604.7" width="1.4" height="0.9" fill="#7fd0e0" />
<rect x="232.2" y="589" width="1.4" height="0.9" fill="#f08a7a" />
<rect x="232.2" y="606.2" width="1.4" height="0.9" fill="#7fd0e0" />
<rect x="233.8" y="590.2" width="1.4" height="0.9" fill="#f08a7a" />
<rect x="233.8" y="607.7" width="1.4" height="0.9" fill="#7fd0e0" />
<rect x="232.2" y="591.4" width="1.4" height="0.9" fill="#f08a7a" />
<rect x="232.2" y="609.2" width="1.4" height="0.9" fill="#7fd0e0" />
<rect x="233.8" y="592.6" width="1.4" height="0.9" fill="#f08a7a" />
<rect x="233.8" y="610.7" width="1.4" height="0.9" fill="#7fd0e0" />
<ellipse cx="205.8" cy="588.6" rx="11.3" ry="5.2" fill="#bdb5dc" stroke="#8a80c0" stroke-width="0.8"/>
<ellipse cx="214.5" cy="579.4" rx="10.8" ry="4.9" fill="#2e8766" stroke="#1f5a40" stroke-width="0.6"/>
<text stroke="#111" stroke-width="0.171" x="214.5" y="582.5" font-size="8.6" text-anchor="middle" fill="#111">A3B</text>
<text stroke="#111" stroke-width="0.171" x="204.3" y="591.7" font-size="8.6" text-anchor="middle" fill="#111">ER</text>
<text stroke="#111" stroke-width="0.2" x="245.8" y="580.4" font-size="9.3" textLength="18.2" lengthAdjust="spacingAndGlyphs">BER</text>
<line x1="244.9" y1="582.2" x2="237.98" y2="585.87" stroke="#222" stroke-width="0.8" />
<path d="M236.6,586.6 L239.57,586.65 L238.23,584.12 Z" fill="#222" />
<text stroke="#111" stroke-width="0.2" x="241.4" y="622.5" font-size="9.3" textLength="33.9" lengthAdjust="spacingAndGlyphs">TC-NER</text>
<line x1="241.8" y1="619" x2="235.36" y2="615.37" stroke="#222" stroke-width="0.8" />
<path d="M234,614.6 L235.56,617.12 L236.97,614.63 Z" fill="#222" />
<rect x="300.7" y="502.5" width="479.9" height="119.5" fill="#ecf2fa" rx="10"/>
<line x1="305.5" y1="570.2" x2="322.88" y2="570.2" stroke="#222" stroke-width="0.9" />
<path d="M324.8,570.2 L321.6,568.44 L321.6,571.96 Z" fill="#222" />
<text stroke="#111" stroke-width="0.2" x="346.6" y="514.7" font-size="9.3" textLength="23.9" lengthAdjust="spacingAndGlyphs">DSBs</text>
<path d="M341.7,521.6 A3.4,3.4 0 0 1 348.5,521.6 C348.5,525.6 347.14,531 347.14,533 C347.14,535 348.5,558.25 348.5,580.1 A3.4,3.4 0 0 1 341.7,580.1 C341.7,558.25 343.06,535 343.06,533 C343.06,531 341.7,525.6 341.7,521.6 Z" fill="#1f6d9f" />
<ellipse cx="345.1" cy="533" rx="1.87" ry="2" fill="#ffffff" fill-opacity="0.3"/>
<rect x="342.5" y="549.3" width="6.2" height="16" fill="#f4f7fc" />
<path d="M364.2,543.9 A3.4,3.4 0 0 1 371,543.9 C371,548.75 369.64,555 369.64,557 C369.64,559 371,581.25 371,602.1 A3.4,3.4 0 0 1 364.2,602.1 C364.2,581.25 365.56,559 365.56,557 C365.56,555 364.2,548.75 364.2,543.9 Z" fill="#e8843c" />
<ellipse cx="367.6" cy="557" rx="1.87" ry="2" fill="#ffffff" fill-opacity="0.3"/>
<rect x="364.6" y="571.8" width="6.2" height="17" fill="#f4f7fc" />
<rect x="333.13" y="550.55" width="9.27" height="2.65" fill="#d24a4e" />
<rect x="328.77" y="552.9" width="13.63" height="2.65" fill="#d24a4e" />
<rect x="326.1" y="555.25" width="16.3" height="2.65" fill="#d24a4e" />
<rect x="326.32" y="557.6" width="16.08" height="2.65" fill="#d24a4e" />
<rect x="330.4" y="559.95" width="12" height="2.65" fill="#d24a4e" />
<rect x="331.59" y="562.3" width="10.81" height="2.65" fill="#d24a4e" />
<rect x="326.57" y="557.27" width="1" height="0.45" fill="#f0b8b8" fill-opacity="0.6"/>
<rect x="341.48" y="559.85" width="1" height="0.45" fill="#f0b8b8" fill-opacity="0.6"/>
<rect x="340.78" y="552.3" width="1" height="0.45" fill="#f0b8b8" fill-opacity="0.6"/>
<rect x="333.75" y="554.18" width="1" height="0.45" fill="#f0b8b8" fill-opacity="0.6"/>
<rect x="334.96" y="558.79" width="1" height="0.45" fill="#f0b8b8" fill-opacity="0.6"/>
<rect x="326.31" y="553.76" width="1" height="0.45" fill="#f0b8b8" fill-opacity="0.6"/>
<rect x="330.66" y="563.62" width="1" height="0.45" fill="#f0b8b8" fill-opacity="0.6"/>
<rect x="338.58" y="552.95" width="1" height="0.45" fill="#f0b8b8" fill-opacity="0.6"/>
<rect x="339.09" y="552.66" width="1" height="0.45" fill="#f0b8b8" fill-opacity="0.6"/>
<rect x="336.16" y="552.49" width="1" height="0.45" fill="#f0b8b8" fill-opacity="0.6"/>
<rect x="326.13" y="562.99" width="1" height="0.45" fill="#f0b8b8" fill-opacity="0.6"/>
<rect x="329.51" y="553.74" width="1" height="0.45" fill="#f0b8b8" fill-opacity="0.6"/>
<rect x="342.11" y="563" width="1" height="0.45" fill="#f0b8b8" fill-opacity="0.6"/>
<rect x="330.82" y="564.26" width="1" height="0.45" fill="#f0b8b8" fill-opacity="0.6"/>
<rect x="334.89" y="560.26" width="1" height="0.45" fill="#f0b8b8" fill-opacity="0.6"/>
<rect x="329.44" y="563.97" width="1" height="0.45" fill="#f0b8b8" fill-opacity="0.6"/>
<rect x="337.36" y="564.33" width="1" height="0.45" fill="#f0b8b8" fill-opacity="0.6"/>
<rect x="340.67" y="554.91" width="1" height="0.45" fill="#f0b8b8" fill-opacity="0.6"/>
<rect x="331.99" y="553.04" width="1" height="0.45" fill="#f0b8b8" fill-opacity="0.6"/>
<rect x="328.47" y="551.62" width="1" height="0.45" fill="#f0b8b8" fill-opacity="0.6"/>
<rect x="331.01" y="559.2" width="1" height="0.45" fill="#f0b8b8" fill-opacity="0.6"/>
<rect x="326.16" y="560.26" width="1" height="0.45" fill="#f0b8b8" fill-opacity="0.6"/>
<rect x="331.61" y="555.07" width="1" height="0.45" fill="#f0b8b8" fill-opacity="0.6"/>
<rect x="339.44" y="557.48" width="1" height="0.45" fill="#f0b8b8" fill-opacity="0.6"/>
<rect x="331.25" y="557.49" width="1" height="0.45" fill="#f0b8b8" fill-opacity="0.6"/>
<rect x="337.59" y="551.5" width="1" height="0.45" fill="#f0b8b8" fill-opacity="0.6"/>
<rect x="341.99" y="551.02" width="1" height="0.45" fill="#f0b8b8" fill-opacity="0.6"/>
<rect x="338.32" y="562.61" width="1" height="0.45" fill="#f0b8b8" fill-opacity="0.6"/>
<rect x="326.39" y="561.81" width="1" height="0.45" fill="#f0b8b8" fill-opacity="0.6"/>
<rect x="332.07" y="558.86" width="1" height="0.45" fill="#f0b8b8" fill-opacity="0.6"/>
<rect x="348.6" y="551.05" width="6.81" height="2.57" fill="#d24a4e" />
<rect x="348.6" y="553.32" width="10.47" height="2.57" fill="#d24a4e" />
<rect x="348.6" y="555.58" width="13.62" height="2.57" fill="#d24a4e" />
<rect x="348.6" y="557.85" width="14.13" height="2.57" fill="#d24a4e" />
<rect x="348.6" y="560.12" width="9.36" height="2.57" fill="#d24a4e" />
<rect x="348.6" y="562.38" width="9.13" height="2.57" fill="#d24a4e" />
<rect x="361.89" y="564.01" width="1" height="0.45" fill="#f0b8b8" fill-opacity="0.6"/>
<rect x="353.52" y="556.03" width="1" height="0.45" fill="#f0b8b8" fill-opacity="0.6"/>
<rect x="356.1" y="561.75" width="1" height="0.45" fill="#f0b8b8" fill-opacity="0.6"/>
<rect x="350.15" y="561.38" width="1" height="0.45" fill="#f0b8b8" fill-opacity="0.6"/>
<rect x="360" y="562.89" width="1" height="0.45" fill="#f0b8b8" fill-opacity="0.6"/>
<rect x="349.12" y="564.06" width="1" height="0.45" fill="#f0b8b8" fill-opacity="0.6"/>
<rect x="349.9" y="555.83" width="1" height="0.45" fill="#f0b8b8" fill-opacity="0.6"/>
<rect x="357.33" y="563.69" width="1" height="0.45" fill="#f0b8b8" fill-opacity="0.6"/>
<rect x="353.46" y="563.77" width="1" height="0.45" fill="#f0b8b8" fill-opacity="0.6"/>
<rect x="356.4" y="555.45" width="1" height="0.45" fill="#f0b8b8" fill-opacity="0.6"/>
<rect x="353.13" y="553.61" width="1" height="0.45" fill="#f0b8b8" fill-opacity="0.6"/>
<rect x="349.72" y="553.22" width="1" height="0.45" fill="#f0b8b8" fill-opacity="0.6"/>
<rect x="358.46" y="564.76" width="1" height="0.45" fill="#f0b8b8" fill-opacity="0.6"/>
<rect x="350.91" y="551.86" width="1" height="0.45" fill="#f0b8b8" fill-opacity="0.6"/>
<rect x="362.71" y="558.46" width="1" height="0.45" fill="#f0b8b8" fill-opacity="0.6"/>
<rect x="354.4" y="554.43" width="1" height="0.45" fill="#f0b8b8" fill-opacity="0.6"/>
<rect x="357.09" y="562.44" width="1" height="0.45" fill="#f0b8b8" fill-opacity="0.6"/>
<rect x="355.12" y="556.94" width="1" height="0.45" fill="#f0b8b8" fill-opacity="0.6"/>
<rect x="349.4" y="563.66" width="1" height="0.45" fill="#f0b8b8" fill-opacity="0.6"/>
<rect x="349.07" y="557.91" width="1" height="0.45" fill="#f0b8b8" fill-opacity="0.6"/>
<rect x="360.59" y="552.98" width="1" height="0.45" fill="#f0b8b8" fill-opacity="0.6"/>
<rect x="359.06" y="564.12" width="1" height="0.45" fill="#f0b8b8" fill-opacity="0.6"/>
<rect x="357.61" y="561.92" width="1" height="0.45" fill="#f0b8b8" fill-opacity="0.6"/>
<rect x="350.12" y="557.11" width="1" height="0.45" fill="#f0b8b8" fill-opacity="0.6"/>
<rect x="350.73" y="562.69" width="1" height="0.45" fill="#f0b8b8" fill-opacity="0.6"/>
<rect x="352.82" y="557.36" width="1" height="0.45" fill="#f0b8b8" fill-opacity="0.6"/>
<rect x="362.89" y="562.79" width="1" height="0.45" fill="#f0b8b8" fill-opacity="0.6"/>
<rect x="362.56" y="557.37" width="1" height="0.45" fill="#f0b8b8" fill-opacity="0.6"/>
<rect x="355.58" y="561.12" width="1" height="0.45" fill="#f0b8b8" fill-opacity="0.6"/>
<rect x="355.45" y="555.16" width="1" height="0.45" fill="#f0b8b8" fill-opacity="0.6"/>
<rect x="356.41" y="572.05" width="8.19" height="2.65" fill="#d24a4e" />
<rect x="353.17" y="574.4" width="11.43" height="2.65" fill="#d24a4e" />
<rect x="349.58" y="576.75" width="15.02" height="2.65" fill="#d24a4e" />
<rect x="349.4" y="579.1" width="15.2" height="2.65" fill="#d24a4e" />
<rect x="352.83" y="581.45" width="11.77" height="2.65" fill="#d24a4e" />
<rect x="355.13" y="583.8" width="9.47" height="2.65" fill="#d24a4e" />
<rect x="356.94" y="576.97" width="1" height="0.45" fill="#f0b8b8" fill-opacity="0.6"/>
<rect x="350.66" y="576.04" width="1" height="0.45" fill="#f0b8b8" fill-opacity="0.6"/>
<rect x="361.26" y="584.43" width="1" height="0.45" fill="#f0b8b8" fill-opacity="0.6"/>
<rect x="354.83" y="583.28" width="1" height="0.45" fill="#f0b8b8" fill-opacity="0.6"/>
<rect x="361.16" y="581.99" width="1" height="0.45" fill="#f0b8b8" fill-opacity="0.6"/>
<rect x="359.46" y="582.91" width="1" height="0.45" fill="#f0b8b8" fill-opacity="0.6"/>
<rect x="354.86" y="582.13" width="1" height="0.45" fill="#f0b8b8" fill-opacity="0.6"/>
<rect x="353.6" y="579.05" width="1" height="0.45" fill="#f0b8b8" fill-opacity="0.6"/>
<rect x="361.08" y="581.94" width="1" height="0.45" fill="#f0b8b8" fill-opacity="0.6"/>
<rect x="353.8" y="585.53" width="1" height="0.45" fill="#f0b8b8" fill-opacity="0.6"/>
<rect x="359.24" y="580.39" width="1" height="0.45" fill="#f0b8b8" fill-opacity="0.6"/>
<rect x="349.48" y="579.91" width="1" height="0.45" fill="#f0b8b8" fill-opacity="0.6"/>
<rect x="353.14" y="581.67" width="1" height="0.45" fill="#f0b8b8" fill-opacity="0.6"/>
<rect x="356.38" y="583.72" width="1" height="0.45" fill="#f0b8b8" fill-opacity="0.6"/>
<rect x="359.21" y="583.45" width="1" height="0.45" fill="#f0b8b8" fill-opacity="0.6"/>
<rect x="354.62" y="581.28" width="1" height="0.45" fill="#f0b8b8" fill-opacity="0.6"/>
<rect x="360.59" y="583.88" width="1" height="0.45" fill="#f0b8b8" fill-opacity="0.6"/>
<rect x="354.66" y="584.08" width="1" height="0.45" fill="#f0b8b8" fill-opacity="0.6"/>
<rect x="362.61" y="581.91" width="1" height="0.45" fill="#f0b8b8" fill-opacity="0.6"/>
<rect x="364.23" y="585.69" width="1" height="0.45" fill="#f0b8b8" fill-opacity="0.6"/>
<rect x="357.23" y="579.66" width="1" height="0.45" fill="#f0b8b8" fill-opacity="0.6"/>
<rect x="351.84" y="584" width="1" height="0.45" fill="#f0b8b8" fill-opacity="0.6"/>
<rect x="363.64" y="578.93" width="1" height="0.45" fill="#f0b8b8" fill-opacity="0.6"/>
<rect x="359.88" y="582.35" width="1" height="0.45" fill="#f0b8b8" fill-opacity="0.6"/>
<rect x="360.47" y="574.62" width="1" height="0.45" fill="#f0b8b8" fill-opacity="0.6"/>
<rect x="361.24" y="580.39" width="1" height="0.45" fill="#f0b8b8" fill-opacity="0.6"/>
<rect x="359.48" y="578.13" width="1" height="0.45" fill="#f0b8b8" fill-opacity="0.6"/>
<rect x="358.84" y="583.12" width="1" height="0.45" fill="#f0b8b8" fill-opacity="0.6"/>
<rect x="359.04" y="582.36" width="1" height="0.45" fill="#f0b8b8" fill-opacity="0.6"/>
<rect x="349.72" y="574.46" width="1" height="0.45" fill="#f0b8b8" fill-opacity="0.6"/>
<rect x="370.8" y="572.85" width="8.23" height="2.47" fill="#d24a4e" />
<rect x="370.8" y="575.02" width="12.5" height="2.47" fill="#d24a4e" />
<rect x="370.8" y="577.18" width="14.56" height="2.47" fill="#d24a4e" />
<rect x="370.8" y="579.35" width="14.41" height="2.47" fill="#d24a4e" />
<rect x="370.8" y="581.52" width="10.94" height="2.47" fill="#d24a4e" />
<rect x="370.8" y="583.68" width="8.08" height="2.47" fill="#d24a4e" />
<rect x="377.97" y="575.94" width="1" height="0.45" fill="#f0b8b8" fill-opacity="0.6"/>
<rect x="371.62" y="574.74" width="1" height="0.45" fill="#f0b8b8" fill-opacity="0.6"/>
<rect x="375.62" y="575.36" width="1" height="0.45" fill="#f0b8b8" fill-opacity="0.6"/>
<rect x="373.74" y="573.46" width="1" height="0.45" fill="#f0b8b8" fill-opacity="0.6"/>
<rect x="377.87" y="577.94" width="1" height="0.45" fill="#f0b8b8" fill-opacity="0.6"/>
<rect x="380.1" y="580.67" width="1" height="0.45" fill="#f0b8b8" fill-opacity="0.6"/>
<rect x="374.42" y="584.74" width="1" height="0.45" fill="#f0b8b8" fill-opacity="0.6"/>
<rect x="370.81" y="578.27" width="1" height="0.45" fill="#f0b8b8" fill-opacity="0.6"/>
<rect x="375.03" y="578.33" width="1" height="0.45" fill="#f0b8b8" fill-opacity="0.6"/>
<rect x="372.55" y="583.81" width="1" height="0.45" fill="#f0b8b8" fill-opacity="0.6"/>
<rect x="376.48" y="573.47" width="1" height="0.45" fill="#f0b8b8" fill-opacity="0.6"/>
<rect x="380.13" y="574.23" width="1" height="0.45" fill="#f0b8b8" fill-opacity="0.6"/>
<rect x="379.09" y="577.41" width="1" height="0.45" fill="#f0b8b8" fill-opacity="0.6"/>
<rect x="379.63" y="585.46" width="1" height="0.45" fill="#f0b8b8" fill-opacity="0.6"/>
<rect x="383.24" y="578.45" width="1" height="0.45" fill="#f0b8b8" fill-opacity="0.6"/>
<rect x="383.16" y="581.35" width="1" height="0.45" fill="#f0b8b8" fill-opacity="0.6"/>
<rect x="376.42" y="574.85" width="1" height="0.45" fill="#f0b8b8" fill-opacity="0.6"/>
<rect x="379.86" y="580.33" width="1" height="0.45" fill="#f0b8b8" fill-opacity="0.6"/>
<rect x="385.35" y="585.58" width="1" height="0.45" fill="#f0b8b8" fill-opacity="0.6"/>
<rect x="380.05" y="577.56" width="1" height="0.45" fill="#f0b8b8" fill-opacity="0.6"/>
<rect x="384.38" y="573.01" width="1" height="0.45" fill="#f0b8b8" fill-opacity="0.6"/>
<rect x="372.44" y="580.36" width="1" height="0.45" fill="#f0b8b8" fill-opacity="0.6"/>
<rect x="380.15" y="574.83" width="1" height="0.45" fill="#f0b8b8" fill-opacity="0.6"/>
<rect x="380.37" y="584.59" width="1" height="0.45" fill="#f0b8b8" fill-opacity="0.6"/>
<rect x="376.51" y="578.61" width="1" height="0.45" fill="#f0b8b8" fill-opacity="0.6"/>
<rect x="374.24" y="576.79" width="1" height="0.45" fill="#f0b8b8" fill-opacity="0.6"/>
<rect x="385.58" y="577.94" width="1" height="0.45" fill="#f0b8b8" fill-opacity="0.6"/>
<rect x="385.41" y="584.88" width="1" height="0.45" fill="#f0b8b8" fill-opacity="0.6"/>
<rect x="379.86" y="576.38" width="1" height="0.45" fill="#f0b8b8" fill-opacity="0.6"/>
<rect x="385.71" y="579.45" width="1" height="0.45" fill="#f0b8b8" fill-opacity="0.6"/>
<line x1="387.7" y1="570.2" x2="405.08" y2="570.2" stroke="#222" stroke-width="0.9" />
<path d="M407,570.2 L403.8,568.44 L403.8,571.96 Z" fill="#222" />
<path d="M420.1,528.6 A3.4,3.4 0 0 1 426.9,528.6 C426.9,535.1 425.54,543 425.54,545 C425.54,547 426.9,572.4 426.9,596.4 A3.4,3.4 0 0 1 420.1,596.4 C420.1,572.4 421.46,547 421.46,545 C421.46,543 420.1,535.1 420.1,528.6 Z" fill="#1f6d9f" />
<ellipse cx="423.5" cy="545" rx="1.87" ry="2" fill="#ffffff" fill-opacity="0.3"/>
<path d="M419.6,562.5 L427.4,562.5 L427.4,595 A3.9,3.9 0 0 1 419.6,595 Z" fill="#e8843c" />
<path d="M419.6,562.5 C 420.5,570 421.5,575 421.9,578 C 421.5,582 419.6,588 419.6,592 M427.4,562.5 C 426.5,570 425.5,575 425.1,578 C 425.5,582 427.4,588 427.4,592" fill="none" stroke="#e8843c" stroke-width="0.1" />
<ellipse cx="423.5" cy="578" rx="1.7" ry="1.6" fill="#ffffff" fill-opacity="0.35"/>
<text stroke="#111" stroke-width="0.2" x="386.4" y="613.2" font-size="9.3" textLength="54.3" lengthAdjust="spacingAndGlyphs">Translocation</text>
<line x1="440.3" y1="570.2" x2="457.58" y2="570.2" stroke="#222" stroke-width="0.9" />
<path d="M459.5,570.2 L456.3,568.44 L456.3,571.96 Z" fill="#222" />
<text stroke="#111" stroke-width="0.2" x="501.4" y="514.6" font-size="9.3" textLength="29" lengthAdjust="spacingAndGlyphs">Mitosis</text>
<path d="M473.3,561.1 L475.03,558.72 L476.75,558.6 L478.48,558.6 L480.2,558.6 L481.93,558.6 L483.65,558.6 L485.38,558.6 L487.1,558.75 L488.83,558.93 L490.55,559.09 L492.28,559.23 L494,559.34 L495.73,559.42 L497.45,559.44 L499.18,559.36 L500.9,559.26 L502.63,559.12 L504.35,558.97 L506.08,558.79 L507.8,558.6 L509.53,558.6 L511.25,558.6 L512.98,558.6 L514.7,558.6 L514.7,563.6 L512.98,563.6 L511.25,563.6 L509.53,563.6 L507.8,563.6 L506.08,563.41 L504.35,563.23 L502.63,563.08 L500.9,562.94 L499.18,562.84 L497.45,562.76 L495.73,562.78 L494,562.86 L492.28,562.97 L490.55,563.11 L488.83,563.27 L487.1,563.45 L485.38,563.6 L483.65,563.6 L481.93,563.6 L480.2,563.6 L478.48,563.6 L476.75,563.6 L475.03,563.48 L473.3,561.1 Z" fill="#1f6d9f" />
<path d="M514.7,558.6 L516.4,558.6 L518.09,558.6 L519.79,558.6 L521.48,558.6 L523.18,558.79 L524.88,558.96 L526.57,559.11 L528.27,559.25 L529.96,559.36 L531.66,559.43 L533.35,559.43 L535.05,559.36 L536.75,559.25 L538.44,559.11 L540.14,558.96 L541.83,558.79 L543.53,558.6 L545.23,558.6 L546.92,558.6 L548.62,558.6 L550.31,558.6 L552.01,558.63 L553.7,559.06 L555.4,561.1 L555.4,561.1 L553.7,563.14 L552.01,563.57 L550.31,563.6 L548.62,563.6 L546.92,563.6 L545.23,563.6 L543.53,563.6 L541.83,563.41 L540.14,563.24 L538.44,563.09 L536.75,562.95 L535.05,562.84 L533.35,562.77 L531.66,562.77 L529.96,562.84 L528.27,562.95 L526.57,563.09 L524.88,563.24 L523.18,563.41 L521.48,563.6 L519.79,563.6 L518.09,563.6 L516.4,563.6 L514.7,563.6 Z" fill="#e8843c" />
<ellipse cx="496.8" cy="561.1" rx="2" ry="1.3" fill="#ffffff" fill-opacity="0.3"/>
<ellipse cx="532.5" cy="561.1" rx="2" ry="1.3" fill="#ffffff" fill-opacity="0.3"/>
<path d="M475.2,572.3 L476.9,569.93 L478.6,569.8 L480.3,569.8 L482,569.8 L483.7,569.8 L485.4,569.8 L487.1,569.87 L488.8,570.05 L490.5,570.22 L492.2,570.37 L493.9,570.49 L495.6,570.59 L497.3,570.65 L499,570.61 L500.7,570.52 L502.4,570.4 L504.1,570.25 L505.8,570.09 L507.5,569.91 L509.2,569.8 L510.9,569.8 L512.6,569.8 L514.3,569.8 L516,569.8 L516,574.8 L514.3,574.8 L512.6,574.8 L510.9,574.8 L509.2,574.8 L507.5,574.69 L505.8,574.51 L504.1,574.35 L502.4,574.2 L500.7,574.08 L499,573.99 L497.3,573.95 L495.6,574.01 L493.9,574.11 L492.2,574.23 L490.5,574.38 L488.8,574.55 L487.1,574.73 L485.4,574.8 L483.7,574.8 L482,574.8 L480.3,574.8 L478.6,574.8 L476.9,574.67 L475.2,572.3 Z" fill="#1f6d9f" />
<path d="M516,569.8 L517.73,569.8 L519.45,569.8 L521.17,569.8 L522.9,569.85 L524.62,570.03 L526.35,570.2 L528.08,570.36 L529.8,570.48 L531.52,570.59 L533.25,570.65 L534.98,570.61 L536.7,570.52 L538.42,570.4 L540.15,570.25 L541.88,570.09 L543.6,569.9 L545.32,569.8 L547.05,569.8 L548.77,569.8 L550.5,569.8 L552.23,569.8 L553.95,569.82 L555.67,570.24 L557.4,572.3 L557.4,572.3 L555.67,574.36 L553.95,574.78 L552.23,574.8 L550.5,574.8 L548.77,574.8 L547.05,574.8 L545.32,574.8 L543.6,574.7 L541.88,574.51 L540.15,574.35 L538.42,574.2 L536.7,574.08 L534.98,573.99 L533.25,573.95 L531.52,574.01 L529.8,574.12 L528.08,574.24 L526.35,574.4 L524.62,574.57 L522.9,574.75 L521.17,574.8 L519.45,574.8 L517.73,574.8 L516,574.8 Z" fill="#e8843c" />
<ellipse cx="497.5" cy="572.3" rx="2" ry="1.3" fill="#ffffff" fill-opacity="0.3"/>
<ellipse cx="533.5" cy="572.3" rx="2" ry="1.3" fill="#ffffff" fill-opacity="0.3"/>
<rect x="514.7" y="521.4" width="10.2" height="10.8" fill="#c9c9c9" rx="1.5"/>
<rect x="514.7" y="608" width="8.3" height="12.7" fill="#c9c9c9" rx="1.5"/>
<path d="M515.3,524 C 505,532 499,545 498.8,560" fill="none" stroke="#1a1a1a" stroke-width="2.6" stroke-dasharray="3.4 2.6" stroke-linecap="butt"/>
<path d="M524.9,524 C 533,532 536.3,545 536.3,572.3" fill="none" stroke="#1a1a1a" stroke-width="2.6" stroke-dasharray="3.4 2.6" stroke-linecap="butt"/>
<path d="M497.9,574.9 C 499,590 506,604 516,611.8" fill="none" stroke="#1a1a1a" stroke-width="2.6" stroke-dasharray="3.4 2.6" stroke-linecap="butt"/>
<path d="M531.2,562.1 C 523,572 517,588 517.8,609" fill="none" stroke="#1a1a1a" stroke-width="2.6" stroke-dasharray="3.4 2.6" stroke-linecap="butt"/>
<line x1="568.7" y1="570.1" x2="586.98" y2="570.1" stroke="#222" stroke-width="0.9" />
<path d="M588.9,570.1 L585.7,568.34 L585.7,571.86 Z" fill="#222" />
<text stroke="#111" stroke-width="0.2" x="572.2" y="515.8" font-size="9.3" textLength="77.5" lengthAdjust="spacingAndGlyphs">Chromosome bridge</text>
<path d="M621.15,521.3 L624.67,521.41 L627.58,521.76 L628.03,522.33 L628.79,523.12 L630.13,524.13 L630.37,525.36 L632.08,526.8 L632.48,528.44 L632.87,530.28 L634.35,532.3 L634.98,534.49 L634.01,536.85 L635.39,539.36 L635.33,542.02 L636.87,544.8 L636.9,547.7 L635.73,550.69 L635.24,553.78 L634.44,556.93 L635.27,560.14 L633.29,563.39 L633.09,566.66 L632.85,569.94 L633.93,573.21 L634.58,576.46 L635.5,579.67 L634.97,582.82 L636.65,585.91 L636.03,588.9 L636.14,591.8 L635.44,594.58 L634.97,597.24 L634.94,599.75 L634.33,602.11 L633.6,604.3 L633.69,606.32 L632.75,608.16 L631.02,609.8 L630.61,611.24 L630.09,612.47 L629.93,613.48 L628.74,614.27 L626.79,614.84 L624.13,615.19 L621.8,615.3 L617.73,615.19 L615.76,614.84 L614.18,614.27 L613.19,613.48 L612.46,612.47 L610.8,611.24 L610.95,609.8 L610.21,608.16 L608.72,606.32 L609.3,604.3 L608.57,602.11 L607.12,599.75 L608.05,597.24 L606.26,594.58 L606.17,591.8 L606.33,588.9 L606.8,585.91 L606.44,582.82 L606.8,579.67 L608.85,576.46 L608.97,573.21 L609.61,569.94 L609.71,566.66 L609.24,563.39 L608.83,560.14 L607.39,556.93 L606.38,553.78 L607.19,550.69 L606.7,547.7 L605.94,544.8 L606.34,542.02 L606.97,539.36 L608.56,536.85 L607.8,534.49 L607.89,532.3 L608.46,530.28 L609.65,528.44 L611.56,526.8 L610.93,525.36 L612.94,524.13 L613.16,523.12 L613.74,522.33 L615.51,521.76 L618.26,521.41 Z" fill="#c6cad4" stroke="#b4b8c2" stroke-width="0.5" />
<path d="M619,562 C 614,560 610,558.5 604.5,559 L611,562.5 C 607,563 604,564.5 601.5,566 L609.5,566.5 C 606,568 603,569.5 600,571.5 L609,571 C 606,573 604,575.5 603,578 L610.5,575.5 C 609,577 608.5,579 608.5,581 C 612,579 616,578 619,578 Z" fill="#d04a4c" />
<path d="M624,562 C 629,560 633,558.5 638.5,559.5 L632,563 C 636,563.5 639,565 641.5,566.5 L633.5,567 C 637,568.5 640,570 643,572 L634,571.5 C 637,573.5 639,576 640,578.5 L632.5,576 C 634,577.5 634.5,579.5 634.5,581.5 C 631,579.5 627,578 624,578 Z" fill="#d04a4c" />
<line x1="614" y1="536" x2="628.7" y2="603.3" stroke="#4656a8" stroke-width="2" />
<line x1="628.7" y1="535.3" x2="614" y2="604" stroke="#e88a2a" stroke-width="2" />
<circle cx="617.3" cy="549.3" r="3.4" fill="#8aa6d6"/><circle cx="617.3" cy="549.3" r="1.3" fill="#ffffff"/>
<circle cx="625.3" cy="546.7" r="3.4" fill="#8aa6d6"/><circle cx="625.3" cy="546.7" r="1.3" fill="#ffffff"/>
<circle cx="617.3" cy="592" r="3.4" fill="#8aa6d6"/><circle cx="617.3" cy="592" r="1.3" fill="#ffffff"/>
<circle cx="626" cy="594.7" r="3.4" fill="#8aa6d6"/><circle cx="626" cy="594.7" r="1.3" fill="#ffffff"/>
<line x1="652" y1="570" x2="670.48" y2="570" stroke="#222" stroke-width="0.9" />
<path d="M672.4,570 L669.2,568.24 L669.2,571.76 Z" fill="#222" />
<text stroke="#111" stroke-width="0.2" x="694.5" y="524" font-size="9.3" textLength="61.8" lengthAdjust="spacingAndGlyphs">Daughter cell 1</text>
<text stroke="#111" stroke-width="0.2" x="652.4" y="616.1" font-size="9.3" textLength="61.4" lengthAdjust="spacingAndGlyphs">Daughter cell 2</text>
<text stroke="#111" stroke-width="0.2" x="733.1" y="565.9" font-size="9.3" textLength="28.7" lengthAdjust="spacingAndGlyphs">ecDNA</text>
<ellipse cx="702.5" cy="547.5" rx="18.4" ry="17.3" fill="#f9e7b2" stroke="#d2a868" stroke-width="0.9"/>
<ellipse cx="737.8" cy="591.3" rx="18.4" ry="17.3" fill="#f9e7b2" stroke="#d2a868" stroke-width="0.9"/>
<path d="M707.6,538.3 C 702,538 696,538.5 694.9,541 C 694.5,544 696,548 697.5,551" fill="none" stroke="#4656a8" stroke-width="2.8" />
<path d="M711.9,545.7 L711.9,555.8 L706,555.8" fill="none" stroke="#e8843c" stroke-width="2.4" />
<circle cx="694.9" cy="541.5" r="2.2" fill="#8aa6d6"/><circle cx="694.9" cy="541.5" r="0.8" fill="#fff"/>
<circle cx="710.3" cy="556.3" r="2.2" fill="#8aa6d6"/><circle cx="710.3" cy="556.3" r="0.8" fill="#fff"/>
<circle cx="690.6" cy="547.8" r="1.9" fill="#3a8ad0"/><circle cx="716.7" cy="548.4" r="1.9" fill="#e8843c"/>
<path d="M744.8,588.8 C 745,594 745,599 743.8,600.5 C 741,601.5 737,601 734.2,601" fill="none" stroke="#4656a8" stroke-width="2.8" />
<path d="M735.3,582.9 L730,582.4 L728.4,593" fill="none" stroke="#e8843c" stroke-width="2.4" />
<circle cx="729.6" cy="582.5" r="2.2" fill="#8aa6d6"/><circle cx="729.6" cy="582.5" r="0.8" fill="#fff"/>
<circle cx="742" cy="601" r="2.2" fill="#8aa6d6"/><circle cx="742" cy="601" r="0.8" fill="#fff"/>
<circle cx="723.6" cy="588.8" r="1.9" fill="#e8843c"/><circle cx="750.1" cy="589.8" r="1.9" fill="#3a8ad0"/>
<path d="M745.4,553.2 C 738,549.5 730,548 723.5,548.4" fill="none" stroke="#222" stroke-width="0.9" />
<path d="M722,548.4 L725.5,546.4 L725.3,550.3 Z" fill="#222" />
<path d="M753.3,570.7 L747.3,583.8" fill="none" stroke="#222" stroke-width="0.9" />
<path d="M746.4,585.6 L745.6,581.6 L749.2,583.2 Z" fill="#222" />
<text stroke="#111" stroke-width="0.2" x="10" y="656.3" font-size="12.8" font-weight="bold">g</text>
<rect x="119.4" y="668.8" width="70.8" height="154.8" fill="#fdf0c9" />
<line x1="48.7" y1="668.9" x2="48.7" y2="824.1" stroke="#222" stroke-width="1.1" />
<line x1="44.7" y1="823.6" x2="48.7" y2="823.6" stroke="#222" stroke-width="1" />
<text stroke="#111" stroke-width="0.179" x="40.4" y="826.8" font-size="8.8" text-anchor="end">0</text>
<line x1="44.7" y1="784.9" x2="48.7" y2="784.9" stroke="#222" stroke-width="1" />
<text stroke="#111" stroke-width="0.179" x="40.4" y="788.1" font-size="8.8" text-anchor="end">0.5</text>
<line x1="44.7" y1="746.2" x2="48.7" y2="746.2" stroke="#222" stroke-width="1" />
<text stroke="#111" stroke-width="0.179" x="40.4" y="749.4" font-size="8.8" text-anchor="end">1.0</text>
<line x1="44.7" y1="707.5" x2="48.7" y2="707.5" stroke="#222" stroke-width="1" />
<text stroke="#111" stroke-width="0.179" x="40.4" y="710.7" font-size="8.8" text-anchor="end">1.5</text>
<line x1="44.7" y1="668.8" x2="48.7" y2="668.8" stroke="#222" stroke-width="1" />
<text stroke="#111" stroke-width="0.179" x="40.4" y="672" font-size="8.8" text-anchor="end">2.0</text>
<line x1="46.2" y1="823.9" x2="190.2" y2="823.9" stroke="#222" stroke-width="1.2" />
<text stroke="#111" stroke-width="0.2" x="17.6" y="746" font-size="9.3" text-anchor="middle" transform="rotate(-90 17.6 746)">Number of R-loops (per Mb)</text>
<text stroke="#111" stroke-width="0.2" x="81.7" y="663" font-size="9.3" text-anchor="middle" textLength="31.4" lengthAdjust="spacingAndGlyphs">Primary</text>
<line x1="63.3" y1="666.9" x2="100.8" y2="666.9" stroke="#333" stroke-width="1" />
<text stroke="#111" stroke-width="0.2" x="155.2" y="662.7" font-size="9.3" text-anchor="middle" textLength="43.6" lengthAdjust="spacingAndGlyphs">Metastatic</text>
<line x1="132.4" y1="667.2" x2="177.9" y2="667.2" stroke="#333" stroke-width="1" />
<text stroke="#111" stroke-width="0.2" x="81.7" y="677.5" font-size="9.3" text-anchor="middle" textLength="41" lengthAdjust="spacingAndGlyphs">ES = 0.10</text>
<text stroke="#111" stroke-width="0.2" x="155.2" y="677.8" font-size="9.3" text-anchor="middle" textLength="41" lengthAdjust="spacingAndGlyphs">ES = 0.08</text>
<text stroke="#111" stroke-width="0.2" x="52.8" y="688.7" font-size="9.3"><tspan font-style="italic">P</tspan> = 1.7 × 10<tspan font-size="6" dy="-4">−6</tspan></text>
<text stroke="#111" stroke-width="0.2" x="126.4" y="687.8" font-size="9.3"><tspan font-style="italic">P</tspan> = 1.6 × 10<tspan font-size="6" dy="-4">−7</tspan></text>
<circle cx="69.42" cy="821.76" r="1.0" fill="#b0b0b0"/>
<circle cx="70.4" cy="820.74" r="1.0" fill="#b0b0b0"/>
<circle cx="61.6" cy="818.76" r="1.0" fill="#b0b0b0"/>
<circle cx="74.21" cy="823.5" r="1.0" fill="#b0b0b0"/>
<circle cx="64.36" cy="821.59" r="1.0" fill="#b0b0b0"/>
<circle cx="68.21" cy="815.89" r="1.0" fill="#b0b0b0"/>
<circle cx="68.31" cy="817.13" r="1.0" fill="#b0b0b0"/>
<circle cx="62.99" cy="818.65" r="1.0" fill="#b0b0b0"/>
<circle cx="74.71" cy="818.69" r="1.0" fill="#b0b0b0"/>
<circle cx="72.64" cy="819.55" r="1.0" fill="#b0b0b0"/>
<circle cx="61.58" cy="818.4" r="1.0" fill="#b0b0b0"/>
<circle cx="70.19" cy="817.73" r="1.0" fill="#b0b0b0"/>
<circle cx="61.04" cy="821.27" r="1.0" fill="#b0b0b0"/>
<circle cx="68.25" cy="816.9" r="1.0" fill="#b0b0b0"/>
<circle cx="74.89" cy="818.04" r="1.0" fill="#b0b0b0"/>
<circle cx="75.58" cy="818.07" r="1.0" fill="#b0b0b0"/>
<circle cx="73.62" cy="820.54" r="1.0" fill="#b0b0b0"/>
<circle cx="75.82" cy="820.16" r="1.0" fill="#b0b0b0"/>
<circle cx="62.12" cy="816.8" r="1.0" fill="#b0b0b0"/>
<circle cx="64.08" cy="822.55" r="1.0" fill="#b0b0b0"/>
<circle cx="67.66" cy="816.13" r="1.0" fill="#b0b0b0"/>
<circle cx="65.45" cy="818.75" r="1.0" fill="#b0b0b0"/>
<circle cx="66.84" cy="819.67" r="1.0" fill="#b0b0b0"/>
<circle cx="70.09" cy="820.88" r="1.0" fill="#b0b0b0"/>
<circle cx="75.3" cy="819.08" r="1.0" fill="#b0b0b0"/>
<circle cx="75.71" cy="818.32" r="1.0" fill="#b0b0b0"/>
<circle cx="76.72" cy="816.97" r="1.0" fill="#b0b0b0"/>
<circle cx="63.2" cy="818.4" r="1.0" fill="#b0b0b0"/>
<circle cx="76.29" cy="816.94" r="1.0" fill="#b0b0b0"/>
<circle cx="69.83" cy="816.6" r="1.0" fill="#b0b0b0"/>
<circle cx="63.98" cy="818.08" r="1.0" fill="#b0b0b0"/>
<circle cx="69.9" cy="817.16" r="1.0" fill="#b0b0b0"/>
<circle cx="61.57" cy="821.39" r="1.0" fill="#b0b0b0"/>
<circle cx="76.7" cy="816.99" r="1.0" fill="#b0b0b0"/>
<circle cx="73.61" cy="822.91" r="1.0" fill="#b0b0b0"/>
<circle cx="62.99" cy="820.42" r="1.0" fill="#b0b0b0"/>
<circle cx="73.09" cy="821.33" r="1.0" fill="#b0b0b0"/>
<circle cx="61.25" cy="816.84" r="1.0" fill="#b0b0b0"/>
<circle cx="61.26" cy="818.84" r="1.0" fill="#b0b0b0"/>
<circle cx="65.94" cy="818.04" r="1.0" fill="#b0b0b0"/>
<circle cx="76.55" cy="798.81" r="1.0" fill="#b0b0b0"/>
<circle cx="76.85" cy="806.08" r="1.0" fill="#b0b0b0"/>
<circle cx="61.79" cy="809.87" r="1.0" fill="#b0b0b0"/>
<circle cx="61.04" cy="804.25" r="1.0" fill="#b0b0b0"/>
<circle cx="67.2" cy="812.04" r="1.0" fill="#b0b0b0"/>
<circle cx="63.08" cy="804.05" r="1.0" fill="#b0b0b0"/>
<circle cx="74.71" cy="815.04" r="1.0" fill="#b0b0b0"/>
<circle cx="76.19" cy="809.79" r="1.0" fill="#b0b0b0"/>
<circle cx="66.7" cy="798.51" r="1.0" fill="#b0b0b0"/>
<circle cx="69.03" cy="806.95" r="1.0" fill="#b0b0b0"/>
<circle cx="70.26" cy="803.4" r="1.0" fill="#b0b0b0"/>
<circle cx="70.66" cy="805.04" r="1.0" fill="#b0b0b0"/>
<circle cx="68.81" cy="797.66" r="1.0" fill="#b0b0b0"/>
<circle cx="72.3" cy="807.52" r="1.0" fill="#b0b0b0"/>
<circle cx="65.45" cy="811.26" r="1.0" fill="#b0b0b0"/>
<circle cx="69.05" cy="796.94" r="1.0" fill="#b0b0b0"/>
<circle cx="60.72" cy="805.25" r="1.0" fill="#b0b0b0"/>
<circle cx="70.01" cy="807.83" r="1.0" fill="#b0b0b0"/>
<circle cx="70.59" cy="815.47" r="1.0" fill="#b0b0b0"/>
<circle cx="61.51" cy="803.63" r="1.0" fill="#b0b0b0"/>
<circle cx="68.15" cy="803.72" r="1.0" fill="#b0b0b0"/>
<circle cx="66.29" cy="802.72" r="1.0" fill="#b0b0b0"/>
<circle cx="72.59" cy="802.18" r="1.0" fill="#b0b0b0"/>
<circle cx="61.52" cy="815.43" r="1.0" fill="#b0b0b0"/>
<circle cx="76.27" cy="802.78" r="1.0" fill="#b0b0b0"/>
<circle cx="67.99" cy="811" r="1.0" fill="#b0b0b0"/>
<circle cx="65.76" cy="804.39" r="1.0" fill="#b0b0b0"/>
<circle cx="65.64" cy="808.82" r="1.0" fill="#b0b0b0"/>
<circle cx="70.26" cy="808.72" r="1.0" fill="#b0b0b0"/>
<circle cx="66.69" cy="810.05" r="1.0" fill="#b0b0b0"/>
<circle cx="60.97" cy="800.92" r="1.0" fill="#b0b0b0"/>
<circle cx="72.54" cy="804.84" r="1.0" fill="#b0b0b0"/>
<circle cx="64.17" cy="809.86" r="1.0" fill="#b0b0b0"/>
<circle cx="64.43" cy="800.31" r="1.0" fill="#b0b0b0"/>
<circle cx="67.64" cy="812.23" r="1.0" fill="#b0b0b0"/>
<circle cx="62.19" cy="802.35" r="1.0" fill="#b0b0b0"/>
<circle cx="65.98" cy="809.63" r="1.0" fill="#b0b0b0"/>
<circle cx="67.69" cy="799.73" r="1.0" fill="#b0b0b0"/>
<circle cx="63.3" cy="799.31" r="1.0" fill="#b0b0b0"/>
<circle cx="71.15" cy="809.34" r="1.0" fill="#b0b0b0"/>
<circle cx="67.9" cy="798.74" r="1.0" fill="#b0b0b0"/>
<circle cx="62.51" cy="811.51" r="1.0" fill="#b0b0b0"/>
<circle cx="63.65" cy="805.61" r="1.0" fill="#b0b0b0"/>
<circle cx="74.23" cy="800.25" r="1.0" fill="#b0b0b0"/>
<circle cx="65.08" cy="812.31" r="1.0" fill="#b0b0b0"/>
<circle cx="71.02" cy="800.24" r="1.0" fill="#b0b0b0"/>
<circle cx="66.17" cy="800.26" r="1.0" fill="#b0b0b0"/>
<circle cx="65.3" cy="813.35" r="1.0" fill="#b0b0b0"/>
<circle cx="64.96" cy="800.5" r="1.0" fill="#b0b0b0"/>
<circle cx="67.34" cy="809.16" r="1.0" fill="#b0b0b0"/>
<circle cx="67.22" cy="807.74" r="1.0" fill="#b0b0b0"/>
<circle cx="63.08" cy="798.05" r="1.0" fill="#b0b0b0"/>
<circle cx="75.94" cy="815.77" r="1.0" fill="#b0b0b0"/>
<circle cx="76.66" cy="798.83" r="1.0" fill="#b0b0b0"/>
<circle cx="76.06" cy="807.46" r="1.0" fill="#b0b0b0"/>
<circle cx="64.16" cy="797.92" r="1.0" fill="#b0b0b0"/>
<circle cx="74.2" cy="801.43" r="1.0" fill="#b0b0b0"/>
<circle cx="69.01" cy="803.03" r="1.0" fill="#b0b0b0"/>
<circle cx="66.1" cy="810.27" r="1.0" fill="#b0b0b0"/>
<circle cx="61.64" cy="811.46" r="1.0" fill="#b0b0b0"/>
<circle cx="65.22" cy="774.64" r="1.0" fill="#b0b0b0"/>
<circle cx="61.27" cy="766.41" r="1.0" fill="#b0b0b0"/>
<circle cx="71.87" cy="762.94" r="1.0" fill="#b0b0b0"/>
<circle cx="75.18" cy="762.19" r="1.0" fill="#b0b0b0"/>
<circle cx="69.96" cy="763.09" r="1.0" fill="#b0b0b0"/>
<circle cx="72.71" cy="796.02" r="1.0" fill="#b0b0b0"/>
<circle cx="65.43" cy="790.13" r="1.0" fill="#b0b0b0"/>
<circle cx="69.11" cy="771.88" r="1.0" fill="#b0b0b0"/>
<circle cx="75.87" cy="781.14" r="1.0" fill="#b0b0b0"/>
<circle cx="66.11" cy="773.77" r="1.0" fill="#b0b0b0"/>
<circle cx="74.61" cy="787.13" r="1.0" fill="#b0b0b0"/>
<circle cx="73.31" cy="778.78" r="1.0" fill="#b0b0b0"/>
<circle cx="63.75" cy="783.44" r="1.0" fill="#b0b0b0"/>
<circle cx="73.88" cy="776.65" r="1.0" fill="#b0b0b0"/>
<circle cx="73.47" cy="790.15" r="1.0" fill="#b0b0b0"/>
<circle cx="73.7" cy="762.26" r="1.0" fill="#b0b0b0"/>
<circle cx="60.65" cy="765.92" r="1.0" fill="#b0b0b0"/>
<circle cx="74.62" cy="773.16" r="1.0" fill="#b0b0b0"/>
<circle cx="64.96" cy="794.65" r="1.0" fill="#b0b0b0"/>
<circle cx="69.15" cy="786.53" r="1.0" fill="#b0b0b0"/>
<circle cx="68.26" cy="780.8" r="1.0" fill="#b0b0b0"/>
<circle cx="60.56" cy="767.66" r="1.0" fill="#b0b0b0"/>
<circle cx="62.6" cy="794.47" r="1.0" fill="#b0b0b0"/>
<circle cx="61.65" cy="791.88" r="1.0" fill="#b0b0b0"/>
<circle cx="74.49" cy="760.3" r="1.0" fill="#b0b0b0"/>
<circle cx="68.73" cy="793.31" r="1.0" fill="#b0b0b0"/>
<circle cx="65.67" cy="784.77" r="1.0" fill="#b0b0b0"/>
<circle cx="71.1" cy="783.46" r="1.0" fill="#b0b0b0"/>
<circle cx="66.43" cy="774.72" r="1.0" fill="#b0b0b0"/>
<circle cx="65.9" cy="789.41" r="1.0" fill="#b0b0b0"/>
<circle cx="69.61" cy="791.91" r="1.0" fill="#b0b0b0"/>
<circle cx="66.74" cy="769.91" r="1.0" fill="#b0b0b0"/>
<circle cx="63.45" cy="793.54" r="1.0" fill="#b0b0b0"/>
<circle cx="70.41" cy="782.64" r="1.0" fill="#b0b0b0"/>
<circle cx="66.74" cy="767.43" r="1.0" fill="#b0b0b0"/>
<circle cx="70.71" cy="702.31" r="1.0" fill="#b0b0b0"/>
<circle cx="66.62" cy="728.63" r="1.0" fill="#b0b0b0"/>
<circle cx="72.02" cy="724.03" r="1.0" fill="#b0b0b0"/>
<circle cx="71.87" cy="729.41" r="1.0" fill="#b0b0b0"/>
<circle cx="64.53" cy="726.54" r="1.0" fill="#b0b0b0"/>
<circle cx="71.89" cy="721.2" r="1.0" fill="#b0b0b0"/>
<circle cx="67.47" cy="754.26" r="1.0" fill="#b0b0b0"/>
<circle cx="74.9" cy="729.03" r="1.0" fill="#b0b0b0"/>
<circle cx="66.65" cy="692.67" r="1.0" fill="#b0b0b0"/>
<circle cx="73.45" cy="695.42" r="1.0" fill="#b0b0b0"/>
<circle cx="68.11" cy="740.69" r="1.0" fill="#b0b0b0"/>
<circle cx="73.82" cy="750.59" r="1.0" fill="#b0b0b0"/>
<circle cx="75.03" cy="712.2" r="1.0" fill="#b0b0b0"/>
<circle cx="71.44" cy="702.93" r="1.0" fill="#b0b0b0"/>
<circle cx="69.74" cy="707.11" r="1.0" fill="#b0b0b0"/>
<circle cx="70.13" cy="752.01" r="1.0" fill="#b0b0b0"/>
<circle cx="62.88" cy="759.01" r="1.0" fill="#b0b0b0"/>
<circle cx="61.25" cy="704.22" r="1.0" fill="#b0b0b0"/>
<circle cx="62.15" cy="752.82" r="1.0" fill="#b0b0b0"/>
<circle cx="63.46" cy="696.66" r="1.0" fill="#b0b0b0"/>
<circle cx="108.08" cy="823.39" r="1.0" fill="#b0b0b0"/>
<circle cx="108.12" cy="822.52" r="1.0" fill="#b0b0b0"/>
<circle cx="107.99" cy="817.6" r="1.0" fill="#b0b0b0"/>
<circle cx="103.79" cy="815.12" r="1.0" fill="#b0b0b0"/>
<circle cx="94.92" cy="816.49" r="1.0" fill="#b0b0b0"/>
<circle cx="102.69" cy="816.77" r="1.0" fill="#b0b0b0"/>
<circle cx="96.07" cy="817.23" r="1.0" fill="#b0b0b0"/>
<circle cx="109.6" cy="816.93" r="1.0" fill="#b0b0b0"/>
<circle cx="99.63" cy="823.06" r="1.0" fill="#b0b0b0"/>
<circle cx="107.86" cy="818.58" r="1.0" fill="#b0b0b0"/>
<circle cx="97.27" cy="821.44" r="1.0" fill="#b0b0b0"/>
<circle cx="104.4" cy="821.38" r="1.0" fill="#b0b0b0"/>
<circle cx="100.76" cy="816.89" r="1.0" fill="#b0b0b0"/>
<circle cx="100.81" cy="820.33" r="1.0" fill="#b0b0b0"/>
<circle cx="101.16" cy="820.48" r="1.0" fill="#b0b0b0"/>
<circle cx="102.51" cy="822.86" r="1.0" fill="#b0b0b0"/>
<circle cx="101.08" cy="814.94" r="1.0" fill="#b0b0b0"/>
<circle cx="96.95" cy="816.95" r="1.0" fill="#b0b0b0"/>
<circle cx="106.68" cy="817.45" r="1.0" fill="#b0b0b0"/>
<circle cx="102.78" cy="817.6" r="1.0" fill="#b0b0b0"/>
<circle cx="104.84" cy="819.29" r="1.0" fill="#b0b0b0"/>
<circle cx="96.77" cy="815.61" r="1.0" fill="#b0b0b0"/>
<circle cx="106.55" cy="822.75" r="1.0" fill="#b0b0b0"/>
<circle cx="102.78" cy="815.44" r="1.0" fill="#b0b0b0"/>
<circle cx="106.08" cy="819.66" r="1.0" fill="#b0b0b0"/>
<circle cx="98.7" cy="812.32" r="1.0" fill="#b0b0b0"/>
<circle cx="103.9" cy="812.16" r="1.0" fill="#b0b0b0"/>
<circle cx="98.13" cy="810.68" r="1.0" fill="#b0b0b0"/>
<circle cx="109.91" cy="805.87" r="1.0" fill="#b0b0b0"/>
<circle cx="105.86" cy="810.92" r="1.0" fill="#b0b0b0"/>
<circle cx="108.28" cy="809.42" r="1.0" fill="#b0b0b0"/>
<circle cx="98.7" cy="807.23" r="1.0" fill="#b0b0b0"/>
<circle cx="94.71" cy="811.92" r="1.0" fill="#b0b0b0"/>
<circle cx="100.58" cy="808.58" r="1.0" fill="#b0b0b0"/>
<circle cx="100.22" cy="812.5" r="1.0" fill="#b0b0b0"/>
<circle cx="106.98" cy="810.59" r="1.0" fill="#b0b0b0"/>
<circle cx="110.53" cy="812.86" r="1.0" fill="#b0b0b0"/>
<circle cx="104.12" cy="788.19" r="1.0" fill="#b0b0b0"/>
<circle cx="107.97" cy="788.52" r="1.0" fill="#b0b0b0"/>
<circle cx="103.43" cy="778.4" r="1.0" fill="#b0b0b0"/>
<circle cx="106.11" cy="788.14" r="1.0" fill="#b0b0b0"/>
<circle cx="100.87" cy="777.4" r="1.0" fill="#b0b0b0"/>
<circle cx="110.02" cy="780.92" r="1.0" fill="#b0b0b0"/>
<circle cx="98.08" cy="788.54" r="1.0" fill="#b0b0b0"/>
<circle cx="106.06" cy="795.2" r="1.0" fill="#b0b0b0"/>
<circle cx="110" cy="782.59" r="1.0" fill="#b0b0b0"/>
<circle cx="98.29" cy="777.47" r="1.0" fill="#b0b0b0"/>
<circle cx="98.56" cy="796.5" r="1.0" fill="#b0b0b0"/>
<circle cx="105.85" cy="796.57" r="1.0" fill="#b0b0b0"/>
<circle cx="109.03" cy="777.34" r="1.0" fill="#b0b0b0"/>
<circle cx="108.47" cy="794.63" r="1.0" fill="#b0b0b0"/>
<circle cx="101.25" cy="792.95" r="1.0" fill="#b0b0b0"/>
<circle cx="95.73" cy="781.05" r="1.0" fill="#b0b0b0"/>
<circle cx="107.96" cy="799.27" r="1.0" fill="#b0b0b0"/>
<circle cx="100.16" cy="793.57" r="1.0" fill="#b0b0b0"/>
<circle cx="105.37" cy="726.13" r="1.0" fill="#b0b0b0"/>
<circle cx="99.8" cy="772.73" r="1.0" fill="#b0b0b0"/>
<circle cx="102.27" cy="737.84" r="1.0" fill="#b0b0b0"/>
<circle cx="103.89" cy="756.22" r="1.0" fill="#b0b0b0"/>
<circle cx="100.72" cy="695.65" r="1.0" fill="#b0b0b0"/>
<circle cx="96.28" cy="729.05" r="1.0" fill="#b0b0b0"/>
<circle cx="105.2" cy="750.96" r="1.0" fill="#b0b0b0"/>
<circle cx="108.83" cy="764.14" r="1.0" fill="#b0b0b0"/>
<circle cx="95.91" cy="699.43" r="1.0" fill="#b0b0b0"/>
<circle cx="100.44" cy="696.79" r="1.0" fill="#b0b0b0"/>
<circle cx="106.7" cy="710.52" r="1.0" fill="#b0b0b0"/>
<circle cx="105.37" cy="749.27" r="1.0" fill="#b0b0b0"/>
<circle cx="107.5" cy="720.13" r="1.0" fill="#b0b0b0"/>
<circle cx="106.65" cy="751.71" r="1.0" fill="#b0b0b0"/>
<circle cx="138.87" cy="817.65" r="1.0" fill="#b0b0b0"/>
<circle cx="129.89" cy="820.28" r="1.0" fill="#b0b0b0"/>
<circle cx="133.73" cy="820.54" r="1.0" fill="#b0b0b0"/>
<circle cx="138.97" cy="819.15" r="1.0" fill="#b0b0b0"/>
<circle cx="130.99" cy="820.09" r="1.0" fill="#b0b0b0"/>
<circle cx="138.2" cy="819.6" r="1.0" fill="#b0b0b0"/>
<circle cx="142.36" cy="822.49" r="1.0" fill="#b0b0b0"/>
<circle cx="130.05" cy="819.54" r="1.0" fill="#b0b0b0"/>
<circle cx="130.34" cy="817.83" r="1.0" fill="#b0b0b0"/>
<circle cx="139.64" cy="821.55" r="1.0" fill="#b0b0b0"/>
<circle cx="136.98" cy="819.9" r="1.0" fill="#b0b0b0"/>
<circle cx="135.42" cy="819.59" r="1.0" fill="#b0b0b0"/>
<circle cx="130.9" cy="821.67" r="1.0" fill="#b0b0b0"/>
<circle cx="139.57" cy="823.18" r="1.0" fill="#b0b0b0"/>
<circle cx="136.79" cy="818.93" r="1.0" fill="#b0b0b0"/>
<circle cx="133.84" cy="819.02" r="1.0" fill="#b0b0b0"/>
<circle cx="134.23" cy="821.95" r="1.0" fill="#b0b0b0"/>
<circle cx="128.75" cy="818.2" r="1.0" fill="#b0b0b0"/>
<circle cx="132.04" cy="820.47" r="1.0" fill="#b0b0b0"/>
<circle cx="133.76" cy="818.84" r="1.0" fill="#b0b0b0"/>
<circle cx="134.55" cy="821.54" r="1.0" fill="#b0b0b0"/>
<circle cx="140.46" cy="820.25" r="1.0" fill="#b0b0b0"/>
<circle cx="141.67" cy="821.41" r="1.0" fill="#b0b0b0"/>
<circle cx="132.42" cy="822.91" r="1.0" fill="#b0b0b0"/>
<circle cx="129.88" cy="822.98" r="1.0" fill="#b0b0b0"/>
<circle cx="139.75" cy="818.78" r="1.0" fill="#b0b0b0"/>
<circle cx="131.11" cy="822.46" r="1.0" fill="#b0b0b0"/>
<circle cx="140.01" cy="821.02" r="1.0" fill="#b0b0b0"/>
<circle cx="140.09" cy="818.55" r="1.0" fill="#b0b0b0"/>
<circle cx="130.42" cy="819.93" r="1.0" fill="#b0b0b0"/>
<circle cx="131.18" cy="821.13" r="1.0" fill="#b0b0b0"/>
<circle cx="137.2" cy="820.33" r="1.0" fill="#b0b0b0"/>
<circle cx="132.09" cy="822.35" r="1.0" fill="#b0b0b0"/>
<circle cx="128.56" cy="818.76" r="1.0" fill="#b0b0b0"/>
<circle cx="142.38" cy="818.63" r="1.0" fill="#b0b0b0"/>
<circle cx="134.22" cy="817.72" r="1.0" fill="#b0b0b0"/>
<circle cx="137.43" cy="820.18" r="1.0" fill="#b0b0b0"/>
<circle cx="143.76" cy="819.68" r="1.0" fill="#b0b0b0"/>
<circle cx="132.88" cy="819.35" r="1.0" fill="#b0b0b0"/>
<circle cx="135.84" cy="818.27" r="1.0" fill="#b0b0b0"/>
<circle cx="139.74" cy="819.88" r="1.0" fill="#b0b0b0"/>
<circle cx="140.44" cy="823.59" r="1.0" fill="#b0b0b0"/>
<circle cx="135.97" cy="819.5" r="1.0" fill="#b0b0b0"/>
<circle cx="135.47" cy="820.36" r="1.0" fill="#b0b0b0"/>
<circle cx="136.57" cy="822.4" r="1.0" fill="#b0b0b0"/>
<circle cx="136.11" cy="816.78" r="1.0" fill="#b0b0b0"/>
<circle cx="135.2" cy="806.41" r="1.0" fill="#b0b0b0"/>
<circle cx="143.47" cy="807.77" r="1.0" fill="#b0b0b0"/>
<circle cx="130.25" cy="802.22" r="1.0" fill="#b0b0b0"/>
<circle cx="138.08" cy="803.92" r="1.0" fill="#b0b0b0"/>
<circle cx="133.85" cy="816.55" r="1.0" fill="#b0b0b0"/>
<circle cx="129.32" cy="813.43" r="1.0" fill="#b0b0b0"/>
<circle cx="143" cy="808.23" r="1.0" fill="#b0b0b0"/>
<circle cx="142.05" cy="811.91" r="1.0" fill="#b0b0b0"/>
<circle cx="130.23" cy="805.58" r="1.0" fill="#b0b0b0"/>
<circle cx="137.72" cy="802.79" r="1.0" fill="#b0b0b0"/>
<circle cx="139.57" cy="801.62" r="1.0" fill="#b0b0b0"/>
<circle cx="133.59" cy="804.81" r="1.0" fill="#b0b0b0"/>
<circle cx="143.03" cy="803.67" r="1.0" fill="#b0b0b0"/>
<circle cx="135.09" cy="802.74" r="1.0" fill="#b0b0b0"/>
<circle cx="135.86" cy="804.52" r="1.0" fill="#b0b0b0"/>
<circle cx="128.76" cy="815.55" r="1.0" fill="#b0b0b0"/>
<circle cx="131.29" cy="816.08" r="1.0" fill="#b0b0b0"/>
<circle cx="136.05" cy="814.67" r="1.0" fill="#b0b0b0"/>
<circle cx="136.7" cy="805.5" r="1.0" fill="#b0b0b0"/>
<circle cx="138.5" cy="810.22" r="1.0" fill="#b0b0b0"/>
<circle cx="135.53" cy="812.22" r="1.0" fill="#b0b0b0"/>
<circle cx="134.52" cy="804.52" r="1.0" fill="#b0b0b0"/>
<circle cx="142.51" cy="814.33" r="1.0" fill="#b0b0b0"/>
<circle cx="133.96" cy="805.15" r="1.0" fill="#b0b0b0"/>
<circle cx="136.57" cy="811.09" r="1.0" fill="#b0b0b0"/>
<circle cx="131.67" cy="807.25" r="1.0" fill="#b0b0b0"/>
<circle cx="131.43" cy="817.36" r="1.0" fill="#b0b0b0"/>
<circle cx="130.38" cy="804.07" r="1.0" fill="#b0b0b0"/>
<circle cx="131.21" cy="809.58" r="1.0" fill="#b0b0b0"/>
<circle cx="130.81" cy="813.84" r="1.0" fill="#b0b0b0"/>
<circle cx="130.77" cy="810.53" r="1.0" fill="#b0b0b0"/>
<circle cx="129.84" cy="816.94" r="1.0" fill="#b0b0b0"/>
<circle cx="135.94" cy="814.54" r="1.0" fill="#b0b0b0"/>
<circle cx="128.43" cy="816.39" r="1.0" fill="#b0b0b0"/>
<circle cx="134.62" cy="809.78" r="1.0" fill="#b0b0b0"/>
<circle cx="128.89" cy="805.43" r="1.0" fill="#b0b0b0"/>
<circle cx="134.44" cy="810.54" r="1.0" fill="#b0b0b0"/>
<circle cx="143.57" cy="816.95" r="1.0" fill="#b0b0b0"/>
<circle cx="129.59" cy="813.68" r="1.0" fill="#b0b0b0"/>
<circle cx="130.72" cy="809.33" r="1.0" fill="#b0b0b0"/>
<circle cx="133.63" cy="806.81" r="1.0" fill="#b0b0b0"/>
<circle cx="128.91" cy="815.3" r="1.0" fill="#b0b0b0"/>
<circle cx="132.49" cy="805.02" r="1.0" fill="#b0b0b0"/>
<circle cx="135.54" cy="803.99" r="1.0" fill="#b0b0b0"/>
<circle cx="132.9" cy="801.52" r="1.0" fill="#b0b0b0"/>
<circle cx="132.34" cy="813.15" r="1.0" fill="#b0b0b0"/>
<circle cx="138.17" cy="803.54" r="1.0" fill="#b0b0b0"/>
<circle cx="129.58" cy="811.54" r="1.0" fill="#b0b0b0"/>
<circle cx="143.63" cy="805.79" r="1.0" fill="#b0b0b0"/>
<circle cx="128.13" cy="807.32" r="1.0" fill="#b0b0b0"/>
<circle cx="129.53" cy="816.89" r="1.0" fill="#b0b0b0"/>
<circle cx="128.66" cy="814.51" r="1.0" fill="#b0b0b0"/>
<circle cx="138.58" cy="816.49" r="1.0" fill="#b0b0b0"/>
<circle cx="131.29" cy="802.08" r="1.0" fill="#b0b0b0"/>
<circle cx="135.73" cy="800.83" r="1.0" fill="#b0b0b0"/>
<circle cx="142.8" cy="803.72" r="1.0" fill="#b0b0b0"/>
<circle cx="128.62" cy="801.4" r="1.0" fill="#b0b0b0"/>
<circle cx="137.82" cy="812.22" r="1.0" fill="#b0b0b0"/>
<circle cx="129.48" cy="801.29" r="1.0" fill="#b0b0b0"/>
<circle cx="141.72" cy="812.41" r="1.0" fill="#b0b0b0"/>
<circle cx="134.33" cy="815.46" r="1.0" fill="#b0b0b0"/>
<circle cx="138.99" cy="811.72" r="1.0" fill="#b0b0b0"/>
<circle cx="130.88" cy="801.6" r="1.0" fill="#b0b0b0"/>
<circle cx="139.86" cy="804.81" r="1.0" fill="#b0b0b0"/>
<circle cx="136.96" cy="803.18" r="1.0" fill="#b0b0b0"/>
<circle cx="133.9" cy="801.68" r="1.0" fill="#b0b0b0"/>
<circle cx="131.76" cy="810.35" r="1.0" fill="#b0b0b0"/>
<circle cx="135.79" cy="804.14" r="1.0" fill="#b0b0b0"/>
<circle cx="130.8" cy="812.82" r="1.0" fill="#b0b0b0"/>
<circle cx="137.8" cy="805.14" r="1.0" fill="#b0b0b0"/>
<circle cx="134.28" cy="805.31" r="1.0" fill="#b0b0b0"/>
<circle cx="130.54" cy="809.11" r="1.0" fill="#b0b0b0"/>
<circle cx="128.44" cy="805.31" r="1.0" fill="#b0b0b0"/>
<circle cx="140.25" cy="809.46" r="1.0" fill="#b0b0b0"/>
<circle cx="129.63" cy="805.87" r="1.0" fill="#b0b0b0"/>
<circle cx="141.62" cy="813.37" r="1.0" fill="#b0b0b0"/>
<circle cx="142.18" cy="806.47" r="1.0" fill="#b0b0b0"/>
<circle cx="135.3" cy="802.56" r="1.0" fill="#b0b0b0"/>
<circle cx="139.84" cy="802.14" r="1.0" fill="#b0b0b0"/>
<circle cx="134.01" cy="789.27" r="1.0" fill="#b0b0b0"/>
<circle cx="134.48" cy="797.98" r="1.0" fill="#b0b0b0"/>
<circle cx="129.76" cy="768.57" r="1.0" fill="#b0b0b0"/>
<circle cx="129.84" cy="781.45" r="1.0" fill="#b0b0b0"/>
<circle cx="138.49" cy="797.69" r="1.0" fill="#b0b0b0"/>
<circle cx="128.86" cy="792.37" r="1.0" fill="#b0b0b0"/>
<circle cx="138.42" cy="795.3" r="1.0" fill="#b0b0b0"/>
<circle cx="128.26" cy="780.89" r="1.0" fill="#b0b0b0"/>
<circle cx="143.6" cy="792.73" r="1.0" fill="#b0b0b0"/>
<circle cx="137.1" cy="793.06" r="1.0" fill="#b0b0b0"/>
<circle cx="140.61" cy="786.41" r="1.0" fill="#b0b0b0"/>
<circle cx="140.73" cy="780.27" r="1.0" fill="#b0b0b0"/>
<circle cx="131.09" cy="782.57" r="1.0" fill="#b0b0b0"/>
<circle cx="129.34" cy="794.47" r="1.0" fill="#b0b0b0"/>
<circle cx="129.88" cy="772.91" r="1.0" fill="#b0b0b0"/>
<circle cx="143.59" cy="799.58" r="1.0" fill="#b0b0b0"/>
<circle cx="142.41" cy="793.75" r="1.0" fill="#b0b0b0"/>
<circle cx="135.54" cy="797.53" r="1.0" fill="#b0b0b0"/>
<circle cx="141.39" cy="792.97" r="1.0" fill="#b0b0b0"/>
<circle cx="138.38" cy="779.9" r="1.0" fill="#b0b0b0"/>
<circle cx="142.07" cy="775.04" r="1.0" fill="#b0b0b0"/>
<circle cx="137.76" cy="788.86" r="1.0" fill="#b0b0b0"/>
<circle cx="129.85" cy="785.55" r="1.0" fill="#b0b0b0"/>
<circle cx="137.62" cy="772.58" r="1.0" fill="#b0b0b0"/>
<circle cx="131.38" cy="773.26" r="1.0" fill="#b0b0b0"/>
<circle cx="135.52" cy="782.43" r="1.0" fill="#b0b0b0"/>
<circle cx="129.31" cy="776.15" r="1.0" fill="#b0b0b0"/>
<circle cx="135.85" cy="788.86" r="1.0" fill="#b0b0b0"/>
<circle cx="136.95" cy="798" r="1.0" fill="#b0b0b0"/>
<circle cx="134.86" cy="775.91" r="1.0" fill="#b0b0b0"/>
<circle cx="137.8" cy="778.8" r="1.0" fill="#b0b0b0"/>
<circle cx="133.7" cy="793.25" r="1.0" fill="#b0b0b0"/>
<circle cx="133.45" cy="767.24" r="1.0" fill="#b0b0b0"/>
<circle cx="129.42" cy="786.04" r="1.0" fill="#b0b0b0"/>
<circle cx="130.73" cy="793.13" r="1.0" fill="#b0b0b0"/>
<circle cx="139.73" cy="769.4" r="1.0" fill="#b0b0b0"/>
<circle cx="143.91" cy="771.27" r="1.0" fill="#b0b0b0"/>
<circle cx="143.03" cy="780.01" r="1.0" fill="#b0b0b0"/>
<circle cx="134.8" cy="782.55" r="1.0" fill="#b0b0b0"/>
<circle cx="142.57" cy="768.83" r="1.0" fill="#b0b0b0"/>
<circle cx="135.85" cy="768.78" r="1.0" fill="#b0b0b0"/>
<circle cx="134.61" cy="774.64" r="1.0" fill="#b0b0b0"/>
<circle cx="142.85" cy="767.19" r="1.0" fill="#b0b0b0"/>
<circle cx="143.07" cy="790.66" r="1.0" fill="#b0b0b0"/>
<circle cx="129.61" cy="794.24" r="1.0" fill="#b0b0b0"/>
<circle cx="132.8" cy="724.05" r="1.0" fill="#b0b0b0"/>
<circle cx="138.34" cy="736.14" r="1.0" fill="#b0b0b0"/>
<circle cx="140.04" cy="764.68" r="1.0" fill="#b0b0b0"/>
<circle cx="135.01" cy="750.65" r="1.0" fill="#b0b0b0"/>
<circle cx="139.99" cy="746.55" r="1.0" fill="#b0b0b0"/>
<circle cx="132.69" cy="722.59" r="1.0" fill="#b0b0b0"/>
<circle cx="132.88" cy="760.94" r="1.0" fill="#b0b0b0"/>
<circle cx="129.32" cy="742.6" r="1.0" fill="#b0b0b0"/>
<circle cx="140.32" cy="757.97" r="1.0" fill="#b0b0b0"/>
<circle cx="143.75" cy="725.35" r="1.0" fill="#b0b0b0"/>
<circle cx="142.14" cy="708.71" r="1.0" fill="#b0b0b0"/>
<circle cx="130.66" cy="744.89" r="1.0" fill="#b0b0b0"/>
<circle cx="135.51" cy="748.51" r="1.0" fill="#b0b0b0"/>
<circle cx="136.78" cy="735.75" r="1.0" fill="#b0b0b0"/>
<circle cx="141.76" cy="745.66" r="1.0" fill="#b0b0b0"/>
<circle cx="135.51" cy="750.1" r="1.0" fill="#b0b0b0"/>
<circle cx="141.03" cy="714.25" r="1.0" fill="#b0b0b0"/>
<circle cx="131.97" cy="749.37" r="1.0" fill="#b0b0b0"/>
<circle cx="128.23" cy="719.02" r="1.0" fill="#b0b0b0"/>
<circle cx="136.6" cy="759.26" r="1.0" fill="#b0b0b0"/>
<circle cx="130.73" cy="735.16" r="1.0" fill="#b0b0b0"/>
<circle cx="131.35" cy="764.1" r="1.0" fill="#b0b0b0"/>
<circle cx="135.55" cy="721.21" r="1.0" fill="#b0b0b0"/>
<circle cx="140.68" cy="708.73" r="1.0" fill="#b0b0b0"/>
<circle cx="128.64" cy="708.74" r="1.0" fill="#b0b0b0"/>
<circle cx="128.28" cy="756.07" r="1.0" fill="#b0b0b0"/>
<circle cx="133.5" cy="741.33" r="1.0" fill="#b0b0b0"/>
<circle cx="136.84" cy="764.04" r="1.0" fill="#b0b0b0"/>
<circle cx="133.08" cy="761.51" r="1.0" fill="#b0b0b0"/>
<circle cx="140.95" cy="752.36" r="1.0" fill="#b0b0b0"/>
<circle cx="166.01" cy="816.8" r="1.0" fill="#b0b0b0"/>
<circle cx="168.76" cy="822.88" r="1.0" fill="#b0b0b0"/>
<circle cx="172.75" cy="813.4" r="1.0" fill="#b0b0b0"/>
<circle cx="174.91" cy="808.77" r="1.0" fill="#b0b0b0"/>
<circle cx="163.98" cy="819.58" r="1.0" fill="#b0b0b0"/>
<circle cx="174.6" cy="811.27" r="1.0" fill="#b0b0b0"/>
<circle cx="175.28" cy="815.33" r="1.0" fill="#b0b0b0"/>
<circle cx="166.32" cy="814.63" r="1.0" fill="#b0b0b0"/>
<circle cx="162.05" cy="820.86" r="1.0" fill="#b0b0b0"/>
<circle cx="176.35" cy="813.15" r="1.0" fill="#b0b0b0"/>
<circle cx="169.37" cy="808.87" r="1.0" fill="#b0b0b0"/>
<circle cx="176.86" cy="812.78" r="1.0" fill="#b0b0b0"/>
<circle cx="171.57" cy="810.37" r="1.0" fill="#b0b0b0"/>
<circle cx="170.2" cy="816.86" r="1.0" fill="#b0b0b0"/>
<circle cx="164.75" cy="820.82" r="1.0" fill="#b0b0b0"/>
<circle cx="177.89" cy="812.49" r="1.0" fill="#b0b0b0"/>
<circle cx="168.41" cy="814.71" r="1.0" fill="#b0b0b0"/>
<circle cx="169.17" cy="817.88" r="1.0" fill="#b0b0b0"/>
<circle cx="169.13" cy="810.55" r="1.0" fill="#b0b0b0"/>
<circle cx="164.3" cy="808.01" r="1.0" fill="#b0b0b0"/>
<circle cx="170.26" cy="818.48" r="1.0" fill="#b0b0b0"/>
<circle cx="175.6" cy="816.91" r="1.0" fill="#b0b0b0"/>
<circle cx="176.91" cy="810.15" r="1.0" fill="#b0b0b0"/>
<circle cx="162.27" cy="813.65" r="1.0" fill="#b0b0b0"/>
<circle cx="170.71" cy="814.26" r="1.0" fill="#b0b0b0"/>
<circle cx="166.32" cy="815.67" r="1.0" fill="#b0b0b0"/>
<circle cx="176.59" cy="812.07" r="1.0" fill="#b0b0b0"/>
<circle cx="172.64" cy="821.93" r="1.0" fill="#b0b0b0"/>
<circle cx="170.14" cy="817.56" r="1.0" fill="#b0b0b0"/>
<circle cx="177.38" cy="809.04" r="1.0" fill="#b0b0b0"/>
<circle cx="164.95" cy="813.14" r="1.0" fill="#b0b0b0"/>
<circle cx="164.72" cy="808.63" r="1.0" fill="#b0b0b0"/>
<circle cx="175.23" cy="817.37" r="1.0" fill="#b0b0b0"/>
<circle cx="166.18" cy="818.46" r="1.0" fill="#b0b0b0"/>
<circle cx="177.11" cy="808.16" r="1.0" fill="#b0b0b0"/>
<circle cx="168.15" cy="818.44" r="1.0" fill="#b0b0b0"/>
<circle cx="163.91" cy="819.02" r="1.0" fill="#b0b0b0"/>
<circle cx="177.7" cy="819.53" r="1.0" fill="#b0b0b0"/>
<circle cx="165.51" cy="822.31" r="1.0" fill="#b0b0b0"/>
<circle cx="163.07" cy="820.35" r="1.0" fill="#b0b0b0"/>
<circle cx="173.85" cy="794.72" r="1.0" fill="#b0b0b0"/>
<circle cx="172.03" cy="787.23" r="1.0" fill="#b0b0b0"/>
<circle cx="161.86" cy="787.72" r="1.0" fill="#b0b0b0"/>
<circle cx="177.39" cy="800.57" r="1.0" fill="#b0b0b0"/>
<circle cx="166.13" cy="805.68" r="1.0" fill="#b0b0b0"/>
<circle cx="166.13" cy="795.76" r="1.0" fill="#b0b0b0"/>
<circle cx="162.54" cy="794.24" r="1.0" fill="#b0b0b0"/>
<circle cx="177.33" cy="801.68" r="1.0" fill="#b0b0b0"/>
<circle cx="176.49" cy="803.89" r="1.0" fill="#b0b0b0"/>
<circle cx="177.91" cy="803.08" r="1.0" fill="#b0b0b0"/>
<circle cx="172.29" cy="791.16" r="1.0" fill="#b0b0b0"/>
<circle cx="162.66" cy="803.93" r="1.0" fill="#b0b0b0"/>
<circle cx="164.64" cy="789.12" r="1.0" fill="#b0b0b0"/>
<circle cx="175.14" cy="802.8" r="1.0" fill="#b0b0b0"/>
<circle cx="162.57" cy="786.36" r="1.0" fill="#b0b0b0"/>
<circle cx="170.46" cy="784.29" r="1.0" fill="#b0b0b0"/>
<circle cx="163.52" cy="798.17" r="1.0" fill="#b0b0b0"/>
<circle cx="177.82" cy="797.99" r="1.0" fill="#b0b0b0"/>
<circle cx="163.91" cy="800.61" r="1.0" fill="#b0b0b0"/>
<circle cx="163.84" cy="803.86" r="1.0" fill="#b0b0b0"/>
<circle cx="176.64" cy="798.89" r="1.0" fill="#b0b0b0"/>
<circle cx="164.9" cy="805.5" r="1.0" fill="#b0b0b0"/>
<circle cx="177.97" cy="784.81" r="1.0" fill="#b0b0b0"/>
<circle cx="165.77" cy="783.83" r="1.0" fill="#b0b0b0"/>
<circle cx="177.22" cy="798.84" r="1.0" fill="#b0b0b0"/>
<circle cx="173.2" cy="795.71" r="1.0" fill="#b0b0b0"/>
<circle cx="162.12" cy="799.83" r="1.0" fill="#b0b0b0"/>
<circle cx="173.93" cy="799.06" r="1.0" fill="#b0b0b0"/>
<circle cx="171.02" cy="788.58" r="1.0" fill="#b0b0b0"/>
<circle cx="170.52" cy="796.21" r="1.0" fill="#b0b0b0"/>
<circle cx="170.46" cy="766.92" r="1.0" fill="#b0b0b0"/>
<circle cx="165.03" cy="752.41" r="1.0" fill="#b0b0b0"/>
<circle cx="176.93" cy="761.27" r="1.0" fill="#b0b0b0"/>
<circle cx="164.69" cy="751.83" r="1.0" fill="#b0b0b0"/>
<circle cx="175.42" cy="747.56" r="1.0" fill="#b0b0b0"/>
<circle cx="166.1" cy="777.11" r="1.0" fill="#b0b0b0"/>
<circle cx="162.64" cy="775.83" r="1.0" fill="#b0b0b0"/>
<circle cx="168.43" cy="747" r="1.0" fill="#b0b0b0"/>
<circle cx="163.64" cy="750.93" r="1.0" fill="#b0b0b0"/>
<circle cx="175.91" cy="782.83" r="1.0" fill="#b0b0b0"/>
<circle cx="177.89" cy="753.85" r="1.0" fill="#b0b0b0"/>
<circle cx="170.31" cy="757.89" r="1.0" fill="#b0b0b0"/>
<circle cx="163.28" cy="754.89" r="1.0" fill="#b0b0b0"/>
<circle cx="168.94" cy="763.28" r="1.0" fill="#b0b0b0"/>
<circle cx="171.53" cy="777.92" r="1.0" fill="#b0b0b0"/>
<circle cx="170" cy="771.35" r="1.0" fill="#b0b0b0"/>
<circle cx="166.95" cy="769.48" r="1.0" fill="#b0b0b0"/>
<circle cx="171.54" cy="770.04" r="1.0" fill="#b0b0b0"/>
<circle cx="176.99" cy="746.92" r="1.0" fill="#b0b0b0"/>
<circle cx="175.35" cy="751.32" r="1.0" fill="#b0b0b0"/>
<circle cx="177.64" cy="772.7" r="1.0" fill="#b0b0b0"/>
<circle cx="163.78" cy="773.33" r="1.0" fill="#b0b0b0"/>
<circle cx="173.67" cy="764.75" r="1.0" fill="#b0b0b0"/>
<circle cx="172.26" cy="770.68" r="1.0" fill="#b0b0b0"/>
<circle cx="177.49" cy="772.86" r="1.0" fill="#b0b0b0"/>
<circle cx="169.54" cy="766.53" r="1.0" fill="#b0b0b0"/>
<circle cx="175.99" cy="763.61" r="1.0" fill="#b0b0b0"/>
<circle cx="170.36" cy="746.7" r="1.0" fill="#b0b0b0"/>
<circle cx="171.81" cy="766.95" r="1.0" fill="#b0b0b0"/>
<circle cx="168.69" cy="780.78" r="1.0" fill="#b0b0b0"/>
<circle cx="174.41" cy="706.84" r="1.0" fill="#b0b0b0"/>
<circle cx="175.66" cy="743.44" r="1.0" fill="#b0b0b0"/>
<circle cx="177.72" cy="728.37" r="1.0" fill="#b0b0b0"/>
<circle cx="165.26" cy="729.17" r="1.0" fill="#b0b0b0"/>
<circle cx="176.14" cy="720.72" r="1.0" fill="#b0b0b0"/>
<circle cx="175.87" cy="726.18" r="1.0" fill="#b0b0b0"/>
<circle cx="167.65" cy="713.16" r="1.0" fill="#b0b0b0"/>
<circle cx="169.99" cy="732.24" r="1.0" fill="#b0b0b0"/>
<circle cx="167.83" cy="727.67" r="1.0" fill="#b0b0b0"/>
<circle cx="175.99" cy="715.93" r="1.0" fill="#b0b0b0"/>
<circle cx="164.15" cy="719.06" r="1.0" fill="#b0b0b0"/>
<circle cx="167.8" cy="735.99" r="1.0" fill="#b0b0b0"/>
<line x1="68.7" y1="759.36" x2="68.7" y2="796.51" stroke="#222" stroke-width="1.1" />
<line x1="60.1" y1="759.36" x2="77.3" y2="759.36" stroke="#222" stroke-width="1.2" />
<rect x="60.1" y="796.51" width="17.2" height="27.09" fill="none" stroke="#222" stroke-width="1.2" />
<line x1="60.1" y1="815.86" x2="77.3" y2="815.86" stroke="#222" stroke-width="1.2" />
<line x1="102.5" y1="801.93" x2="102.5" y2="814.7" stroke="#222" stroke-width="1.1" />
<line x1="93.9" y1="801.93" x2="111.1" y2="801.93" stroke="#222" stroke-width="1.2" />
<rect x="93.9" y="814.7" width="17.2" height="8.9" fill="none" stroke="#222" stroke-width="1.2" />
<line x1="136.1" y1="767.1" x2="136.1" y2="800.38" stroke="#222" stroke-width="1.1" />
<line x1="127.65" y1="767.1" x2="144.55" y2="767.1" stroke="#222" stroke-width="1.2" />
<rect x="127.65" y="800.38" width="16.9" height="23.22" fill="none" stroke="#222" stroke-width="1.2" />
<line x1="127.65" y1="817.41" x2="144.55" y2="817.41" stroke="#222" stroke-width="1.2" />
<line x1="169.9" y1="783.35" x2="169.9" y2="807.35" stroke="#222" stroke-width="1.1" />
<line x1="161.35" y1="783.35" x2="178.45" y2="783.35" stroke="#222" stroke-width="1.2" />
<rect x="161.35" y="807.35" width="17.1" height="16.25" fill="none" stroke="#222" stroke-width="1.2" />
<line x1="68.7" y1="823.6" x2="68.7" y2="827.1" stroke="#333" stroke-width="1" />
<text x="72.9" y="834.4" font-size="9.3" text-anchor="end" transform="rotate(-45 72.9 834.4)" stroke="#111" stroke-width="0.12">Cyclic</text>
<line x1="102.5" y1="823.6" x2="102.5" y2="827.1" stroke="#333" stroke-width="1" />
<text x="106.7" y="834.4" font-size="9.3" text-anchor="end" transform="rotate(-45 106.7 834.4)" stroke="#111" stroke-width="0.12">Non-cyclic</text>
<line x1="136.1" y1="823.6" x2="136.1" y2="827.1" stroke="#333" stroke-width="1" />
<text x="140.3" y="834.4" font-size="9.3" text-anchor="end" transform="rotate(-45 140.3 834.4)" stroke="#111" stroke-width="0.12">Cyclic</text>
<line x1="169.9" y1="823.6" x2="169.9" y2="827.1" stroke="#333" stroke-width="1" />
<text x="174.1" y="834.4" font-size="9.3" text-anchor="end" transform="rotate(-45 174.1 834.4)" stroke="#111" stroke-width="0.12">Non-cyclic</text>
<text stroke="#111" stroke-width="0.2" x="206" y="656.7" font-size="12.8" font-weight="bold">h</text>
<line x1="249.5" y1="673.4" x2="249.5" y2="823.7" stroke="#222" stroke-width="1.1" />
<line x1="245.5" y1="823.2" x2="249.5" y2="823.2" stroke="#222" stroke-width="1" />
<text stroke="#111" stroke-width="0.179" x="240.9" y="826.4" font-size="8.8" text-anchor="end">0</text>
<line x1="245.5" y1="789.2" x2="249.5" y2="789.2" stroke="#222" stroke-width="1" />
<text stroke="#111" stroke-width="0.179" x="240.9" y="792.4" font-size="8.8" text-anchor="end">0.05</text>
<line x1="245.5" y1="755.2" x2="249.5" y2="755.2" stroke="#222" stroke-width="1" />
<text stroke="#111" stroke-width="0.179" x="240.9" y="758.4" font-size="8.8" text-anchor="end">0.10</text>
<line x1="245.5" y1="721.2" x2="249.5" y2="721.2" stroke="#222" stroke-width="1" />
<text stroke="#111" stroke-width="0.179" x="240.9" y="724.4" font-size="8.8" text-anchor="end">0.15</text>
<line x1="245.5" y1="687.2" x2="249.5" y2="687.2" stroke="#222" stroke-width="1" />
<text stroke="#111" stroke-width="0.179" x="240.9" y="690.4" font-size="8.8" text-anchor="end">0.20</text>
<line x1="247" y1="823.5" x2="374.7" y2="823.5" stroke="#222" stroke-width="1.2" />
<text stroke="#111" stroke-width="0.2" x="212.8" y="749.5" font-size="9.3" text-anchor="middle" textLength="136" lengthAdjust="spacingAndGlyphs" transform="rotate(-90 212.8 749.5)">Percentage of breakpoint overlap</text>
<rect x="257.6" y="695.36" width="19.9" height="127.84" fill="#e0b0b1" stroke="#222" stroke-width="1.1" />
<line x1="267.55" y1="681.08" x2="267.55" y2="710.32" stroke="#222" stroke-width="1.1" />
<line x1="263.75" y1="681.08" x2="271.35" y2="681.08" stroke="#222" stroke-width="1.1" />
<line x1="263.75" y1="710.32" x2="271.35" y2="710.32" stroke="#222" stroke-width="1.1" />
<line x1="267.55" y1="823.2" x2="267.55" y2="826.7" stroke="#333" stroke-width="1" />
<rect x="287.5" y="736.16" width="19.9" height="87.04" fill="#e0b0b1" stroke="#222" stroke-width="1.1" />
<line x1="297.45" y1="724.6" x2="297.45" y2="747.72" stroke="#222" stroke-width="1.1" />
<line x1="293.65" y1="724.6" x2="301.25" y2="724.6" stroke="#222" stroke-width="1.1" />
<line x1="293.65" y1="747.72" x2="301.25" y2="747.72" stroke="#222" stroke-width="1.1" />
<line x1="297.45" y1="823.2" x2="297.45" y2="826.7" stroke="#333" stroke-width="1" />
<rect x="317" y="721.2" width="19.9" height="102" fill="#e0b0b1" stroke="#222" stroke-width="1.1" />
<line x1="326.95" y1="706.92" x2="326.95" y2="735.14" stroke="#222" stroke-width="1.1" />
<line x1="323.15" y1="706.92" x2="330.75" y2="706.92" stroke="#222" stroke-width="1.1" />
<line x1="323.15" y1="735.14" x2="330.75" y2="735.14" stroke="#222" stroke-width="1.1" />
<line x1="326.95" y1="823.2" x2="326.95" y2="826.7" stroke="#333" stroke-width="1" />
<rect x="346.9" y="758.6" width="19.9" height="64.6" fill="#e0b0b1" stroke="#222" stroke-width="1.1" />
<line x1="356.85" y1="737.52" x2="356.85" y2="779.68" stroke="#222" stroke-width="1.1" />
<line x1="353.05" y1="737.52" x2="360.65" y2="737.52" stroke="#222" stroke-width="1.1" />
<line x1="353.05" y1="779.68" x2="360.65" y2="779.68" stroke="#222" stroke-width="1.1" />
<line x1="356.85" y1="823.2" x2="356.85" y2="826.7" stroke="#333" stroke-width="1" />
<text stroke="#111" stroke-width="0.2" x="266.3" y="836" font-size="9.3" text-anchor="middle">+</text>
<text stroke="#111" stroke-width="0.2" x="296.7" y="836" font-size="9.3" text-anchor="middle">−</text>
<text stroke="#111" stroke-width="0.2" x="326.3" y="836" font-size="9.3" text-anchor="middle">+</text>
<text stroke="#111" stroke-width="0.2" x="356.7" y="836" font-size="9.3" text-anchor="middle">−</text>
<text stroke="#111" stroke-width="0.2" x="309.9" y="849" font-size="9.3" text-anchor="middle" textLength="52.8" lengthAdjust="spacingAndGlyphs">E2 treatment</text>
<text stroke="#111" stroke-width="0.2" x="279.2" y="656" font-size="9.3" text-anchor="middle" textLength="59.9" lengthAdjust="spacingAndGlyphs">Translocations</text>
<text stroke="#111" stroke-width="0.2" x="280.2" y="666.4" font-size="9.3" text-anchor="middle" textLength="47.2" lengthAdjust="spacingAndGlyphs">from RARA</text>
<line x1="251.3" y1="670.3" x2="308.5" y2="670.3" stroke="#222" stroke-width="1" />
<text stroke="#111" stroke-width="0.2" x="345.6" y="656" font-size="9.3" text-anchor="middle" textLength="59.9" lengthAdjust="spacingAndGlyphs">Translocations</text>
<text stroke="#111" stroke-width="0.2" x="345.6" y="666.4" font-size="9.3" text-anchor="middle" textLength="59.2" lengthAdjust="spacingAndGlyphs">from SHANK2</text>
<line x1="316.5" y1="669.3" x2="376" y2="669.3" stroke="#222" stroke-width="1" />
<text stroke="#111" stroke-width="0.2" x="331" y="682.6" font-size="9.3" textLength="38.4" lengthAdjust="spacingAndGlyphs">FC = 1.47</text>
<text stroke="#111" stroke-width="0.2" x="331.0" y="693.6" font-size="9.3" textLength="38.4" lengthAdjust="spacingAndGlyphs"><tspan font-style="italic">P</tspan> = 0.031</text>
<text stroke="#111" stroke-width="0.2" x="389.8" y="656.9" font-size="12.8" font-weight="bold">i</text>
<line x1="397.7" y1="676.9" x2="397.7" y2="811.9" stroke="#222" stroke-width="1.1" />
<line x1="397.7" y1="811.4" x2="821" y2="811.4" stroke="#222" stroke-width="1.1" />
<line x1="398.2" y1="811.4" x2="398.2" y2="814.9" stroke="#222" stroke-width="1" />
<text stroke="#111" stroke-width="0.179" x="397.2" y="828.0" font-size="8.8" text-anchor="middle">10<tspan font-size="5.8" dy="-3.5">4</tspan></text>
<line x1="567.7" y1="811.4" x2="567.7" y2="814.9" stroke="#222" stroke-width="1" />
<text stroke="#111" stroke-width="0.179" x="566.7" y="828.0" font-size="8.8" text-anchor="middle">10<tspan font-size="5.8" dy="-3.5">6</tspan></text>
<line x1="737.2" y1="811.4" x2="737.2" y2="814.9" stroke="#222" stroke-width="1" />
<text stroke="#111" stroke-width="0.179" x="736.2" y="828.0" font-size="8.8" text-anchor="middle">10<tspan font-size="5.8" dy="-3.5">8</tspan></text>
<text stroke="#111" stroke-width="0.2" x="608.8" y="843.4" font-size="9.3" text-anchor="middle" textLength="99.2" lengthAdjust="spacingAndGlyphs">Distance to R-loop (Mb)</text>
<circle cx="678.81" cy="748.79" r="1.3" fill="#a8a8a8"/>
<circle cx="711.61" cy="743.49" r="1.3" fill="#a8a8a8"/>
<circle cx="654.2" cy="754.67" r="1.3" fill="#a8a8a8"/>
<circle cx="737.04" cy="744.62" r="1.3" fill="#a8a8a8"/>
<circle cx="586.51" cy="727.31" r="1.3" fill="#a8a8a8"/>
<circle cx="629.83" cy="739.82" r="1.3" fill="#a8a8a8"/>
<circle cx="611.39" cy="754.19" r="1.3" fill="#a8a8a8"/>
<circle cx="619.45" cy="735.1" r="1.3" fill="#a8a8a8"/>
<circle cx="633.21" cy="761.12" r="1.3" fill="#a8a8a8"/>
<circle cx="649.1" cy="752.32" r="1.3" fill="#a8a8a8"/>
<circle cx="690.97" cy="728.36" r="1.3" fill="#a8a8a8"/>
<circle cx="571.59" cy="738.38" r="1.3" fill="#a8a8a8"/>
<circle cx="600.99" cy="759.57" r="1.3" fill="#a8a8a8"/>
<circle cx="631.73" cy="739.73" r="1.3" fill="#a8a8a8"/>
<circle cx="694.63" cy="731.45" r="1.3" fill="#a8a8a8"/>
<circle cx="724.28" cy="758.75" r="1.3" fill="#a8a8a8"/>
<circle cx="557.26" cy="738.86" r="1.3" fill="#a8a8a8"/>
<circle cx="653.71" cy="743.68" r="1.3" fill="#a8a8a8"/>
<circle cx="637.74" cy="756.64" r="1.3" fill="#a8a8a8"/>
<circle cx="646.75" cy="735.19" r="1.3" fill="#a8a8a8"/>
<circle cx="639.15" cy="760.14" r="1.3" fill="#a8a8a8"/>
<circle cx="590.28" cy="757.59" r="1.3" fill="#a8a8a8"/>
<circle cx="634.38" cy="746.95" r="1.3" fill="#a8a8a8"/>
<circle cx="527.8" cy="752.01" r="1.3" fill="#a8a8a8"/>
<circle cx="681.11" cy="755.32" r="1.3" fill="#a8a8a8"/>
<circle cx="679.56" cy="734.04" r="1.3" fill="#a8a8a8"/>
<circle cx="744.25" cy="741.13" r="1.3" fill="#a8a8a8"/>
<circle cx="572.04" cy="739.62" r="1.3" fill="#a8a8a8"/>
<circle cx="573.81" cy="761.02" r="1.3" fill="#a8a8a8"/>
<circle cx="649.4" cy="740.34" r="1.3" fill="#a8a8a8"/>
<circle cx="657.88" cy="751.62" r="1.3" fill="#a8a8a8"/>
<circle cx="635.79" cy="760.96" r="1.3" fill="#a8a8a8"/>
<circle cx="560.31" cy="745.91" r="1.3" fill="#a8a8a8"/>
<circle cx="633.04" cy="752.64" r="1.3" fill="#a8a8a8"/>
<circle cx="645.88" cy="746.12" r="1.3" fill="#a8a8a8"/>
<circle cx="713.59" cy="748.37" r="1.3" fill="#a8a8a8"/>
<circle cx="646.98" cy="739.04" r="1.3" fill="#a8a8a8"/>
<circle cx="665.04" cy="758.72" r="1.3" fill="#a8a8a8"/>
<circle cx="584.32" cy="737.62" r="1.3" fill="#a8a8a8"/>
<circle cx="698.85" cy="730.71" r="1.3" fill="#a8a8a8"/>
<circle cx="733.75" cy="753.62" r="1.3" fill="#a8a8a8"/>
<circle cx="676.1" cy="739.95" r="1.3" fill="#a8a8a8"/>
<circle cx="594.02" cy="757.76" r="1.3" fill="#a8a8a8"/>
<circle cx="547.58" cy="759.78" r="1.3" fill="#a8a8a8"/>
<circle cx="478.23" cy="759.89" r="1.3" fill="#a8a8a8"/>
<circle cx="732.46" cy="747.28" r="1.3" fill="#a8a8a8"/>
<circle cx="683.91" cy="739.97" r="1.3" fill="#a8a8a8"/>
<circle cx="583.76" cy="735.61" r="1.3" fill="#a8a8a8"/>
<circle cx="657.12" cy="729.56" r="1.3" fill="#a8a8a8"/>
<circle cx="605.77" cy="754.58" r="1.3" fill="#a8a8a8"/>
<circle cx="641.76" cy="755.66" r="1.3" fill="#a8a8a8"/>
<circle cx="561.94" cy="728.97" r="1.3" fill="#a8a8a8"/>
<circle cx="628.73" cy="741.46" r="1.3" fill="#a8a8a8"/>
<circle cx="681.69" cy="733" r="1.3" fill="#a8a8a8"/>
<circle cx="681.5" cy="757.77" r="1.3" fill="#a8a8a8"/>
<circle cx="654.69" cy="760.64" r="1.3" fill="#a8a8a8"/>
<circle cx="629.44" cy="735.78" r="1.3" fill="#a8a8a8"/>
<circle cx="561.61" cy="759.8" r="1.3" fill="#a8a8a8"/>
<circle cx="533.99" cy="728.16" r="1.3" fill="#a8a8a8"/>
<circle cx="615.46" cy="734.41" r="1.3" fill="#a8a8a8"/>
<circle cx="688.49" cy="757.17" r="1.3" fill="#a8a8a8"/>
<circle cx="538.88" cy="747.65" r="1.3" fill="#a8a8a8"/>
<circle cx="559.29" cy="756.08" r="1.3" fill="#a8a8a8"/>
<circle cx="667.32" cy="737.67" r="1.3" fill="#a8a8a8"/>
<circle cx="583.36" cy="753.32" r="1.3" fill="#a8a8a8"/>
<circle cx="620.76" cy="727.55" r="1.3" fill="#a8a8a8"/>
<circle cx="571.39" cy="728" r="1.3" fill="#a8a8a8"/>
<circle cx="492.19" cy="747.39" r="1.3" fill="#a8a8a8"/>
<circle cx="557.52" cy="747.07" r="1.3" fill="#a8a8a8"/>
<circle cx="537.59" cy="735.94" r="1.3" fill="#a8a8a8"/>
<circle cx="503.51" cy="757.99" r="1.3" fill="#a8a8a8"/>
<circle cx="717.37" cy="731.74" r="1.3" fill="#a8a8a8"/>
<circle cx="653.7" cy="728.06" r="1.3" fill="#a8a8a8"/>
<circle cx="646.47" cy="742.39" r="1.3" fill="#a8a8a8"/>
<circle cx="708.95" cy="749.48" r="1.3" fill="#a8a8a8"/>
<circle cx="726.17" cy="731.5" r="1.3" fill="#a8a8a8"/>
<circle cx="578.82" cy="743.99" r="1.3" fill="#a8a8a8"/>
<circle cx="618.27" cy="734.67" r="1.3" fill="#a8a8a8"/>
<circle cx="650.84" cy="740.05" r="1.3" fill="#a8a8a8"/>
<circle cx="664.88" cy="751.34" r="1.3" fill="#a8a8a8"/>
<circle cx="613.42" cy="751.37" r="1.3" fill="#a8a8a8"/>
<circle cx="625.46" cy="756.91" r="1.3" fill="#a8a8a8"/>
<circle cx="647.64" cy="727.47" r="1.3" fill="#a8a8a8"/>
<circle cx="524.59" cy="742.97" r="1.3" fill="#a8a8a8"/>
<circle cx="726.8" cy="733.16" r="1.3" fill="#a8a8a8"/>
<circle cx="671.54" cy="751.39" r="1.3" fill="#a8a8a8"/>
<circle cx="629.54" cy="737.86" r="1.3" fill="#a8a8a8"/>
<circle cx="725.51" cy="728.62" r="1.3" fill="#a8a8a8"/>
<circle cx="591.04" cy="757.83" r="1.3" fill="#a8a8a8"/>
<circle cx="665.02" cy="737.23" r="1.3" fill="#a8a8a8"/>
<circle cx="554.24" cy="759.44" r="1.3" fill="#a8a8a8"/>
<circle cx="629.75" cy="730.55" r="1.3" fill="#a8a8a8"/>
<circle cx="572.77" cy="752.18" r="1.3" fill="#a8a8a8"/>
<circle cx="588.1" cy="760.08" r="1.3" fill="#a8a8a8"/>
<circle cx="596.35" cy="745.08" r="1.3" fill="#a8a8a8"/>
<circle cx="719.2" cy="746.26" r="1.3" fill="#a8a8a8"/>
<circle cx="734.44" cy="760.41" r="1.3" fill="#a8a8a8"/>
<circle cx="674.93" cy="739.28" r="1.3" fill="#a8a8a8"/>
<circle cx="551.25" cy="730.86" r="1.3" fill="#a8a8a8"/>
<circle cx="652.41" cy="754.89" r="1.3" fill="#a8a8a8"/>
<circle cx="642.22" cy="753.04" r="1.3" fill="#a8a8a8"/>
<circle cx="550.71" cy="727.87" r="1.3" fill="#a8a8a8"/>
<circle cx="658.53" cy="749.12" r="1.3" fill="#a8a8a8"/>
<circle cx="562.33" cy="740.44" r="1.3" fill="#a8a8a8"/>
<circle cx="657.24" cy="740.85" r="1.3" fill="#a8a8a8"/>
<circle cx="634.22" cy="741.95" r="1.3" fill="#a8a8a8"/>
<circle cx="650.34" cy="735.6" r="1.3" fill="#a8a8a8"/>
<circle cx="599.32" cy="751.81" r="1.3" fill="#a8a8a8"/>
<circle cx="523.38" cy="742.7" r="1.3" fill="#a8a8a8"/>
<circle cx="636.39" cy="743.75" r="1.3" fill="#a8a8a8"/>
<circle cx="691.25" cy="748.68" r="1.3" fill="#a8a8a8"/>
<circle cx="656.36" cy="743.51" r="1.3" fill="#a8a8a8"/>
<circle cx="625.34" cy="743.92" r="1.3" fill="#a8a8a8"/>
<circle cx="604.98" cy="753.7" r="1.3" fill="#a8a8a8"/>
<circle cx="505.65" cy="748.51" r="1.3" fill="#a8a8a8"/>
<circle cx="636.11" cy="756.4" r="1.3" fill="#a8a8a8"/>
<circle cx="540.77" cy="750.97" r="1.3" fill="#a8a8a8"/>
<circle cx="612.55" cy="758.37" r="1.3" fill="#a8a8a8"/>
<circle cx="589.48" cy="740.32" r="1.3" fill="#a8a8a8"/>
<circle cx="545.69" cy="759.97" r="1.3" fill="#a8a8a8"/>
<circle cx="556.1" cy="760.83" r="1.3" fill="#a8a8a8"/>
<circle cx="684.06" cy="737.8" r="1.3" fill="#a8a8a8"/>
<circle cx="633.38" cy="740.5" r="1.3" fill="#a8a8a8"/>
<circle cx="678.58" cy="729.9" r="1.3" fill="#a8a8a8"/>
<circle cx="692.59" cy="737.49" r="1.3" fill="#a8a8a8"/>
<circle cx="725.5" cy="742.92" r="1.3" fill="#a8a8a8"/>
<circle cx="596.35" cy="730.88" r="1.3" fill="#a8a8a8"/>
<circle cx="722.86" cy="734.2" r="1.3" fill="#a8a8a8"/>
<circle cx="605.28" cy="738.6" r="1.3" fill="#a8a8a8"/>
<circle cx="573.12" cy="736.07" r="1.3" fill="#a8a8a8"/>
<circle cx="559.55" cy="759.54" r="1.3" fill="#a8a8a8"/>
<circle cx="610.8" cy="755.94" r="1.3" fill="#a8a8a8"/>
<circle cx="673.29" cy="732.42" r="1.3" fill="#a8a8a8"/>
<circle cx="614.18" cy="747.53" r="1.3" fill="#a8a8a8"/>
<circle cx="594.26" cy="736.63" r="1.3" fill="#a8a8a8"/>
<circle cx="526.15" cy="743.08" r="1.3" fill="#a8a8a8"/>
<circle cx="731.23" cy="742.05" r="1.3" fill="#a8a8a8"/>
<circle cx="594.55" cy="733.13" r="1.3" fill="#a8a8a8"/>
<circle cx="598.02" cy="740.28" r="1.3" fill="#a8a8a8"/>
<circle cx="625.73" cy="759.87" r="1.3" fill="#a8a8a8"/>
<circle cx="670.31" cy="728.37" r="1.3" fill="#a8a8a8"/>
<circle cx="684.11" cy="751.16" r="1.3" fill="#a8a8a8"/>
<circle cx="498.85" cy="727.85" r="1.3" fill="#a8a8a8"/>
<circle cx="613.99" cy="747.87" r="1.3" fill="#a8a8a8"/>
<circle cx="631.13" cy="751.01" r="1.3" fill="#a8a8a8"/>
<circle cx="631.73" cy="745.71" r="1.3" fill="#a8a8a8"/>
<circle cx="638.79" cy="730.41" r="1.3" fill="#a8a8a8"/>
<circle cx="606.95" cy="757.61" r="1.3" fill="#a8a8a8"/>
<circle cx="693.85" cy="739.78" r="1.3" fill="#a8a8a8"/>
<circle cx="702.77" cy="755.16" r="1.3" fill="#a8a8a8"/>
<circle cx="712.32" cy="745.2" r="1.3" fill="#a8a8a8"/>
<circle cx="668.73" cy="740.9" r="1.3" fill="#a8a8a8"/>
<circle cx="643.22" cy="745.96" r="1.3" fill="#a8a8a8"/>
<circle cx="648.37" cy="755.88" r="1.3" fill="#a8a8a8"/>
<circle cx="739.81" cy="758.66" r="1.3" fill="#a8a8a8"/>
<circle cx="639.82" cy="746.99" r="1.3" fill="#a8a8a8"/>
<circle cx="623.58" cy="729.94" r="1.3" fill="#a8a8a8"/>
<circle cx="712.98" cy="753.02" r="1.3" fill="#a8a8a8"/>
<circle cx="571.64" cy="733.6" r="1.3" fill="#a8a8a8"/>
<circle cx="735.61" cy="747.82" r="1.3" fill="#a8a8a8"/>
<circle cx="672.31" cy="748.29" r="1.3" fill="#a8a8a8"/>
<circle cx="523.57" cy="738.69" r="1.3" fill="#a8a8a8"/>
<circle cx="651.03" cy="736.37" r="1.3" fill="#a8a8a8"/>
<circle cx="600.28" cy="748.52" r="1.3" fill="#a8a8a8"/>
<circle cx="672.19" cy="757.46" r="1.3" fill="#a8a8a8"/>
<circle cx="651.86" cy="744.6" r="1.3" fill="#a8a8a8"/>
<circle cx="641.12" cy="750.25" r="1.3" fill="#a8a8a8"/>
<circle cx="649.14" cy="729.2" r="1.3" fill="#a8a8a8"/>
<circle cx="676.24" cy="728.46" r="1.3" fill="#a8a8a8"/>
<circle cx="539.1" cy="749.41" r="1.3" fill="#a8a8a8"/>
<circle cx="634.13" cy="732.58" r="1.3" fill="#a8a8a8"/>
<circle cx="743.2" cy="745.51" r="1.3" fill="#a8a8a8"/>
<circle cx="717.09" cy="741.09" r="1.3" fill="#a8a8a8"/>
<circle cx="595.52" cy="745.04" r="1.3" fill="#a8a8a8"/>
<circle cx="539.54" cy="729.86" r="1.3" fill="#a8a8a8"/>
<circle cx="651.01" cy="728.58" r="1.3" fill="#a8a8a8"/>
<circle cx="593.84" cy="739.18" r="1.3" fill="#a8a8a8"/>
<circle cx="547.21" cy="733.12" r="1.3" fill="#a8a8a8"/>
<circle cx="613.83" cy="751.33" r="1.3" fill="#a8a8a8"/>
<circle cx="595.01" cy="756.13" r="1.3" fill="#a8a8a8"/>
<circle cx="632.67" cy="754.63" r="1.3" fill="#a8a8a8"/>
<circle cx="707.84" cy="734.59" r="1.3" fill="#a8a8a8"/>
<circle cx="580.18" cy="753.64" r="1.3" fill="#a8a8a8"/>
<circle cx="692.96" cy="758.09" r="1.3" fill="#a8a8a8"/>
<circle cx="588.05" cy="760.19" r="1.3" fill="#a8a8a8"/>
<circle cx="519.04" cy="759.05" r="1.3" fill="#a8a8a8"/>
<circle cx="723.93" cy="754.19" r="1.3" fill="#a8a8a8"/>
<circle cx="687.95" cy="748.06" r="1.3" fill="#a8a8a8"/>
<circle cx="635.27" cy="747.84" r="1.3" fill="#a8a8a8"/>
<circle cx="634.4" cy="732.69" r="1.3" fill="#a8a8a8"/>
<circle cx="543.28" cy="758.85" r="1.3" fill="#a8a8a8"/>
<circle cx="508.44" cy="734.23" r="1.3" fill="#a8a8a8"/>
<circle cx="602.81" cy="761.13" r="1.3" fill="#a8a8a8"/>
<circle cx="531.98" cy="752.36" r="1.3" fill="#a8a8a8"/>
<circle cx="595.62" cy="757.21" r="1.3" fill="#a8a8a8"/>
<circle cx="614.8" cy="740.99" r="1.3" fill="#a8a8a8"/>
<circle cx="650.57" cy="733.26" r="1.3" fill="#a8a8a8"/>
<circle cx="522.66" cy="739.52" r="1.3" fill="#a8a8a8"/>
<circle cx="603.49" cy="731.66" r="1.3" fill="#a8a8a8"/>
<circle cx="694.33" cy="746.93" r="1.3" fill="#a8a8a8"/>
<circle cx="642.07" cy="728.09" r="1.3" fill="#a8a8a8"/>
<circle cx="609.99" cy="730.84" r="1.3" fill="#a8a8a8"/>
<circle cx="595.06" cy="758.74" r="1.3" fill="#a8a8a8"/>
<circle cx="503.04" cy="744.67" r="1.3" fill="#a8a8a8"/>
<circle cx="612.58" cy="731.38" r="1.3" fill="#a8a8a8"/>
<circle cx="635.27" cy="748.99" r="1.3" fill="#a8a8a8"/>
<circle cx="695.26" cy="753.41" r="1.3" fill="#a8a8a8"/>
<circle cx="632.03" cy="735.8" r="1.3" fill="#a8a8a8"/>
<circle cx="542.75" cy="741.82" r="1.3" fill="#a8a8a8"/>
<circle cx="580.28" cy="736.23" r="1.3" fill="#a8a8a8"/>
<circle cx="680.34" cy="745.49" r="1.3" fill="#a8a8a8"/>
<circle cx="615.39" cy="755.18" r="1.3" fill="#a8a8a8"/>
<circle cx="635.47" cy="747.14" r="1.3" fill="#a8a8a8"/>
<circle cx="663.7" cy="752.05" r="1.3" fill="#a8a8a8"/>
<circle cx="537.02" cy="760.98" r="1.3" fill="#a8a8a8"/>
<circle cx="587.6" cy="727.33" r="1.3" fill="#a8a8a8"/>
<circle cx="673.91" cy="749.79" r="1.3" fill="#a8a8a8"/>
<circle cx="561.54" cy="761.12" r="1.3" fill="#a8a8a8"/>
<circle cx="592.08" cy="733.9" r="1.3" fill="#a8a8a8"/>
<circle cx="645.4" cy="754.82" r="1.3" fill="#a8a8a8"/>
<circle cx="729.58" cy="743.62" r="1.3" fill="#a8a8a8"/>
<circle cx="686.5" cy="755.3" r="1.3" fill="#a8a8a8"/>
<circle cx="651.13" cy="744.19" r="1.3" fill="#a8a8a8"/>
<circle cx="572.41" cy="748.57" r="1.3" fill="#a8a8a8"/>
<circle cx="645.79" cy="747.55" r="1.3" fill="#a8a8a8"/>
<circle cx="588.46" cy="752.74" r="1.3" fill="#a8a8a8"/>
<circle cx="516.83" cy="739.95" r="1.3" fill="#a8a8a8"/>
<circle cx="631" cy="754.16" r="1.3" fill="#a8a8a8"/>
<circle cx="737.75" cy="758.76" r="1.3" fill="#a8a8a8"/>
<circle cx="668.7" cy="757.48" r="1.3" fill="#a8a8a8"/>
<circle cx="743.57" cy="729.83" r="1.3" fill="#a8a8a8"/>
<circle cx="600.45" cy="732.17" r="1.3" fill="#a8a8a8"/>
<circle cx="712.07" cy="755.46" r="1.3" fill="#a8a8a8"/>
<circle cx="622.66" cy="737.26" r="1.3" fill="#a8a8a8"/>
<circle cx="723.27" cy="734.62" r="1.3" fill="#a8a8a8"/>
<circle cx="650.39" cy="751.44" r="1.3" fill="#a8a8a8"/>
<circle cx="700.25" cy="734.61" r="1.3" fill="#a8a8a8"/>
<circle cx="609.82" cy="749.27" r="1.3" fill="#a8a8a8"/>
<circle cx="580.48" cy="739.72" r="1.3" fill="#a8a8a8"/>
<circle cx="643.01" cy="729.16" r="1.3" fill="#a8a8a8"/>
<circle cx="662.79" cy="750.88" r="1.3" fill="#a8a8a8"/>
<circle cx="604.46" cy="757.14" r="1.3" fill="#a8a8a8"/>
<circle cx="647.42" cy="749.46" r="1.3" fill="#a8a8a8"/>
<circle cx="728.41" cy="747.42" r="1.3" fill="#a8a8a8"/>
<circle cx="644.25" cy="742.29" r="1.3" fill="#a8a8a8"/>
<circle cx="630.65" cy="739.91" r="1.3" fill="#a8a8a8"/>
<circle cx="574.41" cy="739.63" r="1.3" fill="#a8a8a8"/>
<circle cx="565.78" cy="738.98" r="1.3" fill="#a8a8a8"/>
<circle cx="633.97" cy="742.74" r="1.3" fill="#a8a8a8"/>
<circle cx="544.58" cy="744.67" r="1.3" fill="#a8a8a8"/>
<circle cx="649.11" cy="727.88" r="1.3" fill="#a8a8a8"/>
<circle cx="737.48" cy="749.07" r="1.3" fill="#a8a8a8"/>
<circle cx="589.81" cy="747.15" r="1.3" fill="#a8a8a8"/>
<circle cx="643.32" cy="747.02" r="1.3" fill="#a8a8a8"/>
<circle cx="691.82" cy="732.81" r="1.3" fill="#a8a8a8"/>
<circle cx="667.99" cy="754.37" r="1.3" fill="#a8a8a8"/>
<circle cx="605.96" cy="734.52" r="1.3" fill="#a8a8a8"/>
<circle cx="679.47" cy="728.84" r="1.3" fill="#a8a8a8"/>
<circle cx="644.83" cy="748.42" r="1.3" fill="#a8a8a8"/>
<circle cx="663.53" cy="756.01" r="1.3" fill="#a8a8a8"/>
<circle cx="636.64" cy="745.37" r="1.3" fill="#a8a8a8"/>
<circle cx="660.48" cy="731.13" r="1.3" fill="#a8a8a8"/>
<circle cx="545.81" cy="734.11" r="1.3" fill="#a8a8a8"/>
<circle cx="689.16" cy="750.99" r="1.3" fill="#a8a8a8"/>
<circle cx="606.3" cy="735.45" r="1.3" fill="#a8a8a8"/>
<circle cx="625.07" cy="747.58" r="1.3" fill="#a8a8a8"/>
<circle cx="665.14" cy="746.81" r="1.3" fill="#a8a8a8"/>
<circle cx="654.68" cy="755.02" r="1.3" fill="#a8a8a8"/>
<circle cx="541.94" cy="727.51" r="1.3" fill="#a8a8a8"/>
<circle cx="619.74" cy="737.49" r="1.3" fill="#a8a8a8"/>
<circle cx="575.22" cy="739.36" r="1.3" fill="#a8a8a8"/>
<circle cx="754.06" cy="753.88" r="1.3" fill="#a8a8a8"/>
<circle cx="701.28" cy="757.51" r="1.3" fill="#a8a8a8"/>
<circle cx="646.6" cy="753.42" r="1.3" fill="#a8a8a8"/>
<circle cx="597.31" cy="758.69" r="1.3" fill="#a8a8a8"/>
<circle cx="612.69" cy="729.91" r="1.3" fill="#a8a8a8"/>
<circle cx="734.26" cy="751.67" r="1.3" fill="#a8a8a8"/>
<circle cx="608.04" cy="745.24" r="1.3" fill="#a8a8a8"/>
<circle cx="659.93" cy="749.77" r="1.3" fill="#a8a8a8"/>
<circle cx="679.03" cy="749.5" r="1.3" fill="#a8a8a8"/>
<circle cx="547.05" cy="729.02" r="1.3" fill="#a8a8a8"/>
<circle cx="701.54" cy="736.97" r="1.3" fill="#a8a8a8"/>
<circle cx="676.85" cy="754.16" r="1.3" fill="#a8a8a8"/>
<circle cx="660.37" cy="752.82" r="1.3" fill="#a8a8a8"/>
<circle cx="662.23" cy="731.01" r="1.3" fill="#a8a8a8"/>
<circle cx="673.53" cy="749.7" r="1.3" fill="#a8a8a8"/>
<circle cx="589.82" cy="739.92" r="1.3" fill="#a8a8a8"/>
<circle cx="646.9" cy="756.62" r="1.3" fill="#a8a8a8"/>
<circle cx="547.92" cy="748.54" r="1.3" fill="#a8a8a8"/>
<circle cx="673.64" cy="743.3" r="1.3" fill="#a8a8a8"/>
<circle cx="576.83" cy="733.94" r="1.3" fill="#a8a8a8"/>
<circle cx="611.12" cy="744.01" r="1.3" fill="#a8a8a8"/>
<circle cx="612.92" cy="733.54" r="1.3" fill="#a8a8a8"/>
<circle cx="682.71" cy="758.25" r="1.3" fill="#a8a8a8"/>
<circle cx="594.86" cy="728.28" r="1.3" fill="#a8a8a8"/>
<circle cx="649.66" cy="734.48" r="1.3" fill="#a8a8a8"/>
<circle cx="668.74" cy="749.88" r="1.3" fill="#a8a8a8"/>
<circle cx="590.58" cy="735.04" r="1.3" fill="#a8a8a8"/>
<circle cx="592.24" cy="752.24" r="1.3" fill="#a8a8a8"/>
<circle cx="577.11" cy="745.17" r="1.3" fill="#a8a8a8"/>
<circle cx="596.2" cy="747.4" r="1.3" fill="#a8a8a8"/>
<circle cx="666.16" cy="755.48" r="1.3" fill="#a8a8a8"/>
<circle cx="606.22" cy="738.37" r="1.3" fill="#a8a8a8"/>
<circle cx="566.12" cy="757.51" r="1.3" fill="#a8a8a8"/>
<circle cx="650.74" cy="750.29" r="1.3" fill="#a8a8a8"/>
<circle cx="603.08" cy="753.45" r="1.3" fill="#a8a8a8"/>
<circle cx="560.42" cy="757.09" r="1.3" fill="#a8a8a8"/>
<circle cx="490.52" cy="735.57" r="1.3" fill="#a8a8a8"/>
<circle cx="685.62" cy="740.11" r="1.3" fill="#a8a8a8"/>
<circle cx="630.15" cy="760.4" r="1.3" fill="#a8a8a8"/>
<circle cx="661.67" cy="748.48" r="1.3" fill="#a8a8a8"/>
<circle cx="684.39" cy="736.48" r="1.3" fill="#a8a8a8"/>
<circle cx="619.68" cy="748.03" r="1.3" fill="#a8a8a8"/>
<circle cx="739.14" cy="752.49" r="1.3" fill="#a8a8a8"/>
<circle cx="661.98" cy="757.58" r="1.3" fill="#a8a8a8"/>
<circle cx="511.38" cy="755.19" r="1.3" fill="#a8a8a8"/>
<circle cx="702.38" cy="751.05" r="1.3" fill="#a8a8a8"/>
<circle cx="621.57" cy="744.67" r="1.3" fill="#a8a8a8"/>
<circle cx="718.64" cy="741.84" r="1.3" fill="#a8a8a8"/>
<circle cx="614.19" cy="749.78" r="1.3" fill="#a8a8a8"/>
<circle cx="622.32" cy="740.33" r="1.3" fill="#a8a8a8"/>
<circle cx="662.13" cy="731.85" r="1.3" fill="#a8a8a8"/>
<circle cx="658.14" cy="742.65" r="1.3" fill="#a8a8a8"/>
<circle cx="631.94" cy="753.15" r="1.3" fill="#a8a8a8"/>
<circle cx="714.09" cy="730.98" r="1.3" fill="#a8a8a8"/>
<circle cx="657.33" cy="744.55" r="1.3" fill="#a8a8a8"/>
<circle cx="612.45" cy="751.41" r="1.3" fill="#a8a8a8"/>
<circle cx="694.85" cy="741.26" r="1.3" fill="#a8a8a8"/>
<circle cx="554.65" cy="731.14" r="1.3" fill="#a8a8a8"/>
<circle cx="693.24" cy="739.06" r="1.3" fill="#a8a8a8"/>
<circle cx="596.74" cy="760.5" r="1.3" fill="#a8a8a8"/>
<circle cx="520.71" cy="735.94" r="1.3" fill="#a8a8a8"/>
<circle cx="593.95" cy="751.06" r="1.3" fill="#a8a8a8"/>
<circle cx="593.86" cy="755.97" r="1.3" fill="#a8a8a8"/>
<circle cx="668.36" cy="759.03" r="1.3" fill="#a8a8a8"/>
<circle cx="673.39" cy="739.18" r="1.3" fill="#a8a8a8"/>
<circle cx="555.21" cy="736.68" r="1.3" fill="#a8a8a8"/>
<circle cx="548.05" cy="753.84" r="1.3" fill="#a8a8a8"/>
<circle cx="686.92" cy="732.87" r="1.3" fill="#a8a8a8"/>
<circle cx="632.53" cy="738.96" r="1.3" fill="#a8a8a8"/>
<circle cx="634.44" cy="754.51" r="1.3" fill="#a8a8a8"/>
<circle cx="644.72" cy="733.1" r="1.3" fill="#a8a8a8"/>
<circle cx="561.76" cy="756.08" r="1.3" fill="#a8a8a8"/>
<circle cx="596.84" cy="756" r="1.3" fill="#a8a8a8"/>
<circle cx="604.47" cy="753.07" r="1.3" fill="#a8a8a8"/>
<circle cx="605.57" cy="730.52" r="1.3" fill="#a8a8a8"/>
<circle cx="678.47" cy="735.79" r="1.3" fill="#a8a8a8"/>
<circle cx="608.53" cy="734.56" r="1.3" fill="#a8a8a8"/>
<circle cx="545.42" cy="756.27" r="1.3" fill="#a8a8a8"/>
<circle cx="696.89" cy="752.57" r="1.3" fill="#a8a8a8"/>
<circle cx="625.35" cy="738.12" r="1.3" fill="#a8a8a8"/>
<circle cx="586" cy="737.54" r="1.3" fill="#a8a8a8"/>
<circle cx="517.69" cy="761.06" r="1.3" fill="#a8a8a8"/>
<circle cx="681.82" cy="730.05" r="1.3" fill="#a8a8a8"/>
<circle cx="601.11" cy="742.87" r="1.3" fill="#a8a8a8"/>
<circle cx="593.66" cy="733.55" r="1.3" fill="#a8a8a8"/>
<circle cx="531.18" cy="748.14" r="1.3" fill="#a8a8a8"/>
<circle cx="756.18" cy="758.19" r="1.3" fill="#a8a8a8"/>
<circle cx="616.83" cy="730.08" r="1.3" fill="#a8a8a8"/>
<circle cx="615.75" cy="758.11" r="1.3" fill="#a8a8a8"/>
<circle cx="562.54" cy="732.87" r="1.3" fill="#a8a8a8"/>
<circle cx="601.77" cy="754.55" r="1.3" fill="#a8a8a8"/>
<circle cx="621.93" cy="751.77" r="1.3" fill="#a8a8a8"/>
<circle cx="682.78" cy="732.01" r="1.3" fill="#a8a8a8"/>
<circle cx="641.48" cy="748.81" r="1.3" fill="#a8a8a8"/>
<circle cx="616.23" cy="759.53" r="1.3" fill="#a8a8a8"/>
<circle cx="615.26" cy="760.02" r="1.3" fill="#a8a8a8"/>
<circle cx="557" cy="739.56" r="1.3" fill="#a8a8a8"/>
<circle cx="660.29" cy="747.81" r="1.3" fill="#a8a8a8"/>
<circle cx="578.43" cy="752.69" r="1.3" fill="#a8a8a8"/>
<circle cx="670.46" cy="733.54" r="1.3" fill="#a8a8a8"/>
<circle cx="600.3" cy="734.85" r="1.3" fill="#a8a8a8"/>
<circle cx="730.17" cy="729.54" r="1.3" fill="#a8a8a8"/>
<circle cx="661.82" cy="741.18" r="1.3" fill="#a8a8a8"/>
<circle cx="612.28" cy="737.86" r="1.3" fill="#a8a8a8"/>
<circle cx="627.09" cy="745.47" r="1.3" fill="#a8a8a8"/>
<circle cx="688" cy="731.15" r="1.3" fill="#a8a8a8"/>
<circle cx="611.93" cy="729.88" r="1.3" fill="#a8a8a8"/>
<circle cx="627.17" cy="734.07" r="1.3" fill="#a8a8a8"/>
<circle cx="634.66" cy="737.1" r="1.3" fill="#a8a8a8"/>
<circle cx="686.94" cy="755.65" r="1.3" fill="#a8a8a8"/>
<circle cx="593.52" cy="753.43" r="1.3" fill="#a8a8a8"/>
<circle cx="573.4" cy="750.52" r="1.3" fill="#a8a8a8"/>
<circle cx="597.55" cy="752.55" r="1.3" fill="#a8a8a8"/>
<circle cx="708.65" cy="745.37" r="1.3" fill="#a8a8a8"/>
<circle cx="632.63" cy="758.75" r="1.3" fill="#a8a8a8"/>
<circle cx="544.9" cy="736.18" r="1.3" fill="#a8a8a8"/>
<circle cx="552.05" cy="745.16" r="1.3" fill="#a8a8a8"/>
<circle cx="483.74" cy="757.98" r="1.3" fill="#a8a8a8"/>
<circle cx="712.29" cy="736.22" r="1.3" fill="#a8a8a8"/>
<circle cx="686.11" cy="752.71" r="1.3" fill="#a8a8a8"/>
<circle cx="564.31" cy="735.65" r="1.3" fill="#a8a8a8"/>
<circle cx="666.19" cy="735.94" r="1.3" fill="#a8a8a8"/>
<circle cx="689.41" cy="748.58" r="1.3" fill="#a8a8a8"/>
<circle cx="565.72" cy="731.14" r="1.3" fill="#a8a8a8"/>
<circle cx="588.41" cy="734.11" r="1.3" fill="#a8a8a8"/>
<circle cx="539.67" cy="744.56" r="1.3" fill="#a8a8a8"/>
<circle cx="609.08" cy="746.04" r="1.3" fill="#a8a8a8"/>
<circle cx="735.81" cy="735.26" r="1.3" fill="#a8a8a8"/>
<circle cx="611.44" cy="741.83" r="1.3" fill="#a8a8a8"/>
<circle cx="550.21" cy="750.15" r="1.3" fill="#a8a8a8"/>
<circle cx="676.02" cy="736.07" r="1.3" fill="#a8a8a8"/>
<circle cx="608.31" cy="727.72" r="1.3" fill="#a8a8a8"/>
<circle cx="570.64" cy="737.12" r="1.3" fill="#a8a8a8"/>
<circle cx="602.35" cy="750" r="1.3" fill="#a8a8a8"/>
<circle cx="659.5" cy="760.94" r="1.3" fill="#a8a8a8"/>
<circle cx="709.43" cy="756.35" r="1.3" fill="#a8a8a8"/>
<circle cx="595.39" cy="743.92" r="1.3" fill="#a8a8a8"/>
<circle cx="520.72" cy="729.23" r="1.3" fill="#a8a8a8"/>
<circle cx="564.37" cy="739.52" r="1.3" fill="#a8a8a8"/>
<circle cx="592.08" cy="741.75" r="1.3" fill="#a8a8a8"/>
<circle cx="670.89" cy="729.14" r="1.3" fill="#a8a8a8"/>
<circle cx="565.32" cy="735.16" r="1.3" fill="#a8a8a8"/>
<circle cx="493.25" cy="733.52" r="1.3" fill="#a8a8a8"/>
<circle cx="576.03" cy="734.9" r="1.3" fill="#a8a8a8"/>
<circle cx="725.1" cy="753.41" r="1.3" fill="#a8a8a8"/>
<circle cx="669.56" cy="751.72" r="1.3" fill="#a8a8a8"/>
<circle cx="703.82" cy="750.11" r="1.3" fill="#a8a8a8"/>
<circle cx="708.62" cy="756.03" r="1.3" fill="#a8a8a8"/>
<circle cx="511.25" cy="747.63" r="1.3" fill="#a8a8a8"/>
<circle cx="645.67" cy="732.93" r="1.3" fill="#a8a8a8"/>
<circle cx="541.03" cy="742.97" r="1.3" fill="#a8a8a8"/>
<circle cx="699.53" cy="728.62" r="1.3" fill="#a8a8a8"/>
<circle cx="651.04" cy="747.12" r="1.3" fill="#a8a8a8"/>
<circle cx="665.08" cy="749.09" r="1.3" fill="#a8a8a8"/>
<circle cx="572.51" cy="759.94" r="1.3" fill="#a8a8a8"/>
<circle cx="651.23" cy="738.86" r="1.3" fill="#a8a8a8"/>
<circle cx="611.84" cy="744.68" r="1.3" fill="#a8a8a8"/>
<circle cx="594.83" cy="733.31" r="1.3" fill="#a8a8a8"/>
<circle cx="673.12" cy="731.11" r="1.3" fill="#a8a8a8"/>
<circle cx="667.39" cy="740.16" r="1.3" fill="#a8a8a8"/>
<circle cx="587.13" cy="754.25" r="1.3" fill="#a8a8a8"/>
<circle cx="568.14" cy="743.43" r="1.3" fill="#a8a8a8"/>
<circle cx="716.22" cy="740.87" r="1.3" fill="#a8a8a8"/>
<circle cx="680.85" cy="752.75" r="1.3" fill="#a8a8a8"/>
<circle cx="704.75" cy="735.71" r="1.3" fill="#a8a8a8"/>
<circle cx="619.81" cy="739.37" r="1.3" fill="#a8a8a8"/>
<circle cx="577.76" cy="730.65" r="1.3" fill="#a8a8a8"/>
<circle cx="631.75" cy="740.75" r="1.3" fill="#a8a8a8"/>
<circle cx="568.82" cy="753.1" r="1.3" fill="#a8a8a8"/>
<circle cx="537.95" cy="757.26" r="1.3" fill="#a8a8a8"/>
<circle cx="651.16" cy="749.11" r="1.3" fill="#a8a8a8"/>
<circle cx="571.67" cy="729.04" r="1.3" fill="#a8a8a8"/>
<circle cx="657.42" cy="736.22" r="1.3" fill="#a8a8a8"/>
<circle cx="539.16" cy="743.26" r="1.3" fill="#a8a8a8"/>
<circle cx="616.47" cy="741.71" r="1.3" fill="#a8a8a8"/>
<circle cx="738.9" cy="753.75" r="1.3" fill="#a8a8a8"/>
<circle cx="725.2" cy="740.12" r="1.3" fill="#a8a8a8"/>
<circle cx="582.56" cy="738.84" r="1.3" fill="#a8a8a8"/>
<circle cx="755.92" cy="733.65" r="1.3" fill="#a8a8a8"/>
<circle cx="587.1" cy="739.52" r="1.3" fill="#a8a8a8"/>
<circle cx="655.61" cy="736.83" r="1.3" fill="#a8a8a8"/>
<circle cx="531.64" cy="742.37" r="1.3" fill="#a8a8a8"/>
<circle cx="657.03" cy="736.52" r="1.3" fill="#a8a8a8"/>
<circle cx="624.93" cy="749.79" r="1.3" fill="#a8a8a8"/>
<circle cx="754.82" cy="743.16" r="1.3" fill="#a8a8a8"/>
<circle cx="550.08" cy="754.07" r="1.3" fill="#a8a8a8"/>
<circle cx="685" cy="734.93" r="1.3" fill="#a8a8a8"/>
<circle cx="621.82" cy="736.03" r="1.3" fill="#a8a8a8"/>
<circle cx="638.04" cy="745.79" r="1.3" fill="#a8a8a8"/>
<circle cx="598.5" cy="758.81" r="1.3" fill="#a8a8a8"/>
<circle cx="657.27" cy="745.22" r="1.3" fill="#a8a8a8"/>
<circle cx="713.13" cy="760.05" r="1.3" fill="#a8a8a8"/>
<circle cx="560.61" cy="757.92" r="1.3" fill="#a8a8a8"/>
<circle cx="625.27" cy="752.78" r="1.3" fill="#a8a8a8"/>
<circle cx="698.66" cy="740.77" r="1.3" fill="#a8a8a8"/>
<circle cx="718.36" cy="760.14" r="1.3" fill="#a8a8a8"/>
<circle cx="700.5" cy="741.35" r="1.3" fill="#a8a8a8"/>
<circle cx="614.9" cy="734.92" r="1.3" fill="#a8a8a8"/>
<circle cx="624.46" cy="732.92" r="1.3" fill="#a8a8a8"/>
<circle cx="672.16" cy="752.03" r="1.3" fill="#a8a8a8"/>
<circle cx="709.47" cy="747.53" r="1.3" fill="#a8a8a8"/>
<circle cx="657.41" cy="752.21" r="1.3" fill="#a8a8a8"/>
<circle cx="503.9" cy="736.76" r="1.3" fill="#a8a8a8"/>
<circle cx="573.83" cy="730.37" r="1.3" fill="#a8a8a8"/>
<circle cx="589.28" cy="760.8" r="1.3" fill="#a8a8a8"/>
<circle cx="607.3" cy="758.54" r="1.3" fill="#a8a8a8"/>
<circle cx="587.09" cy="735.51" r="1.3" fill="#a8a8a8"/>
<circle cx="524.46" cy="743.69" r="1.3" fill="#a8a8a8"/>
<circle cx="589.65" cy="739.91" r="1.3" fill="#a8a8a8"/>
<circle cx="668.97" cy="743.44" r="1.3" fill="#a8a8a8"/>
<circle cx="623.44" cy="745.54" r="1.3" fill="#a8a8a8"/>
<circle cx="619.91" cy="731.55" r="1.3" fill="#a8a8a8"/>
<circle cx="707.08" cy="747.23" r="1.3" fill="#a8a8a8"/>
<circle cx="616.17" cy="737.91" r="1.3" fill="#a8a8a8"/>
<circle cx="604.91" cy="758.14" r="1.3" fill="#a8a8a8"/>
<circle cx="538.94" cy="746.94" r="1.3" fill="#a8a8a8"/>
<circle cx="620.61" cy="728.91" r="1.3" fill="#a8a8a8"/>
<circle cx="716.48" cy="752.5" r="1.3" fill="#a8a8a8"/>
<circle cx="597.36" cy="731.69" r="1.3" fill="#a8a8a8"/>
<circle cx="722.44" cy="747.52" r="1.3" fill="#a8a8a8"/>
<circle cx="639.37" cy="736.17" r="1.3" fill="#a8a8a8"/>
<circle cx="645.81" cy="756.05" r="1.3" fill="#a8a8a8"/>
<circle cx="574.47" cy="754.07" r="1.3" fill="#a8a8a8"/>
<circle cx="679.06" cy="760.46" r="1.3" fill="#a8a8a8"/>
<circle cx="625.88" cy="753.78" r="1.3" fill="#a8a8a8"/>
<circle cx="725.02" cy="754.19" r="1.3" fill="#a8a8a8"/>
<circle cx="591.72" cy="753.85" r="1.3" fill="#a8a8a8"/>
<circle cx="688.06" cy="735.73" r="1.3" fill="#a8a8a8"/>
<circle cx="545.15" cy="756.14" r="1.3" fill="#a8a8a8"/>
<circle cx="639.01" cy="735.49" r="1.3" fill="#a8a8a8"/>
<circle cx="609.61" cy="732.53" r="1.3" fill="#a8a8a8"/>
<circle cx="594.47" cy="743.42" r="1.3" fill="#a8a8a8"/>
<circle cx="579.01" cy="759.43" r="1.3" fill="#a8a8a8"/>
<circle cx="561.4" cy="732.79" r="1.3" fill="#a8a8a8"/>
<circle cx="562.74" cy="736" r="1.3" fill="#a8a8a8"/>
<circle cx="618.04" cy="758.4" r="1.3" fill="#a8a8a8"/>
<circle cx="660.59" cy="728.57" r="1.3" fill="#a8a8a8"/>
<circle cx="668.51" cy="749.08" r="1.3" fill="#a8a8a8"/>
<circle cx="607.47" cy="758.54" r="1.3" fill="#a8a8a8"/>
<circle cx="594.94" cy="748.78" r="1.3" fill="#a8a8a8"/>
<circle cx="674.83" cy="756.21" r="1.3" fill="#a8a8a8"/>
<circle cx="583.6" cy="731.63" r="1.3" fill="#a8a8a8"/>
<circle cx="743.68" cy="739.03" r="1.3" fill="#a8a8a8"/>
<circle cx="498.62" cy="737.36" r="1.3" fill="#a8a8a8"/>
<circle cx="705.46" cy="740.32" r="1.3" fill="#a8a8a8"/>
<circle cx="661.21" cy="733.44" r="1.3" fill="#a8a8a8"/>
<circle cx="740.12" cy="756.02" r="1.3" fill="#a8a8a8"/>
<circle cx="589.59" cy="757" r="1.3" fill="#a8a8a8"/>
<circle cx="696.13" cy="736.27" r="1.3" fill="#a8a8a8"/>
<circle cx="545.92" cy="746.84" r="1.3" fill="#a8a8a8"/>
<circle cx="615.74" cy="741.05" r="1.3" fill="#a8a8a8"/>
<circle cx="599" cy="732.47" r="1.3" fill="#a8a8a8"/>
<circle cx="589.16" cy="727.5" r="1.3" fill="#a8a8a8"/>
<circle cx="568.5" cy="754.39" r="1.3" fill="#a8a8a8"/>
<circle cx="582.09" cy="732.53" r="1.3" fill="#a8a8a8"/>
<circle cx="600.01" cy="745.05" r="1.3" fill="#a8a8a8"/>
<circle cx="571.93" cy="755.47" r="1.3" fill="#a8a8a8"/>
<circle cx="566.46" cy="749.15" r="1.3" fill="#a8a8a8"/>
<circle cx="623.47" cy="732.23" r="1.3" fill="#a8a8a8"/>
<circle cx="682.61" cy="728.64" r="1.3" fill="#a8a8a8"/>
<circle cx="578.45" cy="743.57" r="1.3" fill="#a8a8a8"/>
<circle cx="574.38" cy="741.69" r="1.3" fill="#a8a8a8"/>
<circle cx="617.39" cy="736.87" r="1.3" fill="#a8a8a8"/>
<circle cx="676.94" cy="743.2" r="1.3" fill="#a8a8a8"/>
<circle cx="636.43" cy="750.1" r="1.3" fill="#a8a8a8"/>
<circle cx="681.52" cy="751.94" r="1.3" fill="#a8a8a8"/>
<circle cx="653.73" cy="738.91" r="1.3" fill="#a8a8a8"/>
<circle cx="674.58" cy="742.04" r="1.3" fill="#a8a8a8"/>
<circle cx="717.12" cy="750.83" r="1.3" fill="#a8a8a8"/>
<circle cx="520.17" cy="744.61" r="1.3" fill="#a8a8a8"/>
<circle cx="642.29" cy="760.35" r="1.3" fill="#a8a8a8"/>
<circle cx="668.95" cy="743.87" r="1.3" fill="#a8a8a8"/>
<circle cx="541.25" cy="747.93" r="1.3" fill="#a8a8a8"/>
<circle cx="613.89" cy="757.28" r="1.3" fill="#a8a8a8"/>
<circle cx="648.28" cy="754.65" r="1.3" fill="#a8a8a8"/>
<circle cx="644.11" cy="745.93" r="1.3" fill="#a8a8a8"/>
<circle cx="511.13" cy="761.01" r="1.3" fill="#a8a8a8"/>
<circle cx="659.97" cy="729.94" r="1.3" fill="#a8a8a8"/>
<circle cx="573.93" cy="755.03" r="1.3" fill="#a8a8a8"/>
<circle cx="686.19" cy="744.91" r="1.3" fill="#a8a8a8"/>
<circle cx="646.03" cy="750.22" r="1.3" fill="#a8a8a8"/>
<circle cx="574.1" cy="754.28" r="1.3" fill="#a8a8a8"/>
<circle cx="621.14" cy="749.54" r="1.3" fill="#a8a8a8"/>
<circle cx="623.89" cy="727.2" r="1.3" fill="#a8a8a8"/>
<circle cx="621.44" cy="753.16" r="1.3" fill="#a8a8a8"/>
<circle cx="659.74" cy="732.92" r="1.3" fill="#a8a8a8"/>
<circle cx="626.72" cy="734.24" r="1.3" fill="#a8a8a8"/>
<circle cx="608.06" cy="750.83" r="1.3" fill="#a8a8a8"/>
<circle cx="652.18" cy="748.09" r="1.3" fill="#a8a8a8"/>
<circle cx="620.53" cy="740.71" r="1.3" fill="#a8a8a8"/>
<circle cx="613.63" cy="727.77" r="1.3" fill="#a8a8a8"/>
<circle cx="614.3" cy="729.88" r="1.3" fill="#a8a8a8"/>
<circle cx="686.17" cy="748.02" r="1.3" fill="#a8a8a8"/>
<circle cx="586.46" cy="731.74" r="1.3" fill="#a8a8a8"/>
<circle cx="579.76" cy="733.93" r="1.3" fill="#a8a8a8"/>
<circle cx="510.53" cy="753.74" r="1.3" fill="#a8a8a8"/>
<circle cx="741.54" cy="746.44" r="1.3" fill="#a8a8a8"/>
<circle cx="476.39" cy="749.13" r="1.3" fill="#a8a8a8"/>
<circle cx="571.57" cy="737.76" r="1.3" fill="#a8a8a8"/>
<circle cx="719.25" cy="748.4" r="1.3" fill="#a8a8a8"/>
<circle cx="502.63" cy="753.97" r="1.3" fill="#a8a8a8"/>
<circle cx="499.9" cy="730.46" r="1.3" fill="#a8a8a8"/>
<circle cx="656.65" cy="740.67" r="1.3" fill="#a8a8a8"/>
<circle cx="682.71" cy="751.57" r="1.3" fill="#a8a8a8"/>
<circle cx="626.52" cy="742.57" r="1.3" fill="#a8a8a8"/>
<circle cx="709.2" cy="737.58" r="1.3" fill="#a8a8a8"/>
<circle cx="590.52" cy="760.51" r="1.3" fill="#a8a8a8"/>
<circle cx="580.47" cy="731.59" r="1.3" fill="#a8a8a8"/>
<circle cx="701.18" cy="742.81" r="1.3" fill="#a8a8a8"/>
<circle cx="579.68" cy="729.85" r="1.3" fill="#a8a8a8"/>
<circle cx="564.86" cy="739.09" r="1.3" fill="#a8a8a8"/>
<circle cx="543.51" cy="751.43" r="1.3" fill="#a8a8a8"/>
<circle cx="605.25" cy="756.42" r="1.3" fill="#a8a8a8"/>
<circle cx="626.01" cy="737.8" r="1.3" fill="#a8a8a8"/>
<circle cx="528.74" cy="756.98" r="1.3" fill="#a8a8a8"/>
<circle cx="644.02" cy="756.23" r="1.3" fill="#a8a8a8"/>
<circle cx="551.64" cy="732.4" r="1.3" fill="#a8a8a8"/>
<circle cx="718.72" cy="745.96" r="1.3" fill="#a8a8a8"/>
<circle cx="519.78" cy="751.76" r="1.3" fill="#a8a8a8"/>
<circle cx="681.67" cy="749.61" r="1.3" fill="#a8a8a8"/>
<circle cx="652.3" cy="742.3" r="1.3" fill="#a8a8a8"/>
<circle cx="578.93" cy="730.7" r="1.3" fill="#a8a8a8"/>
<circle cx="607.19" cy="752.07" r="1.3" fill="#a8a8a8"/>
<circle cx="664.08" cy="731.6" r="1.3" fill="#a8a8a8"/>
<circle cx="702.37" cy="742.37" r="1.3" fill="#a8a8a8"/>
<circle cx="589.18" cy="731.26" r="1.3" fill="#a8a8a8"/>
<circle cx="557.05" cy="732.1" r="1.3" fill="#a8a8a8"/>
<circle cx="657.16" cy="760.4" r="1.3" fill="#a8a8a8"/>
<circle cx="589.45" cy="736.89" r="1.3" fill="#a8a8a8"/>
<circle cx="681.24" cy="739.89" r="1.3" fill="#a8a8a8"/>
<circle cx="611.44" cy="729.64" r="1.3" fill="#a8a8a8"/>
<circle cx="749.33" cy="739.6" r="1.3" fill="#a8a8a8"/>
<circle cx="574.23" cy="738.23" r="1.3" fill="#a8a8a8"/>
<circle cx="591.14" cy="743.66" r="1.3" fill="#a8a8a8"/>
<circle cx="679.57" cy="742" r="1.3" fill="#a8a8a8"/>
<circle cx="651.29" cy="753.27" r="1.3" fill="#a8a8a8"/>
<circle cx="574.03" cy="749.44" r="1.3" fill="#a8a8a8"/>
<circle cx="658.1" cy="736.61" r="1.3" fill="#a8a8a8"/>
<circle cx="593.08" cy="748.18" r="1.3" fill="#a8a8a8"/>
<circle cx="618.8" cy="745.53" r="1.3" fill="#a8a8a8"/>
<circle cx="560.72" cy="754.23" r="1.3" fill="#a8a8a8"/>
<circle cx="528.82" cy="760.81" r="1.3" fill="#a8a8a8"/>
<circle cx="647.14" cy="742.32" r="1.3" fill="#a8a8a8"/>
<circle cx="586.3" cy="758.52" r="1.3" fill="#a8a8a8"/>
<circle cx="681.25" cy="759.65" r="1.3" fill="#a8a8a8"/>
<circle cx="648.77" cy="731.24" r="1.3" fill="#a8a8a8"/>
<circle cx="582.65" cy="734.13" r="1.3" fill="#a8a8a8"/>
<circle cx="586.66" cy="729.43" r="1.3" fill="#a8a8a8"/>
<circle cx="547.41" cy="727.32" r="1.3" fill="#a8a8a8"/>
<circle cx="686.65" cy="728.62" r="1.3" fill="#a8a8a8"/>
<circle cx="629.55" cy="743.02" r="1.3" fill="#a8a8a8"/>
<circle cx="722.86" cy="745.2" r="1.3" fill="#a8a8a8"/>
<circle cx="695.88" cy="748.02" r="1.3" fill="#a8a8a8"/>
<circle cx="659.52" cy="734.52" r="1.3" fill="#a8a8a8"/>
<circle cx="617.33" cy="753.95" r="1.3" fill="#a8a8a8"/>
<circle cx="580.04" cy="739.31" r="1.3" fill="#a8a8a8"/>
<circle cx="590.36" cy="748.26" r="1.3" fill="#a8a8a8"/>
<circle cx="580.62" cy="758.39" r="1.3" fill="#a8a8a8"/>
<circle cx="420.5" cy="720" r="1.3" fill="#a8a8a8"/>
<circle cx="415.5" cy="741.9" r="1.3" fill="#a8a8a8"/>
<circle cx="455.5" cy="736.4" r="1.3" fill="#a8a8a8"/>
<circle cx="457.5" cy="737.5" r="1.3" fill="#a8a8a8"/>
<line x1="473.7" y1="744.2" x2="596.7" y2="744.2" stroke="#222" stroke-width="1.2" />
<line x1="681.6" y1="744.2" x2="759.3" y2="744.2" stroke="#222" stroke-width="1.2" />
<line x1="473.7" y1="716" x2="473.7" y2="771.7" stroke="#222" stroke-width="1.2" />
<line x1="759.3" y1="716" x2="759.3" y2="771.7" stroke="#222" stroke-width="1.2" />
<rect x="596.7" y="716" width="84.9" height="55.7" fill="none" stroke="#222" stroke-width="1.2" />
<line x1="643.5" y1="716" x2="643.5" y2="771.7" stroke="#222" stroke-width="1.2" />
<circle cx="532.5" cy="737" r="2.0" fill="#5cb85c"/>
<circle cx="541.5" cy="733.5" r="2.0" fill="#5cb85c"/>
<circle cx="556" cy="740" r="2.0" fill="#5cb85c"/>
<circle cx="549.5" cy="741" r="2.0" fill="#f2e034"/>
<circle cx="480.8" cy="751.5" r="2.0" fill="#f2e034"/>
<circle cx="533" cy="750" r="2.0" fill="#d48bcf"/>
<circle cx="627" cy="733.5" r="2.0" fill="#8a1a1e"/>
<circle cx="632" cy="732" r="2.0" fill="#f2e034"/>
<circle cx="625.5" cy="742.5" r="2.0" fill="#5cb85c"/>
<circle cx="627" cy="746" r="2.0" fill="#f2e034"/>
<circle cx="630.5" cy="740.5" r="2.0" fill="#8a1a1e"/>
<circle cx="628" cy="750" r="2.0" fill="#5cb85c"/>
<circle cx="622.5" cy="745.5" r="2.0" fill="#f2e034"/>
<circle cx="672.76" cy="732.71" r="2.0" fill="#f0652e"/>
<circle cx="662.31" cy="741.78" r="2.0" fill="#f0652e"/>
<circle cx="664.72" cy="737.78" r="2.0" fill="#f0652e"/>
<circle cx="667.15" cy="743.66" r="2.0" fill="#f0652e"/>
<circle cx="666.87" cy="732.75" r="2.0" fill="#f0652e"/>
<circle cx="664.25" cy="742.75" r="2.0" fill="#f0652e"/>
<circle cx="670.97" cy="732.82" r="2.0" fill="#f0652e"/>
<circle cx="672.6" cy="735.83" r="2.0" fill="#f0652e"/>
<circle cx="670" cy="738.34" r="2.0" fill="#f0652e"/>
<circle cx="671.44" cy="737.36" r="2.0" fill="#f0652e"/>
<circle cx="662.33" cy="738.25" r="2.0" fill="#f0652e"/>
<circle cx="671.36" cy="736.34" r="2.0" fill="#f0652e"/>
<circle cx="671.09" cy="736.81" r="2.0" fill="#f0652e"/>
<circle cx="665.95" cy="735.67" r="2.0" fill="#f0652e"/>
<circle cx="664.51" cy="737.51" r="2.0" fill="#f0652e"/>
<circle cx="672.55" cy="738.68" r="2.0" fill="#f0652e"/>
<text stroke="#6cc070" stroke-width="0.2" x="532" y="720.5" font-size="9.3" font-style="italic" fill="#6cc070" textLength="23.3" lengthAdjust="spacingAndGlyphs">PAK1</text>
<text stroke="#f0d820" stroke-width="0.2" x="464.3" y="779.4" font-size="9.3" font-style="italic" fill="#f0d820" textLength="33.1" lengthAdjust="spacingAndGlyphs">ZNF703</text>
<text stroke="#d080c8" stroke-width="0.2" x="524.4" y="777.2" font-size="9.3" font-style="italic" fill="#d080c8" textLength="19.9" lengthAdjust="spacingAndGlyphs">MYC</text>
<text stroke="#8a1a1e" stroke-width="0.2" x="610.4" y="783.8" font-size="9.3" font-style="italic" fill="#8a1a1e" textLength="29.8" lengthAdjust="spacingAndGlyphs">ERBB2</text>
<text stroke="#f0652e" stroke-width="0.2" x="648.5" y="783.8" font-size="9.3" font-style="italic" fill="#f0652e" textLength="39.1" lengthAdjust="spacingAndGlyphs">RPS6KB1</text>
<text stroke="#111" stroke-width="0.2" x="530.1" y="659.5" font-size="9.3" textLength="34.9" lengthAdjust="spacingAndGlyphs">Subtype</text>
<rect x="534.5" y="664.9" width="6.2" height="6.2" fill="#f0652e" stroke="#222" stroke-width="0.9" />
<text stroke="#111" stroke-width="0.2" x="545.5" y="671" font-size="9.3">IC1</text>
<rect x="570.2" y="664.9" width="6.2" height="6.2" fill="#5cb85c" stroke="#222" stroke-width="0.9" />
<text stroke="#111" stroke-width="0.2" x="581.2" y="671" font-size="9.3">IC2</text>
<rect x="604.9" y="664.9" width="6.2" height="6.2" fill="#f2e034" stroke="#222" stroke-width="0.9" />
<text stroke="#111" stroke-width="0.2" x="615.9" y="671" font-size="9.3">IC6</text>
<rect x="641.9" y="664.9" width="6.2" height="6.2" fill="#d48bcf" stroke="#222" stroke-width="0.9" />
<text stroke="#111" stroke-width="0.2" x="652.9" y="671" font-size="9.3">IC9</text>
<rect x="674.9" y="664.9" width="6.2" height="6.2" fill="#8a1a1e" stroke="#222" stroke-width="0.9" />
<text stroke="#111" stroke-width="0.2" x="685.9" y="671" font-size="9.3">IC5</text>
<text stroke="#111" stroke-width="0.2" x="765.9" y="677" font-size="9.3"><tspan font-style="italic">P</tspan><tspan font-size="6.2" dy="2.8">IC9</tspan><tspan dy="-2.8"> = 0.07</tspan></text>
<text stroke="#111" stroke-width="0.2" x="765.9" y="692.6" font-size="9.3"><tspan font-style="italic">P</tspan><tspan font-size="6.2" dy="2.8">IC6</tspan><tspan dy="-2.8"> = 0.02</tspan></text>
<text stroke="#111" stroke-width="0.2" x="765.9" y="709" font-size="9.3"><tspan font-style="italic">P</tspan><tspan font-size="6.2" dy="2.8">IC2</tspan><tspan dy="-2.8"> = 0.08</tspan></text>
<text stroke="#111" stroke-width="0.2" x="765.9" y="725.6" font-size="9.3"><tspan font-style="italic">P</tspan><tspan font-size="6.2" dy="2.8">HER2</tspan><tspan font-size="4.5" dy="-3">+</tspan><tspan dy="0.2"> = 0.40</tspan></text>
<text stroke="#111" stroke-width="0.2" x="765.9" y="741.4" font-size="9.3"><tspan font-style="italic">P</tspan><tspan font-size="6.2" dy="2.8">IC1</tspan><tspan dy="-2.8"> = 0.66</tspan></text>
</svg></body></html>
